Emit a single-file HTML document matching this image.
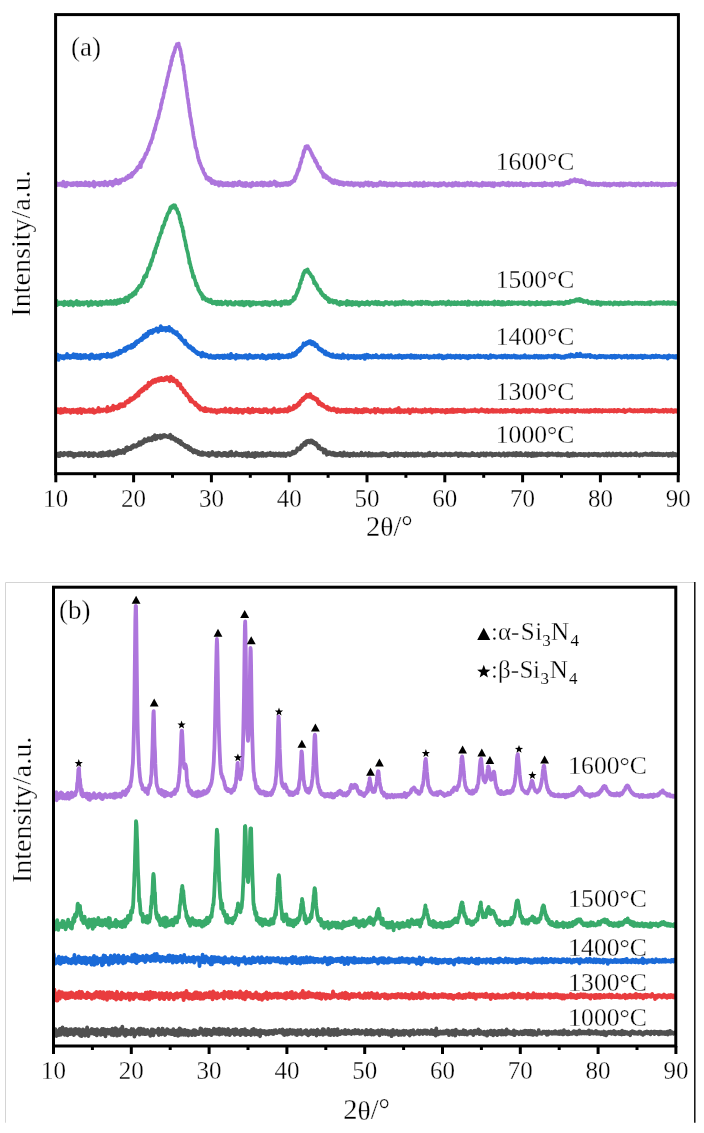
<!DOCTYPE html><html><head><meta charset="utf-8"><style>html,body{margin:0;padding:0;background:#fff;}svg{display:block;will-change:transform}text{font-family:"Liberation Serif",serif;fill:#000;stroke:#fff;stroke-width:0.3px}</style></head><body>
<svg width="704" height="1133" viewBox="0 0 704 1133">
<rect width="704" height="1133" fill="#fff"/>
<defs><clipPath id="ca"><rect x="55.8" y="0" width="622.6" height="480"/></clipPath><clipPath id="cb"><rect x="53.5" y="560" width="622.3" height="500"/></clipPath></defs>
<g clip-path="url(#ca)">
<polyline fill="none" stroke="#ad75dc" stroke-width="3.7" stroke-linejoin="round" points="55.8,184.6 56.1,185.1 56.4,184.6 56.7,183.0 57.0,185.2 57.4,184.7 57.7,183.8 58.0,184.9 58.3,184.7 58.6,184.6 58.9,184.3 59.2,184.8 59.5,183.6 59.8,184.1 60.2,183.8 60.5,184.9 60.8,184.3 61.1,184.0 61.4,183.5 61.7,184.0 62.0,184.3 62.3,184.0 62.6,185.6 63.0,185.3 63.3,181.6 63.6,182.4 63.9,184.1 64.2,183.9 64.5,184.5 64.8,184.5 65.1,186.4 65.4,183.2 65.8,183.9 66.1,186.3 66.4,184.9 66.7,185.0 67.0,183.8 67.3,182.7 67.6,184.5 67.9,184.4 68.2,183.1 68.6,183.6 68.9,184.2 69.2,183.4 69.5,184.2 69.8,184.4 70.1,184.3 70.4,183.8 70.7,184.9 71.0,185.2 71.4,184.6 71.7,183.5 72.0,185.0 72.3,183.8 72.6,185.2 72.9,183.2 73.2,185.2 73.5,184.3 73.8,183.1 74.2,184.0 74.5,184.3 74.8,184.6 75.1,183.3 75.4,183.2 75.7,184.5 76.0,183.8 76.3,184.5 76.7,185.0 77.0,182.7 77.3,184.5 77.6,185.5 77.9,184.0 78.2,183.5 78.5,185.0 78.8,184.5 79.1,185.2 79.5,183.9 79.8,182.8 80.1,184.2 80.4,183.8 80.7,185.0 81.0,184.5 81.3,182.7 81.6,183.1 81.9,185.1 82.3,184.9 82.6,183.6 82.9,184.3 83.2,184.7 83.5,184.7 83.8,185.1 84.1,184.5 84.4,184.2 84.7,184.0 85.1,185.3 85.4,182.0 85.7,184.1 86.0,184.3 86.3,182.8 86.6,184.6 86.9,183.6 87.2,185.1 87.5,184.1 87.9,184.9 88.2,185.4 88.5,184.6 88.8,183.4 89.1,182.7 89.4,185.9 89.7,184.1 90.0,183.5 90.3,184.3 90.7,184.0 91.0,185.0 91.3,184.2 91.6,184.2 91.9,183.5 92.2,184.6 92.5,183.2 92.8,184.8 93.1,185.6 93.5,182.7 93.8,181.7 94.1,184.7 94.4,186.6 94.7,183.1 95.0,182.9 95.3,184.7 95.6,183.3 95.9,183.6 96.3,183.7 96.6,184.6 96.9,183.7 97.2,184.3 97.5,183.9 97.8,183.2 98.1,183.7 98.4,183.1 98.7,184.0 99.1,182.9 99.4,182.9 99.7,185.4 100.0,183.9 100.3,183.9 100.6,184.4 100.9,183.5 101.2,183.7 101.5,184.3 101.9,184.1 102.2,182.7 102.5,184.6 102.8,183.3 103.1,182.8 103.4,182.9 103.7,183.4 104.0,185.3 104.3,182.6 104.7,183.9 105.0,181.6 105.3,183.7 105.6,184.5 105.9,183.4 106.2,183.0 106.5,183.8 106.8,184.2 107.1,184.1 107.5,185.4 107.8,183.7 108.1,182.9 108.4,183.3 108.7,183.3 109.0,183.4 109.3,183.3 109.6,183.4 109.9,181.6 110.3,184.0 110.6,182.6 110.9,182.0 111.2,183.7 111.5,184.3 111.8,183.5 112.1,183.1 112.4,182.0 112.7,185.6 113.1,183.6 113.4,181.7 113.7,182.0 114.0,182.7 114.3,181.1 114.6,182.7 114.9,182.0 115.2,183.6 115.6,183.3 115.9,179.7 116.2,182.3 116.5,180.6 116.8,183.1 117.1,182.2 117.4,182.5 117.7,180.8 118.0,183.5 118.4,183.6 118.7,180.6 119.0,181.9 119.3,180.8 119.6,181.3 119.9,180.1 120.2,182.9 120.5,180.1 120.8,180.7 121.2,181.3 121.5,180.1 121.8,180.4 122.1,180.0 122.4,180.3 122.7,179.2 123.0,179.7 123.3,179.8 123.6,179.6 124.0,179.8 124.3,179.3 124.6,180.2 124.9,179.0 125.2,179.0 125.5,178.4 125.8,178.4 126.1,177.5 126.4,179.0 126.8,177.3 127.1,177.5 127.4,178.3 127.7,178.2 128.0,177.2 128.3,175.5 128.6,177.6 128.9,177.3 129.2,175.5 129.6,177.3 129.9,175.7 130.2,175.1 130.5,176.0 130.8,175.5 131.1,175.6 131.4,173.7 131.7,176.6 132.0,174.1 132.4,172.9 132.7,174.7 133.0,173.5 133.3,173.8 133.6,172.9 133.9,172.9 134.2,172.9 134.5,171.6 134.8,172.6 135.2,171.2 135.5,170.5 135.8,171.0 136.1,171.0 136.4,170.0 136.7,169.0 137.0,170.1 137.3,167.4 137.6,167.7 138.0,168.3 138.3,166.6 138.6,167.5 138.9,166.9 139.2,167.4 139.5,165.2 139.8,165.0 140.1,165.5 140.4,162.4 140.8,167.1 141.1,163.0 141.4,162.5 141.7,163.4 142.0,162.1 142.3,159.9 142.6,161.6 142.9,161.2 143.2,159.4 143.6,159.0 143.9,159.1 144.2,157.2 144.5,157.8 144.8,157.0 145.1,155.5 145.4,154.2 145.7,154.6 146.0,153.3 146.4,154.3 146.7,152.8 147.0,152.7 147.3,151.4 147.6,150.7 147.9,149.0 148.2,149.6 148.5,149.8 148.8,147.1 149.2,146.0 149.5,145.6 149.8,144.4 150.1,143.4 150.4,143.3 150.7,142.0 151.0,142.7 151.3,140.5 151.6,139.9 152.0,139.5 152.3,137.4 152.6,138.1 152.9,135.2 153.2,134.0 153.5,133.4 153.8,132.7 154.1,130.5 154.5,130.7 154.8,128.1 155.1,129.9 155.4,127.4 155.7,125.8 156.0,124.5 156.3,123.8 156.6,122.9 156.9,121.0 157.3,119.9 157.6,119.4 157.9,117.9 158.2,118.1 158.5,117.1 158.8,114.8 159.1,114.0 159.4,111.1 159.7,111.7 160.1,109.8 160.4,109.0 160.7,108.8 161.0,104.0 161.3,105.0 161.6,102.4 161.9,102.7 162.2,99.6 162.5,99.0 162.9,98.4 163.2,97.4 163.5,95.6 163.8,93.4 164.1,92.3 164.4,92.2 164.7,90.1 165.0,87.2 165.3,88.1 165.7,86.4 166.0,85.4 166.3,83.0 166.6,82.7 166.9,79.6 167.2,79.7 167.5,77.4 167.8,77.1 168.1,76.0 168.5,73.1 168.8,72.4 169.1,71.1 169.4,70.9 169.7,69.1 170.0,66.1 170.3,66.3 170.6,65.3 170.9,65.3 171.3,60.6 171.6,60.4 171.9,60.9 172.2,57.3 172.5,56.3 172.8,56.7 173.1,56.1 173.4,53.5 173.7,53.5 174.1,52.1 174.4,52.4 174.7,50.1 175.0,50.1 175.3,47.5 175.6,47.4 175.9,46.7 176.2,47.1 176.5,46.0 176.9,44.2 177.2,45.1 177.5,44.8 177.8,43.8 178.1,43.9 178.4,44.4 178.7,43.6 179.0,46.1 179.3,47.0 179.7,47.1 180.0,49.7 180.3,49.1 180.6,51.2 180.9,52.7 181.2,56.5 181.5,54.9 181.8,58.5 182.1,60.6 182.5,61.9 182.8,64.6 183.1,64.5 183.4,65.4 183.7,70.2 184.0,70.5 184.3,73.3 184.6,74.7 184.9,78.9 185.3,80.9 185.6,81.7 185.9,85.3 186.2,86.8 186.5,88.8 186.8,91.2 187.1,93.2 187.4,96.2 187.7,98.1 188.1,99.8 188.4,103.2 188.7,103.9 189.0,106.9 189.3,109.1 189.6,112.2 189.9,112.6 190.2,116.6 190.5,117.3 190.9,119.0 191.2,120.6 191.5,123.7 191.8,125.1 192.1,126.0 192.4,127.8 192.7,130.2 193.0,131.9 193.4,135.2 193.7,137.2 194.0,138.4 194.3,139.6 194.6,140.5 194.9,142.5 195.2,144.8 195.5,147.4 195.8,147.8 196.2,148.2 196.5,149.8 196.8,150.7 197.1,151.8 197.4,153.6 197.7,155.1 198.0,157.8 198.3,157.3 198.6,159.6 199.0,161.1 199.3,160.6 199.6,163.0 199.9,163.2 200.2,163.1 200.5,164.7 200.8,165.3 201.1,166.0 201.4,166.8 201.8,167.9 202.1,168.9 202.4,168.5 202.7,170.0 203.0,169.3 203.3,171.5 203.6,172.5 203.9,172.7 204.2,173.3 204.6,174.2 204.9,173.6 205.2,174.5 205.5,175.6 205.8,176.5 206.1,176.4 206.4,178.7 206.7,176.8 207.0,178.2 207.4,178.8 207.7,177.9 208.0,177.6 208.3,177.6 208.6,179.1 208.9,180.2 209.2,179.8 209.5,180.0 209.8,179.7 210.2,180.8 210.5,178.6 210.8,180.9 211.1,181.0 211.4,179.9 211.7,183.2 212.0,180.3 212.3,180.7 212.6,180.8 213.0,182.9 213.3,181.3 213.6,182.8 213.9,182.9 214.2,182.7 214.5,181.4 214.8,182.2 215.1,184.2 215.4,181.8 215.8,182.2 216.1,182.9 216.4,183.8 216.7,183.4 217.0,183.9 217.3,182.4 217.6,184.2 217.9,184.0 218.2,182.1 218.6,184.9 218.9,185.6 219.2,183.0 219.5,183.7 219.8,185.0 220.1,182.5 220.4,182.1 220.7,182.7 221.0,183.4 221.4,183.4 221.7,184.5 222.0,184.2 222.3,182.9 222.6,184.5 222.9,185.6 223.2,185.1 223.5,184.9 223.8,184.1 224.2,184.9 224.5,183.3 224.8,184.8 225.1,184.1 225.4,185.1 225.7,184.6 226.0,183.2 226.3,184.3 226.6,185.2 227.0,183.2 227.3,183.7 227.6,183.5 227.9,182.9 228.2,185.1 228.5,185.4 228.8,184.9 229.1,184.4 229.4,184.2 229.8,184.5 230.1,183.6 230.4,185.0 230.7,185.2 231.0,185.1 231.3,183.8 231.6,184.3 231.9,184.1 232.3,185.8 232.6,184.4 232.9,182.7 233.2,184.6 233.5,185.9 233.8,184.9 234.1,185.0 234.4,184.3 234.7,182.6 235.1,182.7 235.4,183.2 235.7,184.2 236.0,184.6 236.3,184.9 236.6,184.0 236.9,185.1 237.2,184.1 237.5,183.7 237.9,185.0 238.2,183.5 238.5,182.0 238.8,183.4 239.1,184.4 239.4,181.7 239.7,184.0 240.0,184.0 240.3,183.1 240.7,183.0 241.0,183.9 241.3,183.8 241.6,185.4 241.9,184.6 242.2,183.0 242.5,183.6 242.8,184.9 243.1,185.9 243.5,184.6 243.8,184.6 244.1,185.9 244.4,184.3 244.7,184.0 245.0,183.1 245.3,183.9 245.6,186.1 245.9,183.1 246.3,184.3 246.6,183.1 246.9,184.4 247.2,185.1 247.5,184.1 247.8,184.9 248.1,184.9 248.4,184.7 248.7,185.8 249.1,185.0 249.4,184.0 249.7,183.7 250.0,183.6 250.3,184.7 250.6,184.0 250.9,186.6 251.2,185.9 251.5,184.1 251.9,184.0 252.2,185.7 252.5,182.7 252.8,183.9 253.1,185.1 253.4,183.5 253.7,183.9 254.0,184.0 254.3,184.9 254.7,184.4 255.0,184.6 255.3,184.8 255.6,184.3 255.9,185.2 256.2,183.7 256.5,183.1 256.8,182.8 257.1,182.9 257.5,183.8 257.8,185.2 258.1,184.4 258.4,183.8 258.7,183.4 259.0,183.9 259.3,184.0 259.6,183.8 259.9,183.1 260.3,183.9 260.6,185.1 260.9,182.5 261.2,184.1 261.5,182.5 261.8,184.5 262.1,183.7 262.4,182.6 262.7,184.4 263.1,185.8 263.4,184.4 263.7,185.3 264.0,184.2 264.3,182.5 264.6,184.7 264.9,184.0 265.2,183.1 265.5,185.0 265.9,184.5 266.2,183.9 266.5,185.0 266.8,183.6 267.1,184.8 267.4,183.5 267.7,184.7 268.0,183.4 268.3,185.5 268.7,184.5 269.0,185.5 269.3,183.6 269.6,183.9 269.9,185.0 270.2,182.0 270.5,183.4 270.8,185.2 271.2,184.7 271.5,185.1 271.8,184.0 272.1,184.8 272.4,183.7 272.7,183.2 273.0,182.9 273.3,183.8 273.6,183.8 274.0,183.8 274.3,181.4 274.6,182.7 274.9,183.9 275.2,184.5 275.5,183.8 275.8,183.6 276.1,182.4 276.4,186.0 276.8,183.4 277.1,185.7 277.4,185.6 277.7,184.5 278.0,183.8 278.3,184.4 278.6,183.4 278.9,184.5 279.2,184.3 279.6,184.7 279.9,185.1 280.2,185.7 280.5,184.0 280.8,185.1 281.1,183.6 281.4,183.6 281.7,183.8 282.0,183.5 282.4,185.1 282.7,185.0 283.0,185.3 283.3,184.3 283.6,184.5 283.9,183.8 284.2,183.3 284.5,184.6 284.8,184.4 285.2,183.3 285.5,184.7 285.8,182.8 286.1,184.0 286.4,183.6 286.7,183.7 287.0,183.2 287.3,184.8 287.6,184.5 288.0,184.9 288.3,184.0 288.6,182.8 288.9,183.4 289.2,182.7 289.5,183.9 289.8,184.4 290.1,183.6 290.4,182.7 290.8,182.8 291.1,183.1 291.4,181.5 291.7,182.6 292.0,182.4 292.3,181.6 292.6,181.4 292.9,181.6 293.2,180.5 293.6,180.1 293.9,181.0 294.2,180.1 294.5,180.9 294.8,178.2 295.1,177.0 295.4,178.7 295.7,178.1 296.0,176.1 296.4,174.8 296.7,175.2 297.0,173.1 297.3,173.4 297.6,171.1 297.9,171.8 298.2,169.3 298.5,169.9 298.8,170.3 299.2,167.9 299.5,167.7 299.8,165.5 300.1,164.2 300.4,162.6 300.7,163.6 301.0,161.6 301.3,161.8 301.6,158.5 302.0,158.1 302.3,157.3 302.6,157.3 302.9,156.6 303.2,153.7 303.5,152.3 303.8,150.9 304.1,152.5 304.4,150.6 304.8,149.4 305.1,149.2 305.4,146.7 305.7,146.8 306.0,148.5 306.3,147.7 306.6,147.3 306.9,146.2 307.2,147.3 307.6,148.3 307.9,146.2 308.2,147.5 308.5,147.6 308.8,148.6 309.1,148.9 309.4,149.2 309.7,149.2 310.1,150.4 310.4,150.5 310.7,151.5 311.0,152.1 311.3,153.3 311.6,153.0 311.9,153.8 312.2,155.5 312.5,155.1 312.9,155.7 313.2,157.3 313.5,157.4 313.8,157.9 314.1,158.7 314.4,158.1 314.7,160.1 315.0,161.4 315.3,161.4 315.7,160.3 316.0,162.4 316.3,162.0 316.6,163.2 316.9,164.0 317.2,163.6 317.5,166.1 317.8,165.6 318.1,166.8 318.5,167.2 318.8,168.3 319.1,168.7 319.4,167.1 319.7,168.8 320.0,167.5 320.3,169.3 320.6,170.7 320.9,171.3 321.3,172.0 321.6,171.2 321.9,172.1 322.2,172.4 322.5,173.7 322.8,174.3 323.1,173.2 323.4,176.8 323.7,174.2 324.1,174.3 324.4,175.3 324.7,175.8 325.0,176.0 325.3,175.3 325.6,177.3 325.9,176.5 326.2,177.9 326.5,178.1 326.9,176.3 327.2,176.8 327.5,177.0 327.8,178.2 328.1,178.3 328.4,178.7 328.7,178.1 329.0,179.3 329.3,180.2 329.7,178.3 330.0,179.4 330.3,179.9 330.6,179.8 330.9,179.9 331.2,181.6 331.5,181.4 331.8,181.2 332.1,180.1 332.5,182.6 332.8,181.3 333.1,180.7 333.4,181.0 333.7,181.0 334.0,183.2 334.3,181.8 334.6,181.8 334.9,180.2 335.3,182.5 335.6,181.2 335.9,181.3 336.2,182.7 336.5,181.7 336.8,183.1 337.1,183.4 337.4,181.2 337.7,182.6 338.1,181.5 338.4,182.8 338.7,183.6 339.0,181.9 339.3,184.4 339.6,182.8 339.9,182.2 340.2,183.1 340.5,183.8 340.9,182.2 341.2,183.3 341.5,182.3 341.8,184.3 342.1,183.6 342.4,183.2 342.7,184.3 343.0,182.6 343.3,183.3 343.7,185.0 344.0,183.6 344.3,184.7 344.6,183.9 344.9,183.2 345.2,183.6 345.5,183.9 345.8,183.5 346.1,183.2 346.5,183.3 346.8,182.7 347.1,184.0 347.4,184.2 347.7,184.5 348.0,182.6 348.3,184.6 348.6,184.0 349.0,182.9 349.3,184.1 349.6,184.7 349.9,184.4 350.2,184.6 350.5,184.8 350.8,184.8 351.1,184.1 351.4,182.5 351.8,183.5 352.1,184.4 352.4,183.8 352.7,184.7 353.0,184.7 353.3,184.2 353.6,185.6 353.9,183.4 354.2,184.9 354.6,183.8 354.9,183.6 355.2,184.6 355.5,183.7 355.8,184.8 356.1,183.3 356.4,184.2 356.7,183.6 357.0,184.0 357.4,183.9 357.7,183.4 358.0,184.7 358.3,183.3 358.6,183.5 358.9,184.9 359.2,185.0 359.5,184.7 359.8,184.5 360.2,186.0 360.5,183.3 360.8,183.7 361.1,183.5 361.4,184.9 361.7,184.5 362.0,185.1 362.3,185.0 362.6,184.1 363.0,183.6 363.3,183.5 363.6,185.9 363.9,185.0 364.2,184.7 364.5,184.0 364.8,184.1 365.1,184.0 365.4,184.0 365.8,182.5 366.1,184.2 366.4,184.0 366.7,184.5 367.0,184.4 367.3,184.9 367.6,184.3 367.9,184.9 368.2,182.4 368.6,183.5 368.9,185.6 369.2,183.4 369.5,184.1 369.8,184.8 370.1,183.6 370.4,184.8 370.7,183.2 371.0,182.9 371.4,183.3 371.7,183.1 372.0,184.3 372.3,184.0 372.6,184.5 372.9,183.5 373.2,186.2 373.5,184.2 373.8,184.3 374.2,184.6 374.5,184.1 374.8,183.8 375.1,184.4 375.4,185.0 375.7,184.8 376.0,185.0 376.3,183.9 376.6,183.7 377.0,185.8 377.3,184.1 377.6,184.6 377.9,184.8 378.2,185.3 378.5,183.3 378.8,183.9 379.1,184.0 379.4,184.1 379.8,182.5 380.1,184.2 380.4,182.2 380.7,184.5 381.0,184.7 381.3,184.7 381.6,183.4 381.9,185.0 382.2,183.7 382.6,183.4 382.9,183.6 383.2,183.7 383.5,184.4 383.8,184.9 384.1,182.7 384.4,183.9 384.7,185.0 385.0,184.4 385.4,184.7 385.7,183.2 386.0,185.0 386.3,183.1 386.6,184.4 386.9,185.3 387.2,185.7 387.5,184.7 387.9,184.9 388.2,183.9 388.5,183.9 388.8,185.2 389.1,184.3 389.4,184.2 389.7,183.3 390.0,184.4 390.3,184.8 390.7,183.7 391.0,183.9 391.3,185.5 391.6,184.4 391.9,184.1 392.2,183.5 392.5,183.8 392.8,184.1 393.1,185.3 393.5,183.9 393.8,185.6 394.1,183.6 394.4,184.0 394.7,184.9 395.0,184.1 395.3,183.7 395.6,184.2 395.9,184.6 396.3,183.1 396.6,184.1 396.9,184.2 397.2,184.0 397.5,184.8 397.8,183.9 398.1,184.0 398.4,184.3 398.7,184.8 399.1,184.1 399.4,185.4 399.7,183.6 400.0,185.2 400.3,183.7 400.6,184.2 400.9,184.6 401.2,185.8 401.5,184.9 401.9,184.0 402.2,185.2 402.5,184.1 402.8,183.7 403.1,184.6 403.4,184.4 403.7,185.0 404.0,183.9 404.3,184.6 404.7,184.8 405.0,184.5 405.3,184.3 405.6,183.8 405.9,184.9 406.2,184.4 406.5,184.7 406.8,184.0 407.1,184.3 407.5,183.6 407.8,184.4 408.1,184.8 408.4,184.4 408.7,184.9 409.0,184.5 409.3,185.3 409.6,184.2 409.9,183.1 410.3,184.6 410.6,184.2 410.9,183.6 411.2,184.8 411.5,184.5 411.8,184.6 412.1,184.1 412.4,184.4 412.7,184.5 413.1,185.6 413.4,183.8 413.7,184.3 414.0,184.6 414.3,183.1 414.6,183.2 414.9,185.8 415.2,183.0 415.5,184.7 415.9,183.7 416.2,183.8 416.5,182.9 416.8,183.7 417.1,184.9 417.4,183.3 417.7,184.7 418.0,184.5 418.3,185.7 418.7,184.0 419.0,185.2 419.3,184.9 419.6,184.1 419.9,183.1 420.2,185.4 420.5,183.3 420.8,184.0 421.1,184.9 421.5,185.1 421.8,183.7 422.1,184.3 422.4,184.1 422.7,185.1 423.0,186.1 423.3,183.0 423.6,184.9 423.9,182.3 424.3,184.3 424.6,183.5 424.9,185.7 425.2,184.4 425.5,183.8 425.8,183.9 426.1,183.9 426.4,184.4 426.8,184.2 427.1,184.8 427.4,185.4 427.7,184.8 428.0,183.4 428.3,183.2 428.6,183.8 428.9,185.0 429.2,184.1 429.6,183.8 429.9,184.4 430.2,183.3 430.5,183.5 430.8,184.7 431.1,184.1 431.4,184.0 431.7,184.5 432.0,183.9 432.4,183.8 432.7,184.0 433.0,184.7 433.3,184.3 433.6,183.5 433.9,184.1 434.2,184.8 434.5,185.6 434.8,183.5 435.2,184.5 435.5,184.1 435.8,184.9 436.1,184.6 436.4,185.3 436.7,184.7 437.0,183.9 437.3,183.9 437.6,184.6 438.0,184.6 438.3,186.0 438.6,185.5 438.9,183.5 439.2,184.5 439.5,183.4 439.8,183.2 440.1,184.8 440.4,184.7 440.8,183.6 441.1,185.4 441.4,183.6 441.7,183.5 442.0,184.8 442.3,184.5 442.6,184.2 442.9,184.3 443.2,184.5 443.6,184.2 443.9,184.2 444.2,183.0 444.5,183.4 444.8,184.7 445.1,183.8 445.4,184.7 445.7,185.1 446.0,184.1 446.4,184.5 446.7,185.7 447.0,184.8 447.3,185.6 447.6,185.4 447.9,184.8 448.2,184.2 448.5,183.7 448.8,183.5 449.2,184.6 449.5,184.6 449.8,184.2 450.1,184.9 450.4,183.9 450.7,185.1 451.0,184.3 451.3,184.3 451.6,184.3 452.0,184.2 452.3,186.0 452.6,183.2 452.9,184.4 453.2,185.1 453.5,184.8 453.8,184.1 454.1,185.5 454.4,183.6 454.8,183.4 455.1,184.7 455.4,183.3 455.7,182.7 456.0,184.9 456.3,184.8 456.6,184.8 456.9,184.0 457.2,184.4 457.6,183.6 457.9,185.5 458.2,184.8 458.5,184.8 458.8,183.0 459.1,184.8 459.4,185.3 459.7,185.1 460.0,184.8 460.4,184.3 460.7,184.1 461.0,184.7 461.3,184.6 461.6,184.5 461.9,184.1 462.2,185.4 462.5,183.5 462.8,184.3 463.2,183.9 463.5,185.0 463.8,185.3 464.1,185.1 464.4,184.8 464.7,183.4 465.0,185.7 465.3,184.6 465.7,184.2 466.0,184.3 466.3,184.1 466.6,184.6 466.9,184.5 467.2,184.1 467.5,182.6 467.8,184.3 468.1,184.6 468.5,184.7 468.8,184.2 469.1,184.6 469.4,185.0 469.7,184.0 470.0,185.3 470.3,183.0 470.6,183.5 470.9,183.7 471.3,182.7 471.6,183.6 471.9,185.1 472.2,185.1 472.5,184.4 472.8,185.4 473.1,184.5 473.4,184.0 473.7,184.5 474.1,184.2 474.4,184.8 474.7,183.3 475.0,185.0 475.3,184.0 475.6,184.9 475.9,183.3 476.2,184.0 476.5,184.4 476.9,184.9 477.2,183.5 477.5,185.4 477.8,184.6 478.1,184.0 478.4,185.1 478.7,184.4 479.0,185.1 479.3,185.8 479.7,184.8 480.0,184.0 480.3,184.0 480.6,184.7 480.9,184.5 481.2,183.8 481.5,183.9 481.8,184.7 482.1,185.8 482.5,182.6 482.8,184.8 483.1,184.2 483.4,184.8 483.7,184.9 484.0,184.3 484.3,183.6 484.6,183.4 484.9,183.1 485.3,185.1 485.6,184.2 485.9,183.9 486.2,184.1 486.5,183.4 486.8,184.5 487.1,185.2 487.4,185.0 487.7,183.3 488.1,185.2 488.4,183.8 488.7,183.1 489.0,183.5 489.3,183.7 489.6,184.3 489.9,183.6 490.2,183.3 490.5,184.1 490.9,185.6 491.2,183.8 491.5,184.6 491.8,184.4 492.1,186.0 492.4,183.1 492.7,185.0 493.0,183.5 493.3,183.9 493.7,184.2 494.0,186.4 494.3,183.8 494.6,183.1 494.9,185.1 495.2,183.8 495.5,184.1 495.8,184.3 496.1,184.4 496.5,184.2 496.8,184.5 497.1,184.6 497.4,184.9 497.7,184.0 498.0,183.8 498.3,183.6 498.6,184.7 498.9,184.3 499.3,184.7 499.6,184.6 499.9,185.4 500.2,184.4 500.5,184.8 500.8,183.5 501.1,183.6 501.4,184.1 501.7,183.5 502.1,184.7 502.4,183.4 502.7,184.3 503.0,182.7 503.3,183.6 503.6,184.1 503.9,184.1 504.2,183.2 504.6,184.4 504.9,184.9 505.2,184.7 505.5,183.9 505.8,183.9 506.1,183.5 506.4,184.7 506.7,185.2 507.0,184.0 507.4,183.2 507.7,184.4 508.0,184.8 508.3,182.6 508.6,184.4 508.9,185.7 509.2,184.8 509.5,184.6 509.8,184.6 510.2,185.0 510.5,183.7 510.8,183.8 511.1,184.6 511.4,183.9 511.7,184.5 512.0,183.1 512.3,184.8 512.6,184.8 513.0,184.3 513.3,184.4 513.6,185.3 513.9,183.6 514.2,183.7 514.5,183.6 514.8,184.0 515.1,183.7 515.4,184.3 515.8,183.9 516.1,183.4 516.4,183.3 516.7,185.1 517.0,184.3 517.3,184.2 517.6,184.3 517.9,184.2 518.2,184.8 518.6,184.7 518.9,183.9 519.2,183.8 519.5,183.6 519.8,183.5 520.1,185.2 520.4,183.7 520.7,183.0 521.0,183.8 521.4,183.8 521.7,184.5 522.0,183.7 522.3,184.6 522.6,184.5 522.9,185.1 523.2,185.7 523.5,186.1 523.8,185.1 524.2,183.6 524.5,184.0 524.8,184.5 525.1,185.6 525.4,184.7 525.7,185.0 526.0,184.2 526.3,184.7 526.6,184.7 527.0,184.0 527.3,184.8 527.6,185.0 527.9,184.2 528.2,184.9 528.5,185.3 528.8,184.3 529.1,184.3 529.4,184.1 529.8,183.9 530.1,184.4 530.4,184.0 530.7,184.1 531.0,183.8 531.3,183.4 531.6,183.7 531.9,184.5 532.2,183.6 532.6,183.9 532.9,185.3 533.2,185.0 533.5,183.9 533.8,184.7 534.1,183.9 534.4,185.3 534.7,183.9 535.0,184.4 535.4,185.2 535.7,183.8 536.0,185.1 536.3,183.8 536.6,184.4 536.9,184.1 537.2,184.2 537.5,184.4 537.8,184.3 538.2,183.7 538.5,184.8 538.8,184.7 539.1,185.1 539.4,185.1 539.7,183.5 540.0,185.1 540.3,185.1 540.6,184.0 541.0,184.9 541.3,185.2 541.6,184.0 541.9,183.5 542.2,184.1 542.5,186.0 542.8,184.4 543.1,183.6 543.5,184.1 543.8,183.7 544.1,184.1 544.4,184.4 544.7,182.7 545.0,184.5 545.3,185.2 545.6,184.2 545.9,184.1 546.3,185.0 546.6,183.5 546.9,183.5 547.2,183.5 547.5,184.2 547.8,184.5 548.1,184.2 548.4,184.6 548.7,184.8 549.1,184.6 549.4,183.8 549.7,184.1 550.0,185.0 550.3,183.7 550.6,184.1 550.9,184.0 551.2,184.2 551.5,183.6 551.9,183.5 552.2,185.8 552.5,184.9 552.8,183.9 553.1,184.3 553.4,184.7 553.7,184.1 554.0,184.6 554.3,183.9 554.7,184.1 555.0,184.2 555.3,184.0 555.6,182.8 555.9,184.3 556.2,184.4 556.5,184.5 556.8,183.6 557.1,184.4 557.5,184.3 557.8,183.1 558.1,182.9 558.4,184.4 558.7,183.6 559.0,184.7 559.3,185.4 559.6,183.7 559.9,183.6 560.3,184.0 560.6,184.4 560.9,183.3 561.2,184.7 561.5,184.5 561.8,184.2 562.1,183.5 562.4,184.3 562.7,184.2 563.1,182.9 563.4,184.8 563.7,183.3 564.0,183.7 564.3,183.1 564.6,183.5 564.9,183.9 565.2,182.7 565.5,182.1 565.9,182.7 566.2,182.1 566.5,182.3 566.8,182.6 567.1,182.5 567.4,183.2 567.7,181.8 568.0,182.5 568.3,181.8 568.7,182.8 569.0,183.4 569.3,182.0 569.6,182.7 569.9,181.3 570.2,180.5 570.5,180.6 570.8,180.3 571.1,180.6 571.5,180.9 571.8,181.6 572.1,181.3 572.4,181.1 572.7,180.5 573.0,180.2 573.3,180.6 573.6,180.6 573.9,180.6 574.3,180.6 574.6,180.3 574.9,179.2 575.2,179.7 575.5,179.8 575.8,181.3 576.1,180.1 576.4,180.7 576.7,181.2 577.1,180.6 577.4,180.2 577.7,180.3 578.0,179.9 578.3,180.7 578.6,181.3 578.9,181.0 579.2,181.2 579.5,181.3 579.9,182.1 580.2,180.7 580.5,181.2 580.8,181.6 581.1,182.0 581.4,180.0 581.7,181.2 582.0,181.5 582.4,181.2 582.7,182.4 583.0,182.1 583.3,181.9 583.6,181.3 583.9,181.5 584.2,181.8 584.5,182.8 584.8,181.9 585.2,181.5 585.5,182.0 585.8,182.6 586.1,184.0 586.4,184.5 586.7,182.9 587.0,183.8 587.3,184.1 587.6,184.1 588.0,183.4 588.3,182.8 588.6,183.3 588.9,182.6 589.2,183.8 589.5,184.2 589.8,182.7 590.1,183.8 590.4,184.1 590.8,184.6 591.1,184.8 591.4,184.5 591.7,183.6 592.0,183.8 592.3,184.8 592.6,183.8 592.9,184.1 593.2,185.0 593.6,184.2 593.9,183.4 594.2,184.0 594.5,184.6 594.8,184.1 595.1,184.9 595.4,185.0 595.7,183.9 596.0,184.0 596.4,184.2 596.7,183.6 597.0,184.5 597.3,184.2 597.6,184.7 597.9,183.9 598.2,183.8 598.5,185.3 598.8,183.8 599.2,184.0 599.5,183.9 599.8,184.1 600.1,183.8 600.4,184.3 600.7,183.9 601.0,184.1 601.3,184.5 601.6,184.7 602.0,184.6 602.3,183.9 602.6,184.5 602.9,184.2 603.2,184.2 603.5,183.3 603.8,184.7 604.1,184.2 604.4,185.3 604.8,184.7 605.1,183.7 605.4,183.5 605.7,184.9 606.0,183.8 606.3,184.7 606.6,184.1 606.9,185.5 607.2,184.3 607.6,185.1 607.9,185.0 608.2,184.0 608.5,184.1 608.8,185.1 609.1,184.3 609.4,183.8 609.7,185.0 610.0,185.7 610.4,184.3 610.7,185.1 611.0,184.2 611.3,185.1 611.6,184.2 611.9,185.1 612.2,184.6 612.5,184.2 612.8,184.5 613.2,184.0 613.5,183.7 613.8,183.7 614.1,184.3 614.4,183.7 614.7,184.6 615.0,184.6 615.3,184.6 615.6,184.1 616.0,184.4 616.3,184.3 616.6,185.1 616.9,183.9 617.2,184.1 617.5,184.2 617.8,184.3 618.1,183.9 618.4,184.0 618.8,184.9 619.1,184.0 619.4,184.8 619.7,185.5 620.0,185.0 620.3,183.4 620.6,184.8 620.9,184.6 621.3,184.6 621.6,183.5 621.9,184.8 622.2,183.7 622.5,185.0 622.8,184.9 623.1,185.7 623.4,184.1 623.7,183.5 624.1,184.9 624.4,184.8 624.7,184.1 625.0,185.1 625.3,184.7 625.6,183.6 625.9,184.1 626.2,184.1 626.5,184.3 626.9,184.4 627.2,184.0 627.5,184.2 627.8,184.7 628.1,184.3 628.4,184.2 628.7,184.2 629.0,184.3 629.3,183.3 629.7,184.4 630.0,183.8 630.3,184.4 630.6,183.5 630.9,184.8 631.2,184.5 631.5,183.6 631.8,184.5 632.1,183.9 632.5,185.3 632.8,184.6 633.1,183.9 633.4,184.5 633.7,184.3 634.0,185.0 634.3,184.5 634.6,184.6 634.9,183.7 635.3,184.8 635.6,185.5 635.9,184.7 636.2,184.3 636.5,184.4 636.8,183.8 637.1,184.4 637.4,183.8 637.7,184.4 638.1,184.1 638.4,183.9 638.7,184.6 639.0,183.5 639.3,184.3 639.6,183.6 639.9,185.3 640.2,185.4 640.5,184.8 640.9,185.3 641.2,184.7 641.5,184.6 641.8,184.1 642.1,183.9 642.4,184.4 642.7,184.1 643.0,184.1 643.3,184.7 643.7,184.3 644.0,183.5 644.3,184.2 644.6,183.9 644.9,184.2 645.2,183.8 645.5,185.0 645.8,185.3 646.1,183.7 646.5,184.7 646.8,184.6 647.1,183.8 647.4,184.4 647.7,185.1 648.0,184.8 648.3,185.2 648.6,183.7 648.9,183.9 649.3,184.5 649.6,184.5 649.9,184.3 650.2,184.1 650.5,184.1 650.8,184.0 651.1,184.6 651.4,182.9 651.7,185.2 652.1,184.1 652.4,183.6 652.7,184.6 653.0,183.6 653.3,184.5 653.6,184.1 653.9,184.6 654.2,184.7 654.5,185.0 654.9,184.1 655.2,184.2 655.5,184.3 655.8,183.6 656.1,184.6 656.4,184.4 656.7,183.6 657.0,184.9 657.3,185.0 657.7,183.6 658.0,184.6 658.3,185.0 658.6,184.8 658.9,183.8 659.2,183.6 659.5,184.3 659.8,184.1 660.2,184.3 660.5,184.3 660.8,184.6 661.1,184.0 661.4,184.2 661.7,185.8 662.0,184.2 662.3,184.7 662.6,184.5 663.0,184.4 663.3,183.8 663.6,184.6 663.9,184.3 664.2,184.7 664.5,185.4 664.8,184.4 665.1,184.7 665.4,183.8 665.8,184.4 666.1,185.1 666.4,184.3 666.7,184.0 667.0,184.4 667.3,184.2 667.6,184.2 667.9,184.1 668.2,185.3 668.6,183.9 668.9,184.1 669.2,184.0 669.5,184.9 669.8,184.2 670.1,185.0 670.4,184.4 670.7,184.3 671.0,183.6 671.4,184.9 671.7,184.6 672.0,184.5 672.3,184.3 672.6,184.1 672.9,183.7 673.2,184.8 673.5,184.4 673.8,184.1 674.2,184.0 674.5,184.4 674.8,184.3 675.1,185.1 675.4,184.7 675.7,184.0 676.0,183.8 676.3,184.2 676.6,183.9 677.0,184.3 677.3,184.5 677.6,184.6 677.9,184.5 678.2,184.2"/>
<polyline fill="none" stroke="#38aa6a" stroke-width="3.7" stroke-linejoin="round" points="55.8,303.5 56.1,302.8 56.4,302.9 56.7,300.9 57.0,305.1 57.4,304.4 57.7,303.0 58.0,304.1 58.3,303.6 58.6,302.7 58.9,304.3 59.2,303.0 59.5,303.0 59.8,302.5 60.2,303.8 60.5,303.2 60.8,303.8 61.1,302.7 61.4,303.4 61.7,302.4 62.0,304.1 62.3,303.5 62.6,303.6 63.0,303.7 63.3,302.3 63.6,304.1 63.9,305.3 64.2,301.7 64.5,301.6 64.8,301.8 65.1,304.1 65.4,303.4 65.8,304.4 66.1,304.0 66.4,303.5 66.7,303.6 67.0,303.1 67.3,304.2 67.6,302.2 67.9,302.9 68.2,303.5 68.6,305.1 68.9,302.5 69.2,302.2 69.5,302.7 69.8,304.3 70.1,303.1 70.4,304.6 70.7,301.4 71.0,304.4 71.4,304.3 71.7,301.9 72.0,303.5 72.3,304.5 72.6,303.4 72.9,304.3 73.2,305.6 73.5,303.6 73.8,303.0 74.2,302.5 74.5,303.9 74.8,303.1 75.1,303.1 75.4,303.2 75.7,303.9 76.0,302.2 76.3,301.8 76.7,300.9 77.0,304.5 77.3,303.4 77.6,304.8 77.9,303.3 78.2,302.6 78.5,303.8 78.8,303.2 79.1,302.1 79.5,302.4 79.8,305.0 80.1,303.6 80.4,303.7 80.7,303.0 81.0,302.6 81.3,304.2 81.6,303.2 81.9,302.6 82.3,303.2 82.6,302.4 82.9,303.5 83.2,304.4 83.5,302.5 83.8,304.7 84.1,302.6 84.4,303.4 84.7,302.5 85.1,303.1 85.4,303.3 85.7,302.9 86.0,302.6 86.3,302.6 86.6,302.5 86.9,301.8 87.2,303.0 87.5,303.7 87.9,304.2 88.2,303.9 88.5,305.7 88.8,303.6 89.1,302.8 89.4,305.1 89.7,302.3 90.0,304.2 90.3,302.4 90.7,303.6 91.0,301.4 91.3,304.2 91.6,303.1 91.9,302.3 92.2,304.9 92.5,304.0 92.8,303.3 93.1,302.5 93.5,303.2 93.8,303.1 94.1,304.0 94.4,304.0 94.7,302.6 95.0,302.7 95.3,302.7 95.6,301.9 95.9,302.7 96.3,303.2 96.6,303.9 96.9,304.5 97.2,302.5 97.5,303.8 97.8,302.8 98.1,305.2 98.4,303.2 98.7,303.7 99.1,302.3 99.4,302.4 99.7,303.4 100.0,302.8 100.3,303.5 100.6,301.7 100.9,303.8 101.2,302.3 101.5,304.8 101.9,302.9 102.2,304.2 102.5,301.8 102.8,303.6 103.1,302.3 103.4,302.7 103.7,303.2 104.0,302.8 104.3,303.4 104.7,303.8 105.0,303.7 105.3,303.0 105.6,301.8 105.9,302.3 106.2,302.9 106.5,301.0 106.8,303.7 107.1,302.8 107.5,302.7 107.8,303.9 108.1,303.6 108.4,303.2 108.7,302.0 109.0,303.2 109.3,303.2 109.6,302.0 109.9,303.8 110.3,303.3 110.6,300.9 110.9,302.9 111.2,301.5 111.5,303.8 111.8,303.5 112.1,301.6 112.4,301.8 112.7,302.7 113.1,302.4 113.4,304.0 113.7,303.2 114.0,302.2 114.3,303.0 114.6,300.5 114.9,302.7 115.2,303.2 115.6,302.1 115.9,301.6 116.2,302.7 116.5,304.0 116.8,302.3 117.1,301.0 117.4,303.4 117.7,300.1 118.0,302.4 118.4,301.3 118.7,302.6 119.0,300.9 119.3,302.9 119.6,301.8 119.9,299.8 120.2,299.5 120.5,301.0 120.8,302.5 121.2,301.3 121.5,301.1 121.8,300.7 122.1,301.6 122.4,301.1 122.7,300.9 123.0,299.6 123.3,301.6 123.6,301.6 124.0,299.0 124.3,302.3 124.6,300.7 124.9,299.4 125.2,297.9 125.5,300.2 125.8,300.0 126.1,298.8 126.4,297.5 126.8,300.1 127.1,298.3 127.4,298.3 127.7,301.2 128.0,300.4 128.3,299.1 128.6,297.6 128.9,298.4 129.2,295.5 129.6,297.5 129.9,296.5 130.2,295.8 130.5,295.3 130.8,297.0 131.1,296.4 131.4,296.2 131.7,296.6 132.0,294.7 132.4,294.1 132.7,293.3 133.0,294.4 133.3,295.2 133.6,294.0 133.9,294.5 134.2,292.4 134.5,292.8 134.8,292.2 135.2,291.4 135.5,294.0 135.8,292.7 136.1,290.8 136.4,290.4 136.7,290.7 137.0,289.0 137.3,290.4 137.6,288.4 138.0,288.8 138.3,287.8 138.6,287.9 138.9,286.6 139.2,286.0 139.5,286.1 139.8,285.9 140.1,285.7 140.4,285.6 140.8,286.5 141.1,285.3 141.4,283.8 141.7,284.1 142.0,282.3 142.3,283.7 142.6,282.3 142.9,280.0 143.2,281.3 143.6,280.8 143.9,276.9 144.2,278.1 144.5,277.7 144.8,275.7 145.1,275.9 145.4,275.3 145.7,276.0 146.0,275.1 146.4,276.6 146.7,273.1 147.0,273.8 147.3,272.1 147.6,271.5 147.9,269.5 148.2,268.0 148.5,268.3 148.8,268.9 149.2,268.9 149.5,267.2 149.8,266.3 150.1,264.2 150.4,265.6 150.7,264.6 151.0,262.0 151.3,261.6 151.6,259.9 152.0,261.3 152.3,259.4 152.6,258.1 152.9,257.6 153.2,256.8 153.5,255.1 153.8,253.4 154.1,252.4 154.5,251.1 154.8,252.2 155.1,252.9 155.4,248.3 155.7,249.1 156.0,248.4 156.3,246.1 156.6,246.3 156.9,244.1 157.3,245.3 157.6,242.6 157.9,242.3 158.2,241.9 158.5,239.9 158.8,237.7 159.1,237.9 159.4,238.1 159.7,236.4 160.1,235.7 160.4,233.5 160.7,233.7 161.0,233.3 161.3,231.7 161.6,232.5 161.9,229.6 162.2,227.9 162.5,226.5 162.9,228.1 163.2,226.1 163.5,226.2 163.8,224.8 164.1,225.0 164.4,223.8 164.7,221.5 165.0,221.2 165.3,221.1 165.7,218.2 166.0,219.9 166.3,218.9 166.6,217.9 166.9,216.1 167.2,215.8 167.5,213.8 167.8,214.2 168.1,213.0 168.5,212.9 168.8,211.8 169.1,211.9 169.4,212.1 169.7,209.3 170.0,210.8 170.3,207.7 170.6,207.1 170.9,208.5 171.3,208.2 171.6,208.2 171.9,206.0 172.2,207.1 172.5,207.0 172.8,207.7 173.1,206.3 173.4,206.7 173.7,205.2 174.1,205.9 174.4,205.6 174.7,206.7 175.0,205.4 175.3,205.8 175.6,207.5 175.9,209.0 176.2,208.3 176.5,208.8 176.9,208.8 177.2,210.8 177.5,211.1 177.8,213.0 178.1,212.7 178.4,212.4 178.7,213.8 179.0,214.4 179.3,215.3 179.7,218.7 180.0,219.4 180.3,218.8 180.6,222.7 180.9,222.6 181.2,222.8 181.5,225.3 181.8,226.3 182.1,227.0 182.5,227.3 182.8,230.5 183.1,232.1 183.4,231.0 183.7,235.2 184.0,236.7 184.3,237.2 184.6,239.2 184.9,240.3 185.3,241.3 185.6,243.2 185.9,246.2 186.2,245.1 186.5,248.1 186.8,249.5 187.1,250.1 187.4,251.8 187.7,252.3 188.1,254.2 188.4,256.4 188.7,258.0 189.0,258.3 189.3,263.1 189.6,261.2 189.9,263.1 190.2,264.1 190.5,265.2 190.9,267.9 191.2,267.6 191.5,270.4 191.8,271.4 192.1,270.6 192.4,273.5 192.7,273.1 193.0,277.2 193.4,275.5 193.7,276.0 194.0,276.1 194.3,277.7 194.6,279.2 194.9,279.8 195.2,280.5 195.5,281.8 195.8,283.1 196.2,285.4 196.5,283.4 196.8,285.2 197.1,285.6 197.4,285.8 197.7,286.7 198.0,287.7 198.3,289.8 198.6,289.6 199.0,289.9 199.3,291.5 199.6,291.8 199.9,291.9 200.2,293.0 200.5,292.4 200.8,294.2 201.1,294.5 201.4,294.2 201.8,293.9 202.1,296.7 202.4,295.9 202.7,298.8 203.0,295.9 203.3,297.6 203.6,296.8 203.9,297.7 204.2,298.6 204.6,297.4 204.9,298.3 205.2,298.8 205.5,299.0 205.8,299.7 206.1,300.3 206.4,300.3 206.7,300.0 207.0,299.7 207.4,299.2 207.7,299.7 208.0,300.1 208.3,301.3 208.6,300.5 208.9,299.9 209.2,301.7 209.5,300.6 209.8,300.7 210.2,301.3 210.5,302.0 210.8,299.6 211.1,300.8 211.4,302.1 211.7,301.7 212.0,301.3 212.3,301.7 212.6,303.4 213.0,301.9 213.3,303.0 213.6,303.1 213.9,302.1 214.2,302.9 214.5,302.2 214.8,302.1 215.1,301.7 215.4,303.5 215.8,302.4 216.1,302.3 216.4,301.9 216.7,304.4 217.0,303.5 217.3,302.8 217.6,302.3 217.9,301.6 218.2,303.3 218.6,303.3 218.9,301.8 219.2,304.1 219.5,303.8 219.8,302.3 220.1,302.6 220.4,302.8 220.7,303.3 221.0,303.0 221.4,301.7 221.7,304.4 222.0,303.5 222.3,304.3 222.6,304.3 222.9,303.0 223.2,303.5 223.5,303.9 223.8,303.9 224.2,303.1 224.5,302.7 224.8,303.3 225.1,302.6 225.4,302.8 225.7,301.5 226.0,303.3 226.3,302.4 226.6,302.8 227.0,303.2 227.3,303.5 227.6,304.9 227.9,303.5 228.2,302.1 228.5,303.4 228.8,302.8 229.1,303.6 229.4,302.7 229.8,302.7 230.1,302.8 230.4,302.7 230.7,301.7 231.0,302.7 231.3,303.3 231.6,304.3 231.9,303.0 232.3,303.0 232.6,303.8 232.9,303.8 233.2,304.7 233.5,303.8 233.8,303.3 234.1,304.4 234.4,304.6 234.7,302.9 235.1,303.4 235.4,301.9 235.7,303.0 236.0,302.5 236.3,303.1 236.6,302.9 236.9,303.2 237.2,303.2 237.5,303.7 237.9,303.5 238.2,302.8 238.5,302.2 238.8,304.4 239.1,304.5 239.4,302.9 239.7,303.8 240.0,302.0 240.3,302.0 240.7,303.1 241.0,304.6 241.3,302.4 241.6,302.6 241.9,304.7 242.2,301.7 242.5,303.8 242.8,303.7 243.1,303.1 243.5,303.5 243.8,305.5 244.1,302.3 244.4,303.0 244.7,303.1 245.0,302.7 245.3,302.2 245.6,304.7 245.9,303.5 246.3,301.8 246.6,302.7 246.9,303.6 247.2,303.6 247.5,302.1 247.8,303.2 248.1,303.5 248.4,303.6 248.7,303.6 249.1,301.8 249.4,304.9 249.7,303.5 250.0,304.8 250.3,305.7 250.6,303.2 250.9,302.3 251.2,304.0 251.5,303.1 251.9,302.9 252.2,302.4 252.5,304.7 252.8,302.9 253.1,302.1 253.4,302.9 253.7,302.3 254.0,303.4 254.3,302.9 254.7,302.4 255.0,303.8 255.3,302.8 255.6,303.9 255.9,304.4 256.2,303.0 256.5,302.8 256.8,303.5 257.1,304.0 257.5,303.3 257.8,303.4 258.1,303.3 258.4,303.6 258.7,303.8 259.0,302.7 259.3,302.9 259.6,303.3 259.9,302.7 260.3,303.4 260.6,303.7 260.9,303.3 261.2,302.8 261.5,302.7 261.8,304.8 262.1,304.0 262.4,302.4 262.7,302.6 263.1,304.9 263.4,304.6 263.7,303.4 264.0,304.3 264.3,302.1 264.6,303.3 264.9,303.9 265.2,301.8 265.5,302.6 265.9,304.0 266.2,304.2 266.5,302.8 266.8,303.5 267.1,304.6 267.4,303.0 267.7,302.2 268.0,303.2 268.3,303.0 268.7,304.4 269.0,303.4 269.3,302.6 269.6,305.3 269.9,302.9 270.2,303.7 270.5,303.9 270.8,303.9 271.2,303.4 271.5,303.8 271.8,303.2 272.1,302.1 272.4,303.1 272.7,303.1 273.0,303.2 273.3,303.4 273.6,302.8 274.0,304.4 274.3,304.6 274.6,301.5 274.9,303.3 275.2,302.7 275.5,301.2 275.8,303.6 276.1,302.8 276.4,303.0 276.8,302.8 277.1,304.2 277.4,304.3 277.7,303.5 278.0,303.9 278.3,303.2 278.6,303.4 278.9,302.7 279.2,303.3 279.6,302.7 279.9,303.6 280.2,304.0 280.5,303.5 280.8,304.2 281.1,305.5 281.4,301.5 281.7,303.3 282.0,302.8 282.4,302.9 282.7,302.1 283.0,303.3 283.3,303.0 283.6,302.7 283.9,303.0 284.2,302.7 284.5,301.2 284.8,304.0 285.2,302.8 285.5,302.3 285.8,303.3 286.1,302.5 286.4,301.2 286.7,303.6 287.0,301.5 287.3,302.6 287.6,302.8 288.0,303.8 288.3,303.5 288.6,302.6 288.9,301.8 289.2,301.9 289.5,303.0 289.8,303.5 290.1,302.3 290.4,301.2 290.8,302.3 291.1,301.0 291.4,300.8 291.7,300.6 292.0,301.1 292.3,300.6 292.6,300.8 292.9,300.8 293.2,299.8 293.6,297.1 293.9,297.2 294.2,298.3 294.5,297.7 294.8,299.0 295.1,296.7 295.4,296.0 295.7,296.3 296.0,295.8 296.4,294.1 296.7,294.0 297.0,292.0 297.3,291.4 297.6,292.4 297.9,289.5 298.2,290.6 298.5,289.5 298.8,288.7 299.2,287.9 299.5,286.7 299.8,283.6 300.1,283.6 300.4,283.0 300.7,283.2 301.0,280.6 301.3,280.0 301.6,279.4 302.0,279.8 302.3,276.6 302.6,275.8 302.9,276.6 303.2,273.5 303.5,274.7 303.8,273.3 304.1,271.8 304.4,272.1 304.8,271.0 305.1,271.5 305.4,271.2 305.7,271.8 306.0,270.4 306.3,270.4 306.6,269.9 306.9,270.4 307.2,271.5 307.6,269.3 307.9,271.6 308.2,271.0 308.5,271.8 308.8,272.4 309.1,273.2 309.4,273.1 309.7,273.0 310.1,274.1 310.4,274.3 310.7,274.6 311.0,275.5 311.3,276.5 311.6,276.4 311.9,277.0 312.2,276.4 312.5,277.9 312.9,277.1 313.2,279.7 313.5,278.9 313.8,281.3 314.1,283.2 314.4,281.1 314.7,283.0 315.0,282.9 315.3,282.7 315.7,283.0 316.0,284.7 316.3,285.9 316.6,285.7 316.9,284.7 317.2,285.7 317.5,286.8 317.8,288.6 318.1,288.3 318.5,288.8 318.8,290.0 319.1,289.4 319.4,290.0 319.7,290.4 320.0,289.6 320.3,291.8 320.6,292.2 320.9,293.1 321.3,291.8 321.6,292.5 321.9,294.3 322.2,294.2 322.5,295.4 322.8,294.0 323.1,295.2 323.4,294.8 323.7,296.0 324.1,295.7 324.4,296.8 324.7,297.5 325.0,297.5 325.3,295.8 325.6,298.2 325.9,298.1 326.2,297.2 326.5,297.6 326.9,298.5 327.2,299.2 327.5,298.6 327.8,297.9 328.1,299.6 328.4,299.7 328.7,301.7 329.0,298.9 329.3,302.1 329.7,301.6 330.0,300.7 330.3,301.9 330.6,300.8 330.9,301.6 331.2,300.4 331.5,301.2 331.8,300.4 332.1,300.1 332.5,301.2 332.8,301.0 333.1,302.1 333.4,302.7 333.7,301.7 334.0,302.0 334.3,302.1 334.6,300.8 334.9,302.3 335.3,302.2 335.6,302.2 335.9,301.5 336.2,300.9 336.5,302.2 336.8,302.7 337.1,303.6 337.4,303.5 337.7,303.8 338.1,303.0 338.4,303.6 338.7,302.6 339.0,303.3 339.3,303.5 339.6,304.9 339.9,303.1 340.2,301.9 340.5,304.0 340.9,302.3 341.2,302.9 341.5,302.8 341.8,302.3 342.1,304.1 342.4,303.5 342.7,302.6 343.0,303.1 343.3,302.8 343.7,303.6 344.0,302.8 344.3,302.6 344.6,302.7 344.9,302.8 345.2,303.4 345.5,302.5 345.8,303.1 346.1,303.5 346.5,305.0 346.8,303.9 347.1,300.9 347.4,302.8 347.7,302.9 348.0,303.5 348.3,304.4 348.6,303.8 349.0,301.5 349.3,303.5 349.6,303.3 349.9,303.6 350.2,304.3 350.5,302.4 350.8,304.1 351.1,302.0 351.4,303.3 351.8,303.6 352.1,305.0 352.4,302.7 352.7,302.0 353.0,303.8 353.3,302.8 353.6,304.5 353.9,302.7 354.2,302.6 354.6,304.2 354.9,303.4 355.2,304.1 355.5,302.2 355.8,304.5 356.1,302.8 356.4,303.9 356.7,302.5 357.0,302.1 357.4,303.1 357.7,303.4 358.0,304.5 358.3,303.6 358.6,303.8 358.9,303.8 359.2,305.6 359.5,302.7 359.8,304.2 360.2,303.2 360.5,303.5 360.8,302.9 361.1,304.2 361.4,302.4 361.7,302.3 362.0,303.1 362.3,302.4 362.6,303.8 363.0,304.0 363.3,302.7 363.6,303.9 363.9,302.8 364.2,303.3 364.5,303.3 364.8,304.7 365.1,303.3 365.4,302.6 365.8,302.6 366.1,304.2 366.4,302.0 366.7,302.9 367.0,303.0 367.3,301.5 367.6,302.9 367.9,304.1 368.2,303.5 368.6,302.6 368.9,303.8 369.2,303.7 369.5,304.8 369.8,302.7 370.1,303.0 370.4,303.3 370.7,303.2 371.0,303.4 371.4,303.2 371.7,302.8 372.0,302.1 372.3,302.9 372.6,302.3 372.9,302.5 373.2,302.9 373.5,303.7 373.8,303.9 374.2,302.5 374.5,303.5 374.8,303.9 375.1,303.3 375.4,302.1 375.7,301.7 376.0,303.9 376.3,304.0 376.6,303.5 377.0,302.5 377.3,304.4 377.6,304.2 377.9,303.2 378.2,303.1 378.5,301.8 378.8,303.8 379.1,302.1 379.4,303.8 379.8,303.8 380.1,303.4 380.4,304.4 380.7,303.0 381.0,303.7 381.3,303.9 381.6,303.5 381.9,303.0 382.2,304.2 382.6,303.6 382.9,303.1 383.2,303.2 383.5,303.4 383.8,305.0 384.1,303.4 384.4,303.1 384.7,302.5 385.0,302.4 385.4,301.9 385.7,303.5 386.0,303.3 386.3,302.5 386.6,302.2 386.9,303.0 387.2,302.9 387.5,302.3 387.9,303.5 388.2,303.4 388.5,303.2 388.8,303.8 389.1,302.8 389.4,304.3 389.7,302.5 390.0,303.7 390.3,303.7 390.7,303.1 391.0,303.5 391.3,302.3 391.6,302.2 391.9,303.1 392.2,302.7 392.5,303.7 392.8,303.3 393.1,303.7 393.5,303.5 393.8,303.4 394.1,303.3 394.4,303.0 394.7,302.9 395.0,304.8 395.3,302.0 395.6,303.1 395.9,304.0 396.3,303.6 396.6,304.3 396.9,303.7 397.2,302.4 397.5,303.0 397.8,302.3 398.1,304.0 398.4,304.3 398.7,303.0 399.1,303.7 399.4,303.0 399.7,302.2 400.0,302.9 400.3,302.1 400.6,302.9 400.9,303.4 401.2,303.8 401.5,304.2 401.9,303.0 402.2,303.4 402.5,303.6 402.8,303.7 403.1,301.2 403.4,302.7 403.7,303.8 404.0,302.5 404.3,303.4 404.7,303.9 405.0,301.9 405.3,303.1 405.6,303.4 405.9,303.3 406.2,302.2 406.5,303.5 406.8,302.9 407.1,303.9 407.5,303.6 407.8,302.9 408.1,303.4 408.4,302.8 408.7,302.8 409.0,302.1 409.3,303.1 409.6,303.8 409.9,303.3 410.3,303.2 410.6,302.8 410.9,302.9 411.2,303.8 411.5,302.2 411.8,304.7 412.1,303.2 412.4,304.8 412.7,304.1 413.1,302.9 413.4,303.8 413.7,303.4 414.0,303.6 414.3,303.8 414.6,302.8 414.9,302.8 415.2,302.9 415.5,302.3 415.9,303.0 416.2,303.4 416.5,303.4 416.8,303.4 417.1,302.9 417.4,303.8 417.7,301.8 418.0,302.9 418.3,303.0 418.7,303.8 419.0,303.7 419.3,303.8 419.6,303.2 419.9,303.9 420.2,302.5 420.5,303.3 420.8,301.7 421.1,304.4 421.5,304.3 421.8,302.8 422.1,302.6 422.4,301.7 422.7,302.1 423.0,303.3 423.3,303.1 423.6,302.2 423.9,302.8 424.3,302.7 424.6,303.5 424.9,303.7 425.2,303.0 425.5,303.3 425.8,303.2 426.1,301.7 426.4,303.3 426.8,303.2 427.1,303.7 427.4,301.9 427.7,303.7 428.0,302.8 428.3,303.4 428.6,304.0 428.9,302.2 429.2,302.3 429.6,303.9 429.9,302.4 430.2,302.5 430.5,303.6 430.8,303.1 431.1,303.7 431.4,303.4 431.7,303.2 432.0,303.9 432.4,304.7 432.7,303.1 433.0,304.2 433.3,304.0 433.6,303.3 433.9,303.5 434.2,302.6 434.5,302.8 434.8,303.4 435.2,303.2 435.5,304.1 435.8,302.3 436.1,303.0 436.4,302.8 436.7,303.1 437.0,304.0 437.3,302.4 437.6,303.8 438.0,302.8 438.3,303.0 438.6,303.9 438.9,303.0 439.2,303.7 439.5,303.3 439.8,303.1 440.1,303.0 440.4,302.0 440.8,302.7 441.1,303.3 441.4,303.4 441.7,302.2 442.0,303.9 442.3,303.6 442.6,302.3 442.9,302.5 443.2,303.6 443.6,302.0 443.9,302.7 444.2,303.2 444.5,303.1 444.8,303.2 445.1,303.5 445.4,302.7 445.7,302.9 446.0,304.6 446.4,302.3 446.7,302.9 447.0,303.3 447.3,302.8 447.6,304.1 447.9,303.3 448.2,303.7 448.5,301.4 448.8,304.0 449.2,304.0 449.5,302.7 449.8,304.1 450.1,303.4 450.4,303.9 450.7,304.5 451.0,303.3 451.3,302.5 451.6,303.2 452.0,302.4 452.3,302.7 452.6,302.7 452.9,302.8 453.2,304.0 453.5,303.8 453.8,302.6 454.1,304.0 454.4,302.1 454.8,302.8 455.1,303.1 455.4,304.1 455.7,303.7 456.0,303.6 456.3,304.1 456.6,303.7 456.9,304.2 457.2,302.7 457.6,302.1 457.9,303.0 458.2,303.8 458.5,303.4 458.8,303.9 459.1,303.7 459.4,303.6 459.7,303.8 460.0,302.8 460.4,304.0 460.7,302.6 461.0,303.2 461.3,302.3 461.6,303.6 461.9,302.2 462.2,304.2 462.5,302.4 462.8,303.4 463.2,303.2 463.5,302.7 463.8,304.1 464.1,303.0 464.4,304.2 464.7,302.6 465.0,302.7 465.3,301.9 465.7,303.6 466.0,303.9 466.3,303.4 466.6,303.1 466.9,302.6 467.2,304.8 467.5,303.8 467.8,302.0 468.1,303.1 468.5,301.5 468.8,304.3 469.1,304.6 469.4,304.2 469.7,303.2 470.0,302.9 470.3,302.3 470.6,303.6 470.9,302.8 471.3,303.0 471.6,302.8 471.9,303.1 472.2,303.9 472.5,304.4 472.8,303.4 473.1,303.3 473.4,302.5 473.7,302.4 474.1,302.6 474.4,303.9 474.7,303.4 475.0,303.9 475.3,303.5 475.6,303.0 475.9,302.4 476.2,303.0 476.5,302.3 476.9,304.6 477.2,303.4 477.5,303.0 477.8,304.6 478.1,303.0 478.4,303.6 478.7,303.2 479.0,303.5 479.3,303.0 479.7,303.6 480.0,304.2 480.3,302.4 480.6,301.8 480.9,304.2 481.2,303.4 481.5,303.8 481.8,303.1 482.1,304.3 482.5,304.5 482.8,302.5 483.1,303.7 483.4,302.9 483.7,302.2 484.0,303.1 484.3,303.6 484.6,302.4 484.9,302.4 485.3,304.1 485.6,303.3 485.9,303.5 486.2,302.5 486.5,302.8 486.8,303.3 487.1,303.4 487.4,303.3 487.7,304.3 488.1,303.4 488.4,302.2 488.7,302.7 489.0,303.2 489.3,304.1 489.6,302.8 489.9,303.0 490.2,303.2 490.5,302.8 490.9,302.7 491.2,303.1 491.5,303.9 491.8,303.5 492.1,303.0 492.4,303.5 492.7,302.4 493.0,303.9 493.3,303.7 493.7,303.4 494.0,302.2 494.3,304.6 494.6,301.3 494.9,302.6 495.2,302.6 495.5,303.7 495.8,302.2 496.1,303.4 496.5,303.1 496.8,303.0 497.1,303.8 497.4,304.1 497.7,303.5 498.0,303.0 498.3,301.7 498.6,304.2 498.9,303.0 499.3,302.0 499.6,303.3 499.9,304.2 500.2,303.1 500.5,302.5 500.8,304.7 501.1,303.6 501.4,303.4 501.7,303.9 502.1,301.8 502.4,303.2 502.7,303.1 503.0,304.7 503.3,302.9 503.6,302.9 503.9,302.3 504.2,302.7 504.6,303.1 504.9,303.4 505.2,303.1 505.5,304.5 505.8,303.6 506.1,303.6 506.4,304.1 506.7,303.6 507.0,302.9 507.4,302.2 507.7,303.5 508.0,302.7 508.3,304.1 508.6,302.7 508.9,301.8 509.2,303.3 509.5,303.9 509.8,303.1 510.2,303.4 510.5,303.3 510.8,304.3 511.1,303.4 511.4,303.2 511.7,302.8 512.0,302.2 512.3,304.1 512.6,304.0 513.0,302.6 513.3,303.6 513.6,303.4 513.9,303.0 514.2,303.0 514.5,303.7 514.8,302.5 515.1,302.9 515.4,303.2 515.8,303.2 516.1,303.1 516.4,303.4 516.7,303.6 517.0,302.7 517.3,303.3 517.6,302.9 517.9,304.2 518.2,302.3 518.6,303.1 518.9,303.7 519.2,303.1 519.5,303.0 519.8,302.9 520.1,303.4 520.4,302.5 520.7,303.2 521.0,303.2 521.4,302.3 521.7,303.4 522.0,302.9 522.3,303.4 522.6,303.8 522.9,303.5 523.2,302.5 523.5,303.5 523.8,302.2 524.2,302.8 524.5,304.3 524.8,303.3 525.1,304.2 525.4,303.1 525.7,303.3 526.0,302.6 526.3,303.9 526.6,303.1 527.0,303.7 527.3,303.5 527.6,303.6 527.9,303.5 528.2,303.2 528.5,303.3 528.8,302.8 529.1,301.9 529.4,303.6 529.8,304.6 530.1,304.0 530.4,304.7 530.7,303.6 531.0,302.7 531.3,302.7 531.6,303.8 531.9,303.5 532.2,303.2 532.6,303.8 532.9,302.7 533.2,303.6 533.5,303.1 533.8,303.4 534.1,304.0 534.4,303.2 534.7,304.2 535.0,304.1 535.4,302.8 535.7,304.7 536.0,302.5 536.3,303.2 536.6,303.8 536.9,301.9 537.2,303.9 537.5,304.0 537.8,303.2 538.2,303.5 538.5,303.4 538.8,303.2 539.1,304.0 539.4,303.1 539.7,303.3 540.0,303.5 540.3,303.8 540.6,304.0 541.0,302.4 541.3,302.1 541.6,303.2 541.9,303.3 542.2,302.6 542.5,303.5 542.8,303.7 543.1,303.5 543.5,304.3 543.8,302.7 544.1,303.3 544.4,304.5 544.7,303.7 545.0,302.6 545.3,303.4 545.6,304.0 545.9,304.6 546.3,303.7 546.6,304.0 546.9,302.6 547.2,303.2 547.5,304.0 547.8,302.7 548.1,303.3 548.4,302.2 548.7,304.2 549.1,303.2 549.4,303.6 549.7,302.4 550.0,302.5 550.3,304.4 550.6,303.1 550.9,303.0 551.2,303.6 551.5,303.6 551.9,302.1 552.2,302.7 552.5,303.3 552.8,303.3 553.1,303.5 553.4,303.0 553.7,303.1 554.0,303.4 554.3,302.9 554.7,302.8 555.0,303.0 555.3,303.3 555.6,303.2 555.9,303.0 556.2,303.1 556.5,303.3 556.8,303.5 557.1,303.5 557.5,302.5 557.8,303.9 558.1,302.3 558.4,303.6 558.7,302.8 559.0,303.6 559.3,303.9 559.6,302.1 559.9,303.6 560.3,303.4 560.6,302.9 560.9,303.4 561.2,302.9 561.5,303.2 561.8,302.5 562.1,303.6 562.4,303.5 562.7,303.5 563.1,302.7 563.4,304.1 563.7,304.2 564.0,302.9 564.3,302.7 564.6,302.7 564.9,303.3 565.2,303.5 565.5,302.4 565.9,301.6 566.2,303.0 566.5,302.7 566.8,302.7 567.1,302.9 567.4,301.9 567.7,302.5 568.0,302.2 568.3,302.6 568.7,303.0 569.0,302.2 569.3,301.6 569.6,302.8 569.9,302.4 570.2,301.8 570.5,300.7 570.8,301.2 571.1,301.7 571.5,301.9 571.8,301.2 572.1,301.6 572.4,300.9 572.7,301.0 573.0,301.5 573.3,300.9 573.6,301.1 573.9,301.4 574.3,301.5 574.6,300.4 574.9,300.5 575.2,299.9 575.5,299.8 575.8,300.7 576.1,300.2 576.4,299.3 576.7,300.7 577.1,299.9 577.4,300.1 577.7,300.5 578.0,300.5 578.3,300.2 578.6,299.1 578.9,300.6 579.2,299.9 579.5,299.5 579.9,299.0 580.2,301.1 580.5,300.5 580.8,300.5 581.1,300.8 581.4,300.5 581.7,299.7 582.0,301.0 582.4,301.3 582.7,301.1 583.0,301.7 583.3,302.0 583.6,300.5 583.9,300.8 584.2,301.6 584.5,301.3 584.8,301.4 585.2,301.9 585.5,301.9 585.8,301.3 586.1,301.7 586.4,301.3 586.7,301.7 587.0,301.2 587.3,300.8 587.6,301.7 588.0,301.8 588.3,302.7 588.6,303.2 588.9,302.3 589.2,302.7 589.5,302.1 589.8,302.0 590.1,302.4 590.4,302.5 590.8,302.8 591.1,302.8 591.4,303.7 591.7,302.7 592.0,301.9 592.3,303.0 592.6,302.5 592.9,303.1 593.2,303.6 593.6,302.6 593.9,303.0 594.2,303.4 594.5,302.6 594.8,303.2 595.1,303.4 595.4,303.6 595.7,303.8 596.0,303.5 596.4,303.4 596.7,302.4 597.0,301.7 597.3,302.7 597.6,304.0 597.9,303.3 598.2,302.0 598.5,303.0 598.8,303.5 599.2,302.2 599.5,303.6 599.8,302.6 600.1,303.9 600.4,303.3 600.7,305.0 601.0,302.5 601.3,303.4 601.6,302.5 602.0,303.9 602.3,303.4 602.6,303.8 602.9,303.3 603.2,302.6 603.5,302.9 603.8,302.6 604.1,302.7 604.4,303.4 604.8,303.9 605.1,303.8 605.4,303.6 605.7,303.0 606.0,303.6 606.3,302.8 606.6,303.4 606.9,303.8 607.2,303.2 607.6,303.0 607.9,303.1 608.2,303.6 608.5,303.1 608.8,302.5 609.1,303.1 609.4,302.7 609.7,304.1 610.0,303.3 610.4,302.5 610.7,303.4 611.0,303.7 611.3,303.5 611.6,303.1 611.9,303.4 612.2,303.5 612.5,303.8 612.8,303.5 613.2,304.5 613.5,303.2 613.8,304.1 614.1,303.3 614.4,302.4 614.7,302.7 615.0,302.3 615.3,302.4 615.6,304.0 616.0,302.9 616.3,303.6 616.6,302.8 616.9,303.3 617.2,302.7 617.5,303.8 617.8,303.2 618.1,303.1 618.4,303.2 618.8,304.5 619.1,303.5 619.4,303.8 619.7,302.6 620.0,302.9 620.3,303.5 620.6,302.3 620.9,304.0 621.3,303.4 621.6,303.3 621.9,303.2 622.2,303.2 622.5,303.0 622.8,304.1 623.1,303.7 623.4,304.0 623.7,303.1 624.1,302.8 624.4,304.0 624.7,302.6 625.0,303.0 625.3,303.7 625.6,303.9 625.9,302.6 626.2,303.1 626.5,303.3 626.9,303.2 627.2,302.8 627.5,303.7 627.8,303.0 628.1,303.2 628.4,302.1 628.7,303.2 629.0,302.3 629.3,303.7 629.7,303.6 630.0,303.0 630.3,303.4 630.6,303.4 630.9,303.2 631.2,303.5 631.5,303.2 631.8,303.0 632.1,302.9 632.5,304.2 632.8,303.4 633.1,303.3 633.4,303.7 633.7,303.1 634.0,303.1 634.3,303.7 634.6,303.8 634.9,303.7 635.3,302.5 635.6,303.3 635.9,303.3 636.2,303.5 636.5,302.8 636.8,302.7 637.1,303.2 637.4,302.8 637.7,302.7 638.1,303.3 638.4,303.8 638.7,303.4 639.0,303.9 639.3,302.8 639.6,303.7 639.9,303.3 640.2,302.8 640.5,303.1 640.9,302.8 641.2,303.2 641.5,302.9 641.8,304.0 642.1,303.1 642.4,302.6 642.7,303.2 643.0,303.5 643.3,303.1 643.7,303.7 644.0,302.8 644.3,302.8 644.6,304.1 644.9,303.3 645.2,303.6 645.5,303.6 645.8,303.6 646.1,303.3 646.5,303.2 646.8,303.9 647.1,303.0 647.4,303.4 647.7,303.7 648.0,303.1 648.3,302.5 648.6,303.5 648.9,303.9 649.3,303.4 649.6,302.4 649.9,303.6 650.2,304.3 650.5,302.5 650.8,301.9 651.1,303.2 651.4,303.3 651.7,303.7 652.1,303.7 652.4,303.3 652.7,303.6 653.0,303.5 653.3,303.4 653.6,303.3 653.9,303.2 654.2,303.7 654.5,303.5 654.9,303.1 655.2,303.9 655.5,302.9 655.8,303.2 656.1,303.4 656.4,302.3 656.7,303.1 657.0,303.7 657.3,303.7 657.7,302.7 658.0,302.9 658.3,302.8 658.6,303.2 658.9,303.3 659.2,302.5 659.5,303.5 659.8,303.3 660.2,303.3 660.5,303.0 660.8,303.2 661.1,302.4 661.4,303.4 661.7,303.4 662.0,303.2 662.3,302.7 662.6,303.9 663.0,303.9 663.3,302.4 663.6,303.5 663.9,303.4 664.2,302.0 664.5,303.6 664.8,303.6 665.1,303.7 665.4,303.4 665.8,303.0 666.1,303.0 666.4,303.6 666.7,303.9 667.0,303.1 667.3,303.2 667.6,303.6 667.9,302.2 668.2,303.5 668.6,303.2 668.9,302.2 669.2,303.7 669.5,302.9 669.8,303.7 670.1,304.0 670.4,302.7 670.7,302.7 671.0,303.3 671.4,302.4 671.7,303.7 672.0,303.4 672.3,303.8 672.6,302.4 672.9,303.4 673.2,303.5 673.5,302.4 673.8,303.7 674.2,302.6 674.5,303.4 674.8,302.7 675.1,303.7 675.4,304.1 675.7,303.3 676.0,303.3 676.3,303.9 676.6,303.1 677.0,303.3 677.3,303.7 677.6,303.5 677.9,304.1 678.2,303.9"/>
<polyline fill="none" stroke="#1a6ad8" stroke-width="3.7" stroke-linejoin="round" points="55.8,358.7 56.1,354.1 56.4,357.1 56.7,356.1 57.0,356.2 57.4,356.4 57.7,354.6 58.0,356.4 58.3,355.8 58.6,360.0 58.9,356.9 59.2,356.3 59.5,356.4 59.8,356.0 60.2,355.6 60.5,356.3 60.8,357.1 61.1,356.4 61.4,357.6 61.7,356.5 62.0,356.7 62.3,358.2 62.6,357.2 63.0,356.1 63.3,356.5 63.6,357.2 63.9,358.6 64.2,356.4 64.5,356.4 64.8,357.6 65.1,355.8 65.4,356.4 65.8,357.5 66.1,357.2 66.4,356.7 66.7,357.3 67.0,353.8 67.3,357.7 67.6,355.7 67.9,355.0 68.2,356.9 68.6,357.3 68.9,356.2 69.2,355.6 69.5,356.7 69.8,356.6 70.1,358.0 70.4,357.4 70.7,356.8 71.0,357.7 71.4,356.4 71.7,355.7 72.0,357.2 72.3,357.2 72.6,356.4 72.9,355.9 73.2,356.9 73.5,354.2 73.8,357.3 74.2,357.1 74.5,355.0 74.8,356.7 75.1,355.7 75.4,357.4 75.7,354.6 76.0,355.7 76.3,357.3 76.7,357.8 77.0,354.5 77.3,356.2 77.6,357.0 77.9,356.0 78.2,358.2 78.5,355.5 78.8,357.0 79.1,355.6 79.5,358.0 79.8,356.6 80.1,356.3 80.4,354.9 80.7,358.3 81.0,357.4 81.3,357.4 81.6,357.7 81.9,357.0 82.3,356.0 82.6,355.8 82.9,355.8 83.2,358.0 83.5,355.2 83.8,356.0 84.1,356.3 84.4,356.8 84.7,357.2 85.1,355.4 85.4,354.9 85.7,356.6 86.0,357.8 86.3,357.3 86.6,356.8 86.9,356.3 87.2,356.9 87.5,356.4 87.9,357.4 88.2,355.8 88.5,356.7 88.8,356.5 89.1,357.1 89.4,356.8 89.7,359.0 90.0,358.0 90.3,358.0 90.7,354.6 91.0,356.2 91.3,355.9 91.6,357.0 91.9,354.3 92.2,357.7 92.5,357.5 92.8,355.2 93.1,355.5 93.5,355.7 93.8,356.5 94.1,357.1 94.4,358.4 94.7,356.3 95.0,357.2 95.3,356.6 95.6,358.1 95.9,357.1 96.3,357.7 96.6,355.3 96.9,356.2 97.2,355.6 97.5,357.8 97.8,357.0 98.1,356.0 98.4,355.9 98.7,356.7 99.1,355.6 99.4,355.3 99.7,356.7 100.0,358.6 100.3,356.0 100.6,355.6 100.9,355.0 101.2,354.8 101.5,356.6 101.9,356.9 102.2,356.1 102.5,356.4 102.8,356.1 103.1,356.1 103.4,354.5 103.7,355.5 104.0,356.0 104.3,355.1 104.7,355.4 105.0,355.0 105.3,355.4 105.6,356.5 105.9,355.3 106.2,355.5 106.5,356.4 106.8,356.2 107.1,357.1 107.5,353.5 107.8,356.3 108.1,354.9 108.4,355.5 108.7,356.1 109.0,356.3 109.3,356.2 109.6,355.3 109.9,356.6 110.3,354.8 110.6,354.8 110.9,355.7 111.2,354.3 111.5,356.8 111.8,355.7 112.1,356.7 112.4,354.6 112.7,354.1 113.1,354.6 113.4,355.1 113.7,353.7 114.0,354.6 114.3,354.1 114.6,355.6 114.9,353.3 115.2,354.9 115.6,353.2 115.9,352.8 116.2,352.9 116.5,352.4 116.8,353.5 117.1,354.3 117.4,353.3 117.7,353.7 118.0,354.5 118.4,353.1 118.7,352.9 119.0,352.4 119.3,351.0 119.6,353.1 119.9,350.6 120.2,352.8 120.5,352.0 120.8,353.0 121.2,351.7 121.5,350.9 121.8,351.8 122.1,350.8 122.4,351.0 122.7,351.1 123.0,350.8 123.3,350.6 123.6,349.8 124.0,350.3 124.3,348.3 124.6,350.0 124.9,348.9 125.2,350.9 125.5,350.8 125.8,347.6 126.1,349.4 126.4,349.0 126.8,348.0 127.1,349.3 127.4,348.2 127.7,346.7 128.0,348.0 128.3,347.9 128.6,347.9 128.9,346.5 129.2,348.0 129.6,347.9 129.9,346.0 130.2,346.2 130.5,346.6 130.8,345.9 131.1,347.9 131.4,346.2 131.7,344.9 132.0,344.9 132.4,345.3 132.7,347.3 133.0,344.8 133.3,344.8 133.6,345.0 133.9,344.2 134.2,346.2 134.5,343.3 134.8,344.3 135.2,343.5 135.5,343.7 135.8,341.8 136.1,344.3 136.4,342.3 136.7,342.2 137.0,341.1 137.3,341.1 137.6,342.0 138.0,342.2 138.3,341.7 138.6,341.9 138.9,341.2 139.2,340.4 139.5,340.9 139.8,340.4 140.1,339.5 140.4,340.1 140.8,340.3 141.1,339.1 141.4,338.3 141.7,339.1 142.0,340.0 142.3,337.8 142.6,337.7 142.9,337.4 143.2,338.4 143.6,335.4 143.9,337.2 144.2,337.7 144.5,335.6 144.8,337.5 145.1,336.4 145.4,335.2 145.7,335.7 146.0,333.9 146.4,334.6 146.7,336.6 147.0,333.8 147.3,336.2 147.6,334.2 147.9,335.0 148.2,333.9 148.5,331.6 148.8,332.9 149.2,333.5 149.5,332.0 149.8,331.7 150.1,333.1 150.4,332.0 150.7,330.8 151.0,331.6 151.3,332.8 151.6,331.4 152.0,332.6 152.3,333.0 152.6,331.4 152.9,330.2 153.2,329.9 153.5,331.0 153.8,331.6 154.1,331.0 154.5,331.1 154.8,330.0 155.1,330.6 155.4,329.8 155.7,329.8 156.0,328.8 156.3,328.4 156.6,329.3 156.9,328.7 157.3,328.7 157.6,330.1 157.9,329.3 158.2,332.0 158.5,330.1 158.8,328.6 159.1,329.8 159.4,329.4 159.7,328.4 160.1,330.0 160.4,328.2 160.7,326.1 161.0,329.5 161.3,328.2 161.6,330.1 161.9,328.1 162.2,327.6 162.5,330.1 162.9,327.7 163.2,328.8 163.5,329.9 163.8,328.7 164.1,328.5 164.4,328.7 164.7,329.4 165.0,327.9 165.3,329.2 165.7,329.1 166.0,330.8 166.3,328.4 166.6,327.9 166.9,329.4 167.2,328.4 167.5,329.1 167.8,329.0 168.1,330.0 168.5,328.4 168.8,329.0 169.1,326.9 169.4,328.5 169.7,330.8 170.0,328.9 170.3,329.0 170.6,328.6 170.9,330.4 171.3,330.2 171.6,329.1 171.9,330.9 172.2,330.7 172.5,331.3 172.8,330.2 173.1,332.6 173.4,331.6 173.7,331.3 174.1,331.1 174.4,331.6 174.7,332.8 175.0,332.0 175.3,333.5 175.6,333.3 175.9,334.2 176.2,334.0 176.5,333.5 176.9,332.1 177.2,334.4 177.5,335.1 177.8,334.8 178.1,335.4 178.4,334.8 178.7,335.2 179.0,335.0 179.3,337.4 179.7,336.6 180.0,336.3 180.3,335.9 180.6,337.3 180.9,339.0 181.2,338.5 181.5,337.7 181.8,340.0 182.1,340.3 182.5,340.3 182.8,340.4 183.1,341.1 183.4,340.9 183.7,341.4 184.0,340.4 184.3,342.7 184.6,341.9 184.9,343.9 185.3,340.6 185.6,343.4 185.9,343.9 186.2,343.1 186.5,344.1 186.8,344.7 187.1,344.9 187.4,344.2 187.7,344.9 188.1,346.2 188.4,346.8 188.7,346.0 189.0,346.3 189.3,346.7 189.6,347.8 189.9,346.2 190.2,346.2 190.5,347.8 190.9,347.0 191.2,347.7 191.5,348.6 191.8,349.2 192.1,348.1 192.4,350.0 192.7,348.0 193.0,350.3 193.4,348.6 193.7,349.1 194.0,351.1 194.3,350.3 194.6,350.2 194.9,350.7 195.2,351.8 195.5,351.5 195.8,351.7 196.2,352.9 196.5,351.5 196.8,351.9 197.1,352.0 197.4,353.7 197.7,353.7 198.0,354.1 198.3,353.1 198.6,353.2 199.0,354.2 199.3,353.2 199.6,354.5 199.9,354.5 200.2,353.4 200.5,354.0 200.8,354.1 201.1,355.9 201.4,356.7 201.8,354.5 202.1,354.7 202.4,352.7 202.7,355.0 203.0,354.9 203.3,354.1 203.6,355.8 203.9,353.8 204.2,355.1 204.6,355.5 204.9,354.3 205.2,356.2 205.5,356.5 205.8,354.4 206.1,354.4 206.4,356.2 206.7,355.7 207.0,354.8 207.4,355.6 207.7,355.8 208.0,355.8 208.3,356.7 208.6,356.4 208.9,357.6 209.2,357.3 209.5,356.7 209.8,357.1 210.2,357.4 210.5,356.8 210.8,355.2 211.1,357.0 211.4,356.4 211.7,357.7 212.0,356.4 212.3,356.8 212.6,356.7 213.0,357.9 213.3,356.6 213.6,356.2 213.9,356.7 214.2,356.1 214.5,356.6 214.8,356.5 215.1,356.7 215.4,358.2 215.8,356.2 216.1,356.6 216.4,356.4 216.7,357.1 217.0,355.5 217.3,356.0 217.6,356.5 217.9,357.1 218.2,356.5 218.6,356.2 218.9,355.8 219.2,357.0 219.5,357.9 219.8,356.9 220.1,356.8 220.4,357.0 220.7,355.8 221.0,356.3 221.4,356.4 221.7,356.9 222.0,356.6 222.3,355.6 222.6,357.6 222.9,358.1 223.2,356.4 223.5,357.0 223.8,356.9 224.2,357.3 224.5,355.4 224.8,358.0 225.1,356.2 225.4,357.7 225.7,356.7 226.0,356.3 226.3,356.5 226.6,357.4 227.0,355.9 227.3,356.3 227.6,356.2 227.9,355.2 228.2,357.8 228.5,357.1 228.8,356.6 229.1,357.6 229.4,355.8 229.8,356.6 230.1,358.1 230.4,357.5 230.7,354.7 231.0,353.8 231.3,355.8 231.6,357.6 231.9,356.2 232.3,356.5 232.6,357.2 232.9,355.9 233.2,356.8 233.5,357.3 233.8,357.0 234.1,357.0 234.4,356.1 234.7,357.1 235.1,356.3 235.4,357.8 235.7,358.8 236.0,356.0 236.3,354.8 236.6,356.3 236.9,357.0 237.2,357.5 237.5,357.6 237.9,356.0 238.2,356.0 238.5,357.7 238.8,355.7 239.1,357.6 239.4,356.5 239.7,357.3 240.0,357.3 240.3,357.3 240.7,357.3 241.0,355.8 241.3,356.9 241.6,356.7 241.9,356.9 242.2,357.7 242.5,356.4 242.8,356.0 243.1,356.0 243.5,356.4 243.8,357.3 244.1,356.0 244.4,357.6 244.7,356.9 245.0,356.5 245.3,355.5 245.6,356.9 245.9,357.2 246.3,355.2 246.6,357.7 246.9,358.0 247.2,356.9 247.5,357.1 247.8,358.7 248.1,357.7 248.4,355.9 248.7,356.6 249.1,356.5 249.4,356.5 249.7,354.7 250.0,357.3 250.3,356.1 250.6,356.8 250.9,356.5 251.2,357.4 251.5,356.4 251.9,356.0 252.2,357.1 252.5,357.8 252.8,356.4 253.1,357.8 253.4,356.9 253.7,356.2 254.0,357.9 254.3,356.0 254.7,357.5 255.0,356.2 255.3,357.0 255.6,355.6 255.9,355.9 256.2,357.5 256.5,356.8 256.8,356.7 257.1,356.3 257.5,357.0 257.8,355.5 258.1,355.7 258.4,356.5 258.7,356.0 259.0,356.1 259.3,356.6 259.6,356.5 259.9,356.5 260.3,358.0 260.6,357.5 260.9,357.7 261.2,356.6 261.5,356.2 261.8,355.4 262.1,356.4 262.4,354.9 262.7,356.2 263.1,357.3 263.4,358.0 263.7,357.5 264.0,355.9 264.3,357.1 264.6,356.0 264.9,357.3 265.2,356.6 265.5,357.4 265.9,358.8 266.2,357.4 266.5,358.6 266.8,356.8 267.1,356.4 267.4,357.8 267.7,358.1 268.0,356.2 268.3,356.7 268.7,355.5 269.0,356.5 269.3,357.4 269.6,356.6 269.9,356.2 270.2,355.5 270.5,357.0 270.8,357.3 271.2,357.1 271.5,356.9 271.8,355.6 272.1,358.1 272.4,356.6 272.7,356.5 273.0,357.3 273.3,354.9 273.6,356.6 274.0,356.5 274.3,357.0 274.6,357.8 274.9,357.0 275.2,355.1 275.5,356.4 275.8,356.8 276.1,356.8 276.4,355.6 276.8,355.3 277.1,357.1 277.4,356.9 277.7,356.6 278.0,355.2 278.3,358.1 278.6,354.3 278.9,356.3 279.2,358.4 279.6,356.5 279.9,356.8 280.2,355.7 280.5,357.7 280.8,355.6 281.1,356.8 281.4,356.7 281.7,355.7 282.0,357.3 282.4,355.4 282.7,356.0 283.0,356.6 283.3,356.2 283.6,356.9 283.9,357.3 284.2,356.3 284.5,356.1 284.8,356.1 285.2,356.2 285.5,357.1 285.8,356.3 286.1,356.7 286.4,356.3 286.7,355.7 287.0,357.0 287.3,355.4 287.6,356.3 288.0,357.4 288.3,355.3 288.6,356.1 288.9,354.8 289.2,355.6 289.5,354.7 289.8,355.6 290.1,355.4 290.4,355.8 290.8,356.9 291.1,355.8 291.4,356.0 291.7,355.3 292.0,355.0 292.3,354.4 292.6,353.5 292.9,354.9 293.2,356.0 293.6,354.9 293.9,354.0 294.2,355.6 294.5,353.7 294.8,353.4 295.1,352.7 295.4,352.7 295.7,353.1 296.0,354.6 296.4,352.6 296.7,351.7 297.0,351.8 297.3,351.9 297.6,350.4 297.9,351.6 298.2,351.8 298.5,351.2 298.8,351.1 299.2,349.3 299.5,348.7 299.8,350.7 300.1,350.3 300.4,347.8 300.7,348.9 301.0,348.4 301.3,348.5 301.6,347.9 302.0,347.0 302.3,347.2 302.6,346.9 302.9,346.4 303.2,344.6 303.5,343.4 303.8,344.8 304.1,343.8 304.4,345.1 304.8,345.1 305.1,344.5 305.4,343.7 305.7,343.8 306.0,344.5 306.3,342.7 306.6,343.8 306.9,343.5 307.2,342.9 307.6,343.7 307.9,341.9 308.2,343.1 308.5,341.5 308.8,341.5 309.1,341.2 309.4,342.4 309.7,341.3 310.1,342.0 310.4,341.1 310.7,343.0 311.0,343.7 311.3,342.5 311.6,343.7 311.9,343.0 312.2,344.5 312.5,343.0 312.9,341.9 313.2,344.5 313.5,343.4 313.8,342.9 314.1,343.5 314.4,342.9 314.7,344.3 315.0,343.9 315.3,346.2 315.7,345.8 316.0,344.2 316.3,344.6 316.6,345.6 316.9,344.8 317.2,346.6 317.5,346.9 317.8,346.6 318.1,347.1 318.5,348.2 318.8,349.2 319.1,349.5 319.4,348.6 319.7,349.6 320.0,348.6 320.3,349.8 320.6,348.9 320.9,350.5 321.3,349.2 321.6,349.7 321.9,350.7 322.2,351.4 322.5,350.0 322.8,351.0 323.1,351.7 323.4,352.0 323.7,351.4 324.1,352.3 324.4,352.3 324.7,353.8 325.0,353.3 325.3,352.0 325.6,351.5 325.9,353.4 326.2,354.5 326.5,353.8 326.9,354.5 327.2,353.6 327.5,353.1 327.8,354.8 328.1,354.5 328.4,355.0 328.7,353.5 329.0,354.9 329.3,354.4 329.7,355.6 330.0,354.6 330.3,354.7 330.6,354.8 330.9,356.3 331.2,355.4 331.5,354.9 331.8,354.7 332.1,354.8 332.5,356.8 332.8,354.3 333.1,355.1 333.4,356.3 333.7,356.8 334.0,355.8 334.3,356.6 334.6,356.6 334.9,356.8 335.3,356.2 335.6,357.4 335.9,356.4 336.2,357.4 336.5,355.4 336.8,357.0 337.1,355.4 337.4,355.2 337.7,356.8 338.1,355.8 338.4,356.8 338.7,355.6 339.0,357.7 339.3,356.5 339.6,355.6 339.9,356.6 340.2,357.2 340.5,355.9 340.9,357.0 341.2,358.1 341.5,357.2 341.8,356.6 342.1,356.2 342.4,357.0 342.7,355.4 343.0,354.3 343.3,356.1 343.7,355.8 344.0,358.0 344.3,356.7 344.6,355.9 344.9,355.8 345.2,357.0 345.5,356.0 345.8,356.2 346.1,356.6 346.5,356.7 346.8,356.7 347.1,356.8 347.4,357.7 347.7,358.0 348.0,355.4 348.3,358.7 348.6,356.8 349.0,357.6 349.3,356.1 349.6,356.9 349.9,356.9 350.2,356.8 350.5,357.3 350.8,357.2 351.1,355.9 351.4,356.6 351.8,357.3 352.1,357.2 352.4,356.4 352.7,356.5 353.0,356.6 353.3,355.9 353.6,355.7 353.9,357.9 354.2,356.4 354.6,356.8 354.9,356.1 355.2,357.7 355.5,358.0 355.8,356.5 356.1,357.1 356.4,356.1 356.7,358.0 357.0,357.4 357.4,356.1 357.7,357.7 358.0,357.0 358.3,357.0 358.6,357.0 358.9,356.2 359.2,356.3 359.5,357.2 359.8,356.7 360.2,356.0 360.5,358.2 360.8,356.5 361.1,356.3 361.4,356.2 361.7,357.2 362.0,357.4 362.3,356.9 362.6,357.4 363.0,355.6 363.3,356.4 363.6,356.3 363.9,356.7 364.2,357.1 364.5,355.2 364.8,359.0 365.1,356.0 365.4,357.0 365.8,357.3 366.1,357.3 366.4,356.9 366.7,354.5 367.0,355.9 367.3,357.3 367.6,356.0 367.9,355.9 368.2,354.9 368.6,357.6 368.9,357.1 369.2,356.0 369.5,356.6 369.8,356.6 370.1,355.8 370.4,356.5 370.7,356.9 371.0,357.1 371.4,357.6 371.7,356.7 372.0,356.3 372.3,357.0 372.6,356.2 372.9,355.7 373.2,357.5 373.5,356.4 373.8,356.8 374.2,357.1 374.5,355.8 374.8,357.1 375.1,357.0 375.4,356.6 375.7,357.0 376.0,356.1 376.3,355.0 376.6,356.5 377.0,356.0 377.3,357.3 377.6,356.9 377.9,356.3 378.2,356.7 378.5,357.7 378.8,357.5 379.1,356.9 379.4,357.0 379.8,356.5 380.1,356.6 380.4,357.1 380.7,356.6 381.0,356.9 381.3,355.8 381.6,355.4 381.9,355.4 382.2,356.3 382.6,357.6 382.9,357.5 383.2,355.9 383.5,355.5 383.8,357.2 384.1,357.0 384.4,355.7 384.7,357.4 385.0,356.8 385.4,357.6 385.7,356.9 386.0,357.3 386.3,356.9 386.6,356.0 386.9,356.5 387.2,356.2 387.5,357.3 387.9,355.9 388.2,355.5 388.5,357.2 388.8,357.5 389.1,357.7 389.4,357.5 389.7,355.6 390.0,356.1 390.3,356.3 390.7,356.6 391.0,355.1 391.3,356.7 391.6,356.9 391.9,356.0 392.2,356.7 392.5,357.5 392.8,356.7 393.1,357.4 393.5,357.4 393.8,357.0 394.1,356.9 394.4,356.4 394.7,357.6 395.0,356.3 395.3,356.2 395.6,357.2 395.9,356.1 396.3,357.0 396.6,357.4 396.9,356.7 397.2,356.7 397.5,357.3 397.8,357.2 398.1,355.5 398.4,355.7 398.7,357.6 399.1,356.9 399.4,355.2 399.7,355.7 400.0,356.7 400.3,356.0 400.6,357.0 400.9,356.7 401.2,357.0 401.5,355.8 401.9,357.1 402.2,358.1 402.5,356.1 402.8,357.6 403.1,357.4 403.4,357.1 403.7,356.6 404.0,355.8 404.3,356.0 404.7,357.2 405.0,357.4 405.3,357.5 405.6,357.4 405.9,357.3 406.2,356.4 406.5,355.8 406.8,356.8 407.1,357.0 407.5,356.7 407.8,355.6 408.1,356.3 408.4,355.6 408.7,356.8 409.0,355.9 409.3,356.5 409.6,356.9 409.9,356.8 410.3,357.6 410.6,355.9 410.9,355.1 411.2,357.3 411.5,357.7 411.8,357.7 412.1,356.9 412.4,357.1 412.7,356.8 413.1,355.7 413.4,356.3 413.7,357.0 414.0,356.3 414.3,358.0 414.6,355.6 414.9,356.4 415.2,357.5 415.5,356.2 415.9,355.9 416.2,355.7 416.5,356.2 416.8,357.7 417.1,357.0 417.4,357.0 417.7,356.3 418.0,357.3 418.3,356.7 418.7,356.0 419.0,356.4 419.3,356.8 419.6,357.5 419.9,356.6 420.2,357.0 420.5,358.1 420.8,356.1 421.1,355.8 421.5,357.4 421.8,357.0 422.1,356.6 422.4,356.9 422.7,356.4 423.0,357.0 423.3,356.4 423.6,357.2 423.9,355.9 424.3,356.1 424.6,356.8 424.9,356.3 425.2,357.2 425.5,356.6 425.8,356.3 426.1,356.8 426.4,356.3 426.8,355.6 427.1,355.9 427.4,356.1 427.7,356.3 428.0,356.7 428.3,357.3 428.6,357.1 428.9,357.9 429.2,357.6 429.6,356.5 429.9,357.8 430.2,357.5 430.5,356.4 430.8,356.9 431.1,357.4 431.4,356.9 431.7,357.4 432.0,357.0 432.4,357.2 432.7,356.5 433.0,356.9 433.3,356.4 433.6,357.2 433.9,355.5 434.2,356.9 434.5,357.6 434.8,357.1 435.2,356.7 435.5,357.1 435.8,356.1 436.1,356.1 436.4,356.4 436.7,356.6 437.0,357.4 437.3,356.1 437.6,357.4 438.0,355.6 438.3,356.1 438.6,356.7 438.9,357.5 439.2,356.3 439.5,355.2 439.8,357.0 440.1,356.7 440.4,355.9 440.8,356.0 441.1,356.2 441.4,356.7 441.7,357.1 442.0,355.7 442.3,358.3 442.6,356.7 442.9,356.4 443.2,357.1 443.6,356.8 443.9,358.3 444.2,357.4 444.5,356.4 444.8,356.4 445.1,356.3 445.4,356.4 445.7,357.1 446.0,356.2 446.4,357.8 446.7,356.6 447.0,356.6 447.3,357.3 447.6,355.3 447.9,356.0 448.2,357.1 448.5,356.7 448.8,356.7 449.2,357.0 449.5,356.3 449.8,356.6 450.1,355.7 450.4,355.4 450.7,357.5 451.0,356.0 451.3,356.2 451.6,357.6 452.0,357.4 452.3,356.3 452.6,356.3 452.9,356.6 453.2,356.0 453.5,357.1 453.8,356.8 454.1,356.8 454.4,357.2 454.8,357.2 455.1,357.9 455.4,357.7 455.7,355.5 456.0,357.3 456.3,355.9 456.6,355.7 456.9,357.2 457.2,356.2 457.6,356.5 457.9,357.4 458.2,356.2 458.5,356.1 458.8,356.9 459.1,357.5 459.4,357.0 459.7,355.6 460.0,356.2 460.4,356.6 460.7,358.0 461.0,357.3 461.3,357.2 461.6,357.5 461.9,356.5 462.2,357.0 462.5,357.0 462.8,356.0 463.2,356.7 463.5,357.1 463.8,356.0 464.1,357.2 464.4,357.2 464.7,357.4 465.0,356.2 465.3,356.7 465.7,357.7 466.0,357.2 466.3,356.1 466.6,356.8 466.9,357.6 467.2,356.6 467.5,356.9 467.8,358.4 468.1,356.7 468.5,356.6 468.8,356.0 469.1,356.2 469.4,357.7 469.7,356.6 470.0,355.9 470.3,356.1 470.6,356.7 470.9,357.2 471.3,356.2 471.6,357.1 471.9,356.3 472.2,356.9 472.5,357.0 472.8,357.1 473.1,356.4 473.4,356.6 473.7,357.0 474.1,355.8 474.4,356.8 474.7,357.0 475.0,357.4 475.3,356.6 475.6,356.5 475.9,356.8 476.2,356.2 476.5,356.5 476.9,356.9 477.2,356.8 477.5,356.0 477.8,356.4 478.1,355.3 478.4,357.2 478.7,356.3 479.0,356.8 479.3,355.9 479.7,356.6 480.0,356.9 480.3,357.3 480.6,355.7 480.9,357.2 481.2,356.5 481.5,356.1 481.8,357.0 482.1,356.4 482.5,356.4 482.8,356.2 483.1,356.8 483.4,356.7 483.7,356.5 484.0,356.0 484.3,356.3 484.6,356.9 484.9,357.5 485.3,356.6 485.6,357.6 485.9,356.6 486.2,355.9 486.5,357.0 486.8,356.0 487.1,356.9 487.4,357.3 487.7,356.4 488.1,356.6 488.4,358.2 488.7,356.8 489.0,356.8 489.3,357.1 489.6,356.6 489.9,356.6 490.2,356.9 490.5,355.1 490.9,357.6 491.2,355.9 491.5,355.9 491.8,357.0 492.1,356.7 492.4,355.8 492.7,356.8 493.0,355.9 493.3,356.2 493.7,355.7 494.0,356.1 494.3,356.9 494.6,356.7 494.9,356.8 495.2,357.2 495.5,356.6 495.8,356.2 496.1,356.5 496.5,357.7 496.8,356.7 497.1,356.8 497.4,356.6 497.7,356.8 498.0,356.9 498.3,356.6 498.6,356.5 498.9,356.1 499.3,356.1 499.6,356.9 499.9,357.1 500.2,357.2 500.5,356.7 500.8,356.1 501.1,357.0 501.4,357.0 501.7,355.7 502.1,357.2 502.4,357.0 502.7,357.7 503.0,355.9 503.3,355.8 503.6,357.1 503.9,355.5 504.2,356.2 504.6,355.9 504.9,356.0 505.2,355.4 505.5,356.5 505.8,357.3 506.1,356.9 506.4,356.9 506.7,356.4 507.0,357.6 507.4,357.0 507.7,357.3 508.0,355.7 508.3,356.9 508.6,355.9 508.9,356.9 509.2,356.8 509.5,355.9 509.8,356.8 510.2,357.4 510.5,357.0 510.8,357.0 511.1,356.1 511.4,356.2 511.7,355.9 512.0,356.7 512.3,357.4 512.6,356.9 513.0,356.6 513.3,355.9 513.6,356.9 513.9,356.5 514.2,355.5 514.5,355.6 514.8,356.4 515.1,356.1 515.4,357.7 515.8,356.7 516.1,356.0 516.4,356.3 516.7,357.7 517.0,356.1 517.3,357.1 517.6,356.9 517.9,357.6 518.2,357.0 518.6,356.4 518.9,357.0 519.2,356.7 519.5,357.3 519.8,356.6 520.1,357.9 520.4,356.6 520.7,356.9 521.0,356.2 521.4,356.7 521.7,356.7 522.0,356.8 522.3,357.2 522.6,356.3 522.9,356.1 523.2,357.3 523.5,356.5 523.8,356.2 524.2,357.4 524.5,357.1 524.8,355.0 525.1,356.4 525.4,357.1 525.7,357.2 526.0,356.3 526.3,357.6 526.6,356.2 527.0,356.5 527.3,356.7 527.6,356.7 527.9,357.2 528.2,357.3 528.5,356.6 528.8,357.5 529.1,356.2 529.4,356.5 529.8,357.7 530.1,356.7 530.4,357.3 530.7,356.4 531.0,356.5 531.3,356.6 531.6,356.8 531.9,356.5 532.2,356.7 532.6,357.1 532.9,357.4 533.2,356.7 533.5,357.1 533.8,357.2 534.1,356.0 534.4,355.7 534.7,357.7 535.0,357.5 535.4,356.7 535.7,356.9 536.0,356.1 536.3,355.8 536.6,356.9 536.9,355.8 537.2,357.2 537.5,356.3 537.8,356.8 538.2,357.8 538.5,357.8 538.8,356.5 539.1,357.3 539.4,356.0 539.7,356.3 540.0,356.9 540.3,357.5 540.6,356.3 541.0,357.0 541.3,356.7 541.6,355.9 541.9,356.6 542.2,357.6 542.5,356.6 542.8,357.0 543.1,357.2 543.5,356.2 543.8,357.4 544.1,357.6 544.4,357.6 544.7,357.5 545.0,356.4 545.3,356.3 545.6,356.2 545.9,356.1 546.3,356.2 546.6,357.3 546.9,357.5 547.2,356.3 547.5,357.2 547.8,355.9 548.1,356.5 548.4,356.1 548.7,355.7 549.1,356.7 549.4,356.7 549.7,356.4 550.0,356.3 550.3,356.1 550.6,356.6 550.9,356.3 551.2,356.8 551.5,355.9 551.9,356.8 552.2,357.0 552.5,357.4 552.8,357.3 553.1,356.8 553.4,356.2 553.7,355.6 554.0,356.6 554.3,357.5 554.7,357.6 555.0,355.1 555.3,356.2 555.6,356.4 555.9,356.0 556.2,356.8 556.5,356.7 556.8,356.3 557.1,356.6 557.5,355.7 557.8,356.1 558.1,356.1 558.4,357.2 558.7,355.7 559.0,356.5 559.3,357.1 559.6,356.6 559.9,357.1 560.3,356.2 560.6,356.9 560.9,357.1 561.2,357.9 561.5,357.0 561.8,357.4 562.1,356.6 562.4,356.6 562.7,357.5 563.1,356.9 563.4,357.4 563.7,356.9 564.0,357.8 564.3,357.9 564.6,356.0 564.9,357.6 565.2,356.7 565.5,356.7 565.9,356.3 566.2,356.8 566.5,355.7 566.8,355.9 567.1,355.9 567.4,356.4 567.7,356.8 568.0,356.7 568.3,356.4 568.7,355.8 569.0,355.1 569.3,356.3 569.6,356.1 569.9,356.2 570.2,356.8 570.5,355.8 570.8,355.8 571.1,354.5 571.5,356.1 571.8,355.7 572.1,355.3 572.4,355.9 572.7,355.0 573.0,355.3 573.3,356.7 573.6,356.0 573.9,356.0 574.3,355.9 574.6,355.8 574.9,355.5 575.2,356.7 575.5,355.3 575.8,355.7 576.1,355.1 576.4,355.0 576.7,353.8 577.1,354.1 577.4,356.1 577.7,356.0 578.0,354.9 578.3,355.1 578.6,355.5 578.9,354.6 579.2,356.2 579.5,354.6 579.9,354.8 580.2,353.6 580.5,356.1 580.8,355.3 581.1,356.2 581.4,354.7 581.7,355.5 582.0,355.4 582.4,355.5 582.7,356.6 583.0,356.7 583.3,356.3 583.6,355.3 583.9,356.1 584.2,356.4 584.5,356.0 584.8,356.0 585.2,356.0 585.5,355.2 585.8,355.9 586.1,356.8 586.4,355.3 586.7,356.0 587.0,356.4 587.3,355.2 587.6,356.0 588.0,355.1 588.3,355.8 588.6,355.3 588.9,355.7 589.2,355.9 589.5,356.1 589.8,356.2 590.1,354.9 590.4,357.2 590.8,356.2 591.1,355.7 591.4,356.0 591.7,356.6 592.0,355.9 592.3,356.2 592.6,356.2 592.9,356.8 593.2,356.1 593.6,356.8 593.9,356.7 594.2,356.5 594.5,357.3 594.8,356.6 595.1,355.9 595.4,356.7 595.7,356.7 596.0,356.6 596.4,356.7 596.7,357.9 597.0,356.7 597.3,356.9 597.6,356.5 597.9,357.4 598.2,356.6 598.5,356.2 598.8,355.9 599.2,356.9 599.5,357.1 599.8,355.7 600.1,356.2 600.4,357.0 600.7,357.2 601.0,355.9 601.3,356.4 601.6,357.1 602.0,356.3 602.3,356.4 602.6,356.3 602.9,355.9 603.2,356.7 603.5,356.8 603.8,355.9 604.1,356.7 604.4,357.3 604.8,356.8 605.1,357.2 605.4,356.3 605.7,357.4 606.0,356.2 606.3,357.7 606.6,356.4 606.9,356.2 607.2,356.2 607.6,356.4 607.9,356.4 608.2,356.3 608.5,356.5 608.8,357.0 609.1,357.1 609.4,356.5 609.7,357.3 610.0,356.1 610.4,356.1 610.7,356.0 611.0,357.0 611.3,355.8 611.6,355.9 611.9,357.4 612.2,357.6 612.5,357.4 612.8,355.8 613.2,356.7 613.5,357.1 613.8,356.7 614.1,355.8 614.4,356.5 614.7,355.7 615.0,356.0 615.3,357.8 615.6,357.0 616.0,355.8 616.3,355.8 616.6,356.9 616.9,356.3 617.2,357.0 617.5,356.3 617.8,356.5 618.1,356.8 618.4,356.1 618.8,355.6 619.1,356.0 619.4,356.3 619.7,356.5 620.0,356.6 620.3,356.6 620.6,356.9 620.9,356.2 621.3,357.4 621.6,357.7 621.9,356.8 622.2,356.7 622.5,357.3 622.8,357.0 623.1,356.7 623.4,356.6 623.7,356.2 624.1,356.0 624.4,357.0 624.7,357.3 625.0,356.1 625.3,356.6 625.6,356.8 625.9,356.4 626.2,356.2 626.5,356.4 626.9,355.6 627.2,356.6 627.5,356.5 627.8,357.8 628.1,357.1 628.4,356.5 628.7,356.6 629.0,357.6 629.3,357.5 629.7,356.7 630.0,356.6 630.3,355.9 630.6,356.5 630.9,356.5 631.2,356.2 631.5,357.6 631.8,355.6 632.1,356.6 632.5,356.9 632.8,356.9 633.1,357.5 633.4,355.9 633.7,356.2 634.0,356.7 634.3,356.7 634.6,356.4 634.9,356.2 635.3,357.2 635.6,356.1 635.9,356.3 636.2,357.4 636.5,357.6 636.8,357.1 637.1,356.2 637.4,356.2 637.7,356.2 638.1,356.0 638.4,356.4 638.7,357.3 639.0,356.8 639.3,356.2 639.6,356.2 639.9,356.0 640.2,357.3 640.5,355.6 640.9,356.8 641.2,355.9 641.5,356.1 641.8,355.8 642.1,357.1 642.4,356.6 642.7,358.1 643.0,356.1 643.3,356.1 643.7,356.9 644.0,356.9 644.3,356.5 644.6,355.6 644.9,357.4 645.2,356.9 645.5,356.8 645.8,356.3 646.1,357.0 646.5,356.3 646.8,356.7 647.1,356.5 647.4,357.3 647.7,356.4 648.0,356.4 648.3,357.2 648.6,356.7 648.9,356.6 649.3,356.5 649.6,357.1 649.9,356.3 650.2,356.9 650.5,357.7 650.8,356.8 651.1,356.2 651.4,356.0 651.7,356.7 652.1,356.0 652.4,355.8 652.7,356.2 653.0,356.0 653.3,357.1 653.6,355.9 653.9,357.4 654.2,356.2 654.5,356.7 654.9,357.0 655.2,356.7 655.5,357.0 655.8,356.1 656.1,355.4 656.4,356.5 656.7,355.7 657.0,356.3 657.3,357.1 657.7,356.5 658.0,356.3 658.3,356.0 658.6,356.5 658.9,356.5 659.2,355.8 659.5,356.8 659.8,356.1 660.2,356.7 660.5,356.4 660.8,357.1 661.1,357.0 661.4,356.6 661.7,356.6 662.0,356.8 662.3,357.3 662.6,357.2 663.0,356.7 663.3,356.8 663.6,357.4 663.9,355.8 664.2,356.9 664.5,356.2 664.8,357.3 665.1,356.4 665.4,356.6 665.8,356.1 666.1,356.6 666.4,357.0 666.7,357.5 667.0,356.0 667.3,356.4 667.6,358.6 667.9,357.1 668.2,356.6 668.6,356.9 668.9,355.3 669.2,357.5 669.5,356.7 669.8,355.9 670.1,357.2 670.4,356.3 670.7,356.1 671.0,356.9 671.4,356.9 671.7,356.4 672.0,356.6 672.3,356.0 672.6,355.9 672.9,357.1 673.2,357.3 673.5,356.9 673.8,356.8 674.2,356.5 674.5,356.6 674.8,356.2 675.1,357.5 675.4,356.4 675.7,356.9 676.0,356.7 676.3,355.9 676.6,357.6 677.0,356.5 677.3,356.3 677.6,356.7 677.9,356.2 678.2,356.7"/>
<polyline fill="none" stroke="#e93c3e" stroke-width="3.7" stroke-linejoin="round" points="55.8,410.1 56.1,410.6 56.4,412.5 56.7,411.5 57.0,409.2 57.4,410.8 57.7,410.2 58.0,410.9 58.3,409.2 58.6,411.0 58.9,411.0 59.2,412.4 59.5,411.1 59.8,411.3 60.2,409.3 60.5,413.0 60.8,408.9 61.1,411.9 61.4,410.5 61.7,409.9 62.0,410.1 62.3,410.1 62.6,411.2 63.0,410.7 63.3,412.3 63.6,409.0 63.9,410.8 64.2,409.9 64.5,411.6 64.8,408.7 65.1,410.5 65.4,411.0 65.8,409.3 66.1,411.8 66.4,411.0 66.7,411.8 67.0,411.7 67.3,409.8 67.6,410.0 67.9,410.6 68.2,411.5 68.6,411.6 68.9,410.1 69.2,410.2 69.5,410.0 69.8,410.2 70.1,410.6 70.4,410.7 70.7,412.8 71.0,410.3 71.4,410.5 71.7,411.3 72.0,409.9 72.3,410.4 72.6,410.8 72.9,411.6 73.2,409.5 73.5,412.1 73.8,410.4 74.2,411.0 74.5,411.6 74.8,411.4 75.1,411.8 75.4,411.0 75.7,410.8 76.0,411.1 76.3,409.8 76.7,412.0 77.0,410.0 77.3,409.6 77.6,412.8 77.9,410.7 78.2,409.6 78.5,412.6 78.8,410.5 79.1,411.8 79.5,410.0 79.8,410.5 80.1,409.1 80.4,408.9 80.7,409.8 81.0,410.7 81.3,411.6 81.6,413.2 81.9,409.8 82.3,411.8 82.6,410.2 82.9,410.6 83.2,409.3 83.5,409.3 83.8,410.0 84.1,409.6 84.4,410.8 84.7,410.1 85.1,412.0 85.4,410.9 85.7,410.9 86.0,411.9 86.3,411.3 86.6,410.7 86.9,410.7 87.2,410.6 87.5,411.8 87.9,411.5 88.2,411.1 88.5,411.5 88.8,410.2 89.1,411.2 89.4,409.4 89.7,412.0 90.0,410.8 90.3,410.9 90.7,411.3 91.0,410.7 91.3,410.5 91.6,411.9 91.9,410.8 92.2,409.8 92.5,411.1 92.8,409.0 93.1,412.3 93.5,410.5 93.8,410.7 94.1,412.8 94.4,412.7 94.7,410.7 95.0,411.2 95.3,411.7 95.6,412.2 95.9,410.5 96.3,410.7 96.6,411.7 96.9,410.8 97.2,411.3 97.5,411.1 97.8,409.4 98.1,409.7 98.4,407.9 98.7,410.2 99.1,411.7 99.4,409.4 99.7,411.6 100.0,411.4 100.3,410.3 100.6,410.3 100.9,410.4 101.2,409.5 101.5,410.0 101.9,410.2 102.2,410.8 102.5,411.0 102.8,409.5 103.1,411.0 103.4,409.4 103.7,409.9 104.0,410.4 104.3,410.0 104.7,409.9 105.0,410.2 105.3,409.4 105.6,409.3 105.9,409.7 106.2,410.8 106.5,409.7 106.8,411.6 107.1,409.9 107.5,406.8 107.8,409.2 108.1,411.2 108.4,409.5 108.7,409.0 109.0,408.6 109.3,410.6 109.6,410.3 109.9,409.9 110.3,409.6 110.6,410.5 110.9,409.8 111.2,407.8 111.5,409.7 111.8,409.0 112.1,408.7 112.4,409.4 112.7,408.6 113.1,405.7 113.4,409.9 113.7,409.4 114.0,408.2 114.3,407.9 114.6,408.3 114.9,406.8 115.2,408.2 115.6,407.6 115.9,407.4 116.2,406.7 116.5,406.9 116.8,408.5 117.1,408.6 117.4,407.7 117.7,407.0 118.0,406.1 118.4,407.5 118.7,408.2 119.0,405.0 119.3,407.6 119.6,404.3 119.9,405.9 120.2,406.4 120.5,404.6 120.8,404.3 121.2,405.8 121.5,406.3 121.8,404.9 122.1,406.4 122.4,404.2 122.7,406.5 123.0,404.8 123.3,404.7 123.6,404.9 124.0,404.4 124.3,405.7 124.6,405.9 124.9,404.1 125.2,403.3 125.5,402.1 125.8,402.3 126.1,402.8 126.4,402.5 126.8,402.4 127.1,402.2 127.4,402.5 127.7,400.5 128.0,400.6 128.3,402.4 128.6,401.9 128.9,400.4 129.2,401.9 129.6,399.8 129.9,400.0 130.2,398.3 130.5,400.6 130.8,399.5 131.1,400.3 131.4,399.7 131.7,398.9 132.0,398.7 132.4,399.5 132.7,397.9 133.0,397.7 133.3,397.6 133.6,398.1 133.9,397.9 134.2,398.6 134.5,396.5 134.8,397.5 135.2,395.4 135.5,396.3 135.8,395.6 136.1,396.9 136.4,395.5 136.7,394.3 137.0,395.0 137.3,394.5 137.6,393.6 138.0,393.3 138.3,392.5 138.6,395.6 138.9,392.9 139.2,393.4 139.5,391.2 139.8,391.0 140.1,391.5 140.4,391.3 140.8,391.9 141.1,389.9 141.4,391.1 141.7,391.7 142.0,389.2 142.3,390.6 142.6,388.6 142.9,389.6 143.2,389.3 143.6,390.3 143.9,387.8 144.2,388.3 144.5,388.9 144.8,386.6 145.1,387.4 145.4,386.3 145.7,386.2 146.0,387.3 146.4,387.1 146.7,388.5 147.0,387.2 147.3,386.9 147.6,385.3 147.9,384.9 148.2,385.1 148.5,382.6 148.8,386.1 149.2,383.7 149.5,383.1 149.8,383.4 150.1,384.5 150.4,384.6 150.7,382.9 151.0,383.4 151.3,382.8 151.6,381.7 152.0,382.6 152.3,382.3 152.6,380.7 152.9,382.9 153.2,380.3 153.5,381.8 153.8,380.5 154.1,380.5 154.5,380.5 154.8,381.6 155.1,379.7 155.4,380.5 155.7,382.0 156.0,379.8 156.3,380.3 156.6,380.8 156.9,379.5 157.3,380.4 157.6,379.2 157.9,380.4 158.2,379.7 158.5,378.7 158.8,380.8 159.1,379.3 159.4,379.1 159.7,378.4 160.1,378.8 160.4,379.0 160.7,379.2 161.0,380.0 161.3,377.8 161.6,378.6 161.9,380.0 162.2,379.0 162.5,379.2 162.9,380.2 163.2,379.1 163.5,379.2 163.8,378.7 164.1,380.3 164.4,379.7 164.7,378.1 165.0,379.2 165.3,377.7 165.7,379.7 166.0,379.3 166.3,378.6 166.6,378.4 166.9,377.1 167.2,379.5 167.5,378.7 167.8,378.5 168.1,379.5 168.5,378.3 168.8,378.4 169.1,378.3 169.4,377.8 169.7,381.3 170.0,379.0 170.3,378.9 170.6,380.1 170.9,376.6 171.3,379.5 171.6,379.6 171.9,378.9 172.2,380.3 172.5,378.2 172.8,380.2 173.1,381.1 173.4,378.4 173.7,379.3 174.1,380.7 174.4,381.0 174.7,380.6 175.0,381.7 175.3,381.8 175.6,380.6 175.9,381.9 176.2,381.1 176.5,380.6 176.9,380.6 177.2,384.0 177.5,383.2 177.8,385.4 178.1,382.6 178.4,383.9 178.7,384.8 179.0,384.7 179.3,385.6 179.7,385.7 180.0,385.3 180.3,384.1 180.6,385.7 180.9,388.5 181.2,388.0 181.5,388.9 181.8,387.6 182.1,388.3 182.5,388.1 182.8,389.6 183.1,389.7 183.4,390.5 183.7,392.1 184.0,390.2 184.3,392.0 184.6,390.5 184.9,393.1 185.3,392.2 185.6,392.9 185.9,393.5 186.2,395.3 186.5,394.2 186.8,394.2 187.1,394.0 187.4,395.7 187.7,395.1 188.1,395.8 188.4,396.7 188.7,397.7 189.0,396.9 189.3,398.5 189.6,399.9 189.9,397.3 190.2,400.3 190.5,401.4 190.9,399.3 191.2,400.7 191.5,399.3 191.8,401.2 192.1,401.0 192.4,401.9 192.7,401.1 193.0,401.5 193.4,402.2 193.7,402.3 194.0,402.6 194.3,403.3 194.6,402.8 194.9,403.9 195.2,404.8 195.5,402.6 195.8,405.1 196.2,404.5 196.5,404.4 196.8,404.4 197.1,405.1 197.4,405.4 197.7,406.6 198.0,405.4 198.3,407.6 198.6,406.2 199.0,407.7 199.3,408.3 199.6,406.4 199.9,408.6 200.2,409.7 200.5,407.6 200.8,408.7 201.1,408.2 201.4,408.5 201.8,408.4 202.1,408.3 202.4,409.5 202.7,409.7 203.0,409.1 203.3,410.5 203.6,410.2 203.9,410.0 204.2,408.8 204.6,411.2 204.9,410.8 205.2,407.8 205.5,408.8 205.8,409.4 206.1,410.8 206.4,411.1 206.7,409.8 207.0,410.3 207.4,410.8 207.7,409.1 208.0,410.8 208.3,410.0 208.6,410.5 208.9,410.3 209.2,409.4 209.5,409.6 209.8,410.5 210.2,410.6 210.5,410.3 210.8,411.5 211.1,410.2 211.4,409.5 211.7,410.3 212.0,410.5 212.3,410.5 212.6,411.7 213.0,411.1 213.3,411.6 213.6,411.2 213.9,410.5 214.2,411.6 214.5,410.5 214.8,410.9 215.1,409.9 215.4,410.8 215.8,410.5 216.1,411.1 216.4,412.3 216.7,412.8 217.0,411.7 217.3,410.7 217.6,411.5 217.9,411.0 218.2,410.3 218.6,410.7 218.9,410.6 219.2,410.3 219.5,412.0 219.8,410.3 220.1,410.4 220.4,411.4 220.7,410.2 221.0,409.8 221.4,410.1 221.7,411.2 222.0,411.1 222.3,411.1 222.6,410.4 222.9,410.0 223.2,411.6 223.5,409.6 223.8,410.6 224.2,409.7 224.5,410.5 224.8,410.7 225.1,411.9 225.4,408.3 225.7,412.0 226.0,410.0 226.3,411.1 226.6,411.5 227.0,410.2 227.3,410.7 227.6,411.2 227.9,410.7 228.2,410.2 228.5,411.0 228.8,410.9 229.1,409.5 229.4,412.0 229.8,411.0 230.1,408.7 230.4,410.1 230.7,412.3 231.0,412.2 231.3,411.1 231.6,409.4 231.9,410.6 232.3,411.7 232.6,411.2 232.9,410.5 233.2,410.2 233.5,411.5 233.8,410.7 234.1,411.1 234.4,411.3 234.7,412.2 235.1,411.0 235.4,411.1 235.7,409.3 236.0,411.8 236.3,411.6 236.6,410.8 236.9,408.9 237.2,410.4 237.5,410.9 237.9,412.6 238.2,411.3 238.5,411.5 238.8,411.5 239.1,412.0 239.4,409.9 239.7,410.1 240.0,409.8 240.3,410.6 240.7,410.5 241.0,410.9 241.3,410.0 241.6,410.9 241.9,410.1 242.2,412.6 242.5,410.4 242.8,413.0 243.1,412.2 243.5,409.8 243.8,411.6 244.1,411.3 244.4,409.5 244.7,411.3 245.0,410.7 245.3,411.1 245.6,410.1 245.9,410.8 246.3,411.2 246.6,410.7 246.9,410.3 247.2,410.7 247.5,410.0 247.8,411.1 248.1,408.7 248.4,412.1 248.7,410.9 249.1,411.2 249.4,411.5 249.7,409.8 250.0,412.7 250.3,409.9 250.6,411.2 250.9,411.1 251.2,411.9 251.5,410.8 251.9,409.6 252.2,411.1 252.5,408.7 252.8,410.6 253.1,410.4 253.4,412.1 253.7,410.6 254.0,410.4 254.3,410.2 254.7,410.1 255.0,410.3 255.3,411.3 255.6,409.7 255.9,410.6 256.2,409.6 256.5,410.7 256.8,410.9 257.1,409.8 257.5,410.3 257.8,410.9 258.1,411.5 258.4,411.6 258.7,410.7 259.0,410.0 259.3,409.4 259.6,411.5 259.9,412.0 260.3,411.1 260.6,412.1 260.9,410.4 261.2,410.5 261.5,412.1 261.8,410.0 262.1,411.3 262.4,411.1 262.7,410.9 263.1,412.2 263.4,410.1 263.7,410.4 264.0,409.1 264.3,409.9 264.6,410.4 264.9,410.5 265.2,410.6 265.5,411.0 265.9,410.2 266.2,409.1 266.5,410.9 266.8,411.2 267.1,409.8 267.4,410.1 267.7,412.3 268.0,411.7 268.3,411.7 268.7,411.4 269.0,410.9 269.3,410.4 269.6,411.3 269.9,410.6 270.2,410.4 270.5,410.8 270.8,410.7 271.2,411.5 271.5,410.0 271.8,412.9 272.1,410.0 272.4,410.4 272.7,411.6 273.0,410.1 273.3,410.4 273.6,410.8 274.0,408.3 274.3,410.4 274.6,410.0 274.9,410.6 275.2,411.2 275.5,411.3 275.8,412.0 276.1,412.0 276.4,411.6 276.8,410.8 277.1,411.7 277.4,410.0 277.7,410.7 278.0,412.0 278.3,411.4 278.6,409.6 278.9,410.3 279.2,411.5 279.6,411.3 279.9,411.7 280.2,409.3 280.5,409.7 280.8,410.5 281.1,409.9 281.4,410.7 281.7,410.7 282.0,411.0 282.4,410.6 282.7,411.2 283.0,411.3 283.3,410.8 283.6,409.7 283.9,411.7 284.2,410.8 284.5,411.0 284.8,410.7 285.2,409.2 285.5,411.0 285.8,410.0 286.1,409.5 286.4,411.5 286.7,410.1 287.0,410.6 287.3,411.0 287.6,411.6 288.0,408.7 288.3,409.5 288.6,410.6 288.9,409.4 289.2,407.2 289.5,410.0 289.8,409.9 290.1,410.3 290.4,409.7 290.8,409.1 291.1,409.5 291.4,409.2 291.7,408.7 292.0,409.2 292.3,409.1 292.6,407.8 292.9,409.3 293.2,409.0 293.6,408.8 293.9,405.7 294.2,407.9 294.5,407.5 294.8,406.5 295.1,407.6 295.4,405.7 295.7,407.6 296.0,406.7 296.4,405.7 296.7,407.0 297.0,406.0 297.3,405.6 297.6,404.0 297.9,405.1 298.2,405.5 298.5,405.0 298.8,402.7 299.2,404.6 299.5,404.4 299.8,403.5 300.1,402.1 300.4,400.9 300.7,401.0 301.0,401.0 301.3,401.3 301.6,401.2 302.0,399.8 302.3,398.7 302.6,399.4 302.9,398.3 303.2,400.2 303.5,397.8 303.8,398.9 304.1,398.8 304.4,397.1 304.8,398.4 305.1,397.2 305.4,396.5 305.7,396.1 306.0,396.7 306.3,397.3 306.6,394.7 306.9,396.6 307.2,395.8 307.6,395.2 307.9,395.6 308.2,395.6 308.5,395.5 308.8,396.2 309.1,394.7 309.4,397.0 309.7,396.2 310.1,395.1 310.4,394.1 310.7,395.7 311.0,395.5 311.3,396.6 311.6,396.7 311.9,397.8 312.2,396.4 312.5,397.3 312.9,396.6 313.2,396.8 313.5,398.6 313.8,397.5 314.1,397.8 314.4,397.8 314.7,398.7 315.0,399.1 315.3,398.8 315.7,398.3 316.0,399.8 316.3,399.1 316.6,399.8 316.9,400.5 317.2,400.9 317.5,399.1 317.8,402.6 318.1,402.2 318.5,403.4 318.8,404.1 319.1,401.6 319.4,402.2 319.7,403.1 320.0,404.0 320.3,403.1 320.6,403.5 320.9,404.9 321.3,403.6 321.6,404.7 321.9,405.6 322.2,404.8 322.5,405.8 322.8,405.4 323.1,404.4 323.4,405.5 323.7,405.9 324.1,406.0 324.4,406.5 324.7,407.0 325.0,407.1 325.3,407.2 325.6,406.9 325.9,407.2 326.2,407.3 326.5,407.2 326.9,408.9 327.2,406.5 327.5,408.3 327.8,407.0 328.1,407.9 328.4,409.1 328.7,408.4 329.0,409.8 329.3,408.1 329.7,408.7 330.0,408.5 330.3,409.1 330.6,409.0 330.9,409.0 331.2,409.4 331.5,410.3 331.8,409.6 332.1,409.6 332.5,409.4 332.8,409.1 333.1,408.6 333.4,409.0 333.7,409.9 334.0,408.4 334.3,410.5 334.6,409.7 334.9,409.3 335.3,409.6 335.6,410.6 335.9,410.4 336.2,410.4 336.5,411.6 336.8,412.1 337.1,409.3 337.4,411.0 337.7,409.8 338.1,409.3 338.4,410.0 338.7,411.2 339.0,410.2 339.3,410.1 339.6,411.6 339.9,410.9 340.2,410.5 340.5,412.0 340.9,411.0 341.2,410.1 341.5,409.8 341.8,410.3 342.1,410.8 342.4,411.4 342.7,411.4 343.0,410.8 343.3,409.8 343.7,411.5 344.0,410.8 344.3,409.9 344.6,409.8 344.9,410.9 345.2,411.0 345.5,411.4 345.8,409.8 346.1,412.2 346.5,409.4 346.8,410.7 347.1,411.8 347.4,411.6 347.7,410.0 348.0,411.2 348.3,411.7 348.6,411.3 349.0,410.0 349.3,412.0 349.6,409.5 349.9,410.8 350.2,409.9 350.5,410.4 350.8,410.5 351.1,411.1 351.4,409.8 351.8,410.9 352.1,411.7 352.4,410.8 352.7,411.2 353.0,411.1 353.3,410.2 353.6,410.5 353.9,410.8 354.2,411.1 354.6,412.3 354.9,412.0 355.2,410.4 355.5,410.4 355.8,410.0 356.1,409.0 356.4,411.7 356.7,411.2 357.0,409.3 357.4,410.8 357.7,412.5 358.0,411.1 358.3,411.1 358.6,410.9 358.9,410.2 359.2,409.9 359.5,410.1 359.8,410.9 360.2,410.6 360.5,411.3 360.8,412.1 361.1,411.2 361.4,411.4 361.7,410.5 362.0,409.8 362.3,412.4 362.6,411.3 363.0,411.7 363.3,410.5 363.6,409.5 363.9,411.8 364.2,409.1 364.5,410.6 364.8,410.4 365.1,410.9 365.4,411.4 365.8,411.4 366.1,409.2 366.4,411.5 366.7,409.3 367.0,411.3 367.3,410.4 367.6,409.9 367.9,410.4 368.2,409.8 368.6,410.8 368.9,411.5 369.2,411.4 369.5,410.8 369.8,411.6 370.1,411.2 370.4,412.4 370.7,411.2 371.0,410.3 371.4,410.6 371.7,410.2 372.0,410.6 372.3,410.7 372.6,411.3 372.9,411.4 373.2,410.8 373.5,411.1 373.8,410.2 374.2,410.4 374.5,408.9 374.8,410.2 375.1,410.4 375.4,412.7 375.7,409.8 376.0,410.8 376.3,410.5 376.6,409.6 377.0,411.0 377.3,410.8 377.6,409.7 377.9,409.0 378.2,410.7 378.5,409.7 378.8,411.3 379.1,410.6 379.4,411.2 379.8,410.5 380.1,411.9 380.4,411.3 380.7,411.9 381.0,410.9 381.3,410.0 381.6,409.7 381.9,410.4 382.2,411.0 382.6,410.3 382.9,412.6 383.2,410.7 383.5,411.1 383.8,410.9 384.1,409.9 384.4,411.6 384.7,411.3 385.0,411.5 385.4,410.1 385.7,410.8 386.0,410.8 386.3,411.7 386.6,409.8 386.9,411.3 387.2,411.8 387.5,410.5 387.9,410.2 388.2,411.8 388.5,411.0 388.8,411.7 389.1,411.4 389.4,411.6 389.7,410.7 390.0,409.2 390.3,411.3 390.7,410.3 391.0,411.3 391.3,410.4 391.6,412.1 391.9,410.7 392.2,411.5 392.5,411.7 392.8,410.8 393.1,411.1 393.5,410.8 393.8,410.1 394.1,411.9 394.4,410.2 394.7,409.7 395.0,410.5 395.3,410.9 395.6,410.9 395.9,410.6 396.3,410.5 396.6,409.2 396.9,411.3 397.2,412.1 397.5,410.3 397.8,409.5 398.1,411.4 398.4,410.7 398.7,407.9 399.1,410.3 399.4,409.7 399.7,410.0 400.0,412.3 400.3,411.6 400.6,410.7 400.9,410.8 401.2,412.0 401.5,410.0 401.9,411.4 402.2,410.4 402.5,411.5 402.8,411.0 403.1,410.3 403.4,411.6 403.7,411.2 404.0,412.2 404.3,410.5 404.7,410.9 405.0,410.3 405.3,411.7 405.6,410.3 405.9,410.8 406.2,411.8 406.5,411.2 406.8,411.1 407.1,411.0 407.5,411.1 407.8,411.3 408.1,410.6 408.4,409.4 408.7,411.8 409.0,410.1 409.3,412.2 409.6,411.0 409.9,413.2 410.3,411.7 410.6,411.1 410.9,411.5 411.2,409.8 411.5,411.0 411.8,410.6 412.1,410.8 412.4,409.3 412.7,409.2 413.1,411.4 413.4,410.9 413.7,410.5 414.0,410.7 414.3,410.3 414.6,410.5 414.9,411.3 415.2,410.6 415.5,411.3 415.9,410.3 416.2,409.5 416.5,410.3 416.8,410.7 417.1,410.0 417.4,410.5 417.7,410.4 418.0,411.5 418.3,411.4 418.7,411.6 419.0,410.2 419.3,411.0 419.6,411.7 419.9,410.9 420.2,410.7 420.5,410.2 420.8,411.4 421.1,410.9 421.5,411.5 421.8,410.7 422.1,412.3 422.4,410.8 422.7,409.9 423.0,410.9 423.3,411.1 423.6,411.7 423.9,410.4 424.3,410.4 424.6,410.6 424.9,410.5 425.2,409.2 425.5,411.3 425.8,411.7 426.1,410.2 426.4,410.1 426.8,410.7 427.1,410.2 427.4,411.4 427.7,410.3 428.0,411.2 428.3,409.9 428.6,409.8 428.9,409.7 429.2,409.8 429.6,411.1 429.9,411.4 430.2,410.9 430.5,411.0 430.8,409.2 431.1,411.6 431.4,409.9 431.7,411.7 432.0,412.5 432.4,410.8 432.7,411.2 433.0,411.2 433.3,409.9 433.6,410.0 433.9,410.3 434.2,410.9 434.5,411.4 434.8,410.9 435.2,411.6 435.5,410.4 435.8,409.8 436.1,410.8 436.4,410.8 436.7,409.8 437.0,411.5 437.3,410.1 437.6,410.3 438.0,411.0 438.3,410.0 438.6,411.2 438.9,411.1 439.2,411.1 439.5,410.8 439.8,410.5 440.1,410.3 440.4,411.0 440.8,411.8 441.1,411.4 441.4,411.1 441.7,411.5 442.0,411.8 442.3,409.9 442.6,410.8 442.9,411.7 443.2,410.4 443.6,410.5 443.9,411.3 444.2,410.7 444.5,411.7 444.8,410.6 445.1,411.2 445.4,412.6 445.7,411.6 446.0,409.9 446.4,410.1 446.7,410.1 447.0,410.8 447.3,409.8 447.6,411.2 447.9,412.0 448.2,411.9 448.5,410.3 448.8,410.6 449.2,410.6 449.5,410.2 449.8,412.0 450.1,410.3 450.4,410.0 450.7,411.1 451.0,411.1 451.3,411.9 451.6,411.9 452.0,410.7 452.3,409.3 452.6,411.3 452.9,411.4 453.2,412.1 453.5,409.7 453.8,410.0 454.1,411.9 454.4,411.9 454.8,411.7 455.1,410.8 455.4,411.7 455.7,410.4 456.0,409.9 456.3,410.8 456.6,410.9 456.9,411.4 457.2,411.6 457.6,409.6 457.9,411.0 458.2,411.1 458.5,409.9 458.8,410.6 459.1,410.8 459.4,411.1 459.7,410.2 460.0,410.4 460.4,410.0 460.7,411.0 461.0,410.5 461.3,410.4 461.6,411.2 461.9,410.7 462.2,409.9 462.5,411.6 462.8,411.4 463.2,411.1 463.5,410.1 463.8,411.5 464.1,410.4 464.4,409.5 464.7,410.7 465.0,412.0 465.3,410.5 465.7,411.2 466.0,411.7 466.3,410.9 466.6,410.6 466.9,410.8 467.2,411.2 467.5,410.4 467.8,411.0 468.1,411.2 468.5,410.5 468.8,411.3 469.1,411.2 469.4,410.6 469.7,410.6 470.0,410.8 470.3,410.7 470.6,410.6 470.9,410.1 471.3,410.8 471.6,411.3 471.9,411.2 472.2,410.2 472.5,411.2 472.8,411.2 473.1,410.2 473.4,411.1 473.7,410.7 474.1,410.5 474.4,410.9 474.7,410.6 475.0,409.3 475.3,410.9 475.6,410.0 475.9,410.7 476.2,411.2 476.5,410.6 476.9,410.5 477.2,410.9 477.5,411.1 477.8,410.2 478.1,410.4 478.4,411.1 478.7,411.8 479.0,410.8 479.3,411.4 479.7,410.3 480.0,410.8 480.3,410.8 480.6,409.9 480.9,410.8 481.2,410.6 481.5,409.1 481.8,410.7 482.1,411.0 482.5,410.9 482.8,411.0 483.1,410.0 483.4,410.3 483.7,410.6 484.0,410.2 484.3,410.4 484.6,411.5 484.9,410.2 485.3,410.5 485.6,411.9 485.9,410.7 486.2,410.1 486.5,410.9 486.8,410.9 487.1,410.8 487.4,409.7 487.7,410.9 488.1,411.0 488.4,412.1 488.7,411.2 489.0,410.5 489.3,411.0 489.6,411.2 489.9,410.7 490.2,410.8 490.5,411.7 490.9,411.1 491.2,411.1 491.5,410.2 491.8,411.1 492.1,409.6 492.4,411.6 492.7,410.5 493.0,411.2 493.3,411.7 493.7,410.1 494.0,411.6 494.3,411.0 494.6,411.6 494.9,410.6 495.2,410.4 495.5,411.7 495.8,411.1 496.1,410.9 496.5,410.1 496.8,411.7 497.1,410.6 497.4,410.7 497.7,410.4 498.0,410.9 498.3,411.2 498.6,410.8 498.9,410.8 499.3,410.5 499.6,411.8 499.9,411.9 500.2,410.7 500.5,410.3 500.8,411.0 501.1,409.8 501.4,411.0 501.7,411.0 502.1,410.9 502.4,411.8 502.7,412.0 503.0,411.1 503.3,410.6 503.6,411.5 503.9,411.6 504.2,410.1 504.6,410.4 504.9,410.7 505.2,409.8 505.5,410.1 505.8,411.9 506.1,410.0 506.4,411.4 506.7,410.3 507.0,411.5 507.4,411.0 507.7,411.4 508.0,410.0 508.3,411.0 508.6,410.5 508.9,411.3 509.2,411.3 509.5,410.9 509.8,410.8 510.2,410.8 510.5,411.0 510.8,410.5 511.1,410.6 511.4,410.4 511.7,410.2 512.0,411.5 512.3,410.0 512.6,411.6 513.0,411.3 513.3,409.8 513.6,409.7 513.9,410.8 514.2,410.2 514.5,410.9 514.8,411.4 515.1,411.1 515.4,410.7 515.8,410.7 516.1,411.7 516.4,410.6 516.7,411.9 517.0,412.1 517.3,410.6 517.6,411.0 517.9,411.9 518.2,410.4 518.6,411.1 518.9,411.5 519.2,410.2 519.5,411.1 519.8,410.9 520.1,410.5 520.4,411.8 520.7,410.8 521.0,412.3 521.4,411.3 521.7,410.4 522.0,411.0 522.3,410.4 522.6,411.4 522.9,411.3 523.2,410.1 523.5,410.6 523.8,411.2 524.2,410.9 524.5,410.3 524.8,411.5 525.1,411.7 525.4,410.0 525.7,411.8 526.0,409.6 526.3,410.8 526.6,410.4 527.0,410.5 527.3,411.0 527.6,410.1 527.9,410.8 528.2,411.9 528.5,411.1 528.8,411.7 529.1,411.4 529.4,409.9 529.8,411.9 530.1,411.4 530.4,411.2 530.7,410.6 531.0,410.5 531.3,410.2 531.6,410.8 531.9,410.9 532.2,410.7 532.6,410.8 532.9,409.7 533.2,410.4 533.5,410.4 533.8,411.0 534.1,410.6 534.4,410.6 534.7,410.9 535.0,410.6 535.4,410.7 535.7,411.5 536.0,410.7 536.3,410.3 536.6,411.2 536.9,411.3 537.2,411.2 537.5,410.0 537.8,411.4 538.2,410.9 538.5,410.9 538.8,410.9 539.1,411.1 539.4,411.1 539.7,411.7 540.0,411.0 540.3,410.8 540.6,411.2 541.0,410.8 541.3,411.5 541.6,410.9 541.9,411.3 542.2,410.5 542.5,411.4 542.8,411.2 543.1,410.3 543.5,410.6 543.8,410.9 544.1,410.1 544.4,410.2 544.7,411.1 545.0,411.1 545.3,411.6 545.6,410.1 545.9,410.6 546.3,409.6 546.6,411.9 546.9,410.1 547.2,410.7 547.5,412.0 547.8,411.7 548.1,410.3 548.4,412.1 548.7,411.1 549.1,410.2 549.4,411.0 549.7,411.2 550.0,411.2 550.3,409.6 550.6,411.9 550.9,409.9 551.2,410.7 551.5,411.7 551.9,411.0 552.2,410.8 552.5,410.5 552.8,411.2 553.1,411.6 553.4,410.5 553.7,411.1 554.0,410.6 554.3,410.6 554.7,409.6 555.0,411.0 555.3,411.4 555.6,410.7 555.9,411.4 556.2,410.9 556.5,411.5 556.8,410.9 557.1,410.6 557.5,410.6 557.8,410.9 558.1,411.0 558.4,410.4 558.7,410.8 559.0,410.1 559.3,410.1 559.6,411.2 559.9,411.1 560.3,411.4 560.6,410.9 560.9,411.0 561.2,411.9 561.5,410.4 561.8,411.0 562.1,411.7 562.4,412.0 562.7,411.2 563.1,410.8 563.4,410.2 563.7,410.8 564.0,410.9 564.3,410.9 564.6,411.1 564.9,411.2 565.2,410.6 565.5,410.3 565.9,410.7 566.2,411.1 566.5,411.8 566.8,409.9 567.1,411.4 567.4,410.7 567.7,411.5 568.0,411.9 568.3,411.1 568.7,410.2 569.0,410.6 569.3,411.0 569.6,410.6 569.9,410.8 570.2,410.4 570.5,410.7 570.8,410.5 571.1,411.3 571.5,411.0 571.8,411.2 572.1,409.9 572.4,410.6 572.7,410.4 573.0,410.6 573.3,410.3 573.6,410.4 573.9,411.7 574.3,410.7 574.6,410.1 574.9,410.7 575.2,412.1 575.5,411.2 575.8,410.3 576.1,410.7 576.4,410.8 576.7,410.8 577.1,409.8 577.4,410.3 577.7,410.7 578.0,409.9 578.3,410.7 578.6,410.9 578.9,411.2 579.2,411.4 579.5,410.7 579.9,410.9 580.2,411.2 580.5,411.4 580.8,410.9 581.1,410.4 581.4,411.1 581.7,411.3 582.0,410.9 582.4,411.1 582.7,411.7 583.0,410.5 583.3,410.4 583.6,410.2 583.9,411.0 584.2,411.3 584.5,410.5 584.8,411.8 585.2,410.5 585.5,411.0 585.8,410.8 586.1,411.6 586.4,410.5 586.7,411.7 587.0,410.7 587.3,410.1 587.6,410.5 588.0,410.7 588.3,411.7 588.6,410.6 588.9,410.8 589.2,412.0 589.5,410.9 589.8,410.5 590.1,410.4 590.4,410.0 590.8,411.0 591.1,411.5 591.4,410.6 591.7,410.2 592.0,411.0 592.3,410.8 592.6,410.7 592.9,411.1 593.2,410.8 593.6,410.6 593.9,411.3 594.2,409.8 594.5,410.2 594.8,410.7 595.1,410.1 595.4,411.6 595.7,409.6 596.0,411.2 596.4,411.1 596.7,411.0 597.0,411.0 597.3,410.5 597.6,410.4 597.9,411.6 598.2,410.7 598.5,410.0 598.8,410.1 599.2,410.0 599.5,410.9 599.8,411.4 600.1,410.6 600.4,410.9 600.7,410.5 601.0,411.3 601.3,411.3 601.6,411.3 602.0,411.8 602.3,410.1 602.6,411.2 602.9,410.0 603.2,411.2 603.5,411.2 603.8,411.2 604.1,411.2 604.4,410.7 604.8,410.5 605.1,411.2 605.4,410.5 605.7,411.2 606.0,410.4 606.3,411.0 606.6,411.0 606.9,410.4 607.2,410.7 607.6,411.3 607.9,410.8 608.2,411.1 608.5,410.5 608.8,410.9 609.1,410.1 609.4,410.4 609.7,411.5 610.0,411.1 610.4,410.8 610.7,410.9 611.0,410.1 611.3,411.1 611.6,410.2 611.9,410.4 612.2,411.2 612.5,410.4 612.8,410.6 613.2,410.8 613.5,410.9 613.8,411.5 614.1,409.9 614.4,410.6 614.7,411.1 615.0,410.6 615.3,410.6 615.6,410.4 616.0,410.6 616.3,411.1 616.6,411.5 616.9,411.0 617.2,411.5 617.5,410.9 617.8,409.9 618.1,411.2 618.4,409.8 618.8,410.8 619.1,410.8 619.4,410.2 619.7,410.7 620.0,410.5 620.3,410.9 620.6,410.6 620.9,411.1 621.3,410.6 621.6,411.1 621.9,410.8 622.2,410.9 622.5,410.9 622.8,410.6 623.1,411.4 623.4,411.1 623.7,409.6 624.1,410.2 624.4,411.7 624.7,410.7 625.0,412.2 625.3,411.0 625.6,411.0 625.9,410.6 626.2,410.7 626.5,410.9 626.9,411.3 627.2,410.9 627.5,410.8 627.8,410.3 628.1,410.6 628.4,410.6 628.7,410.7 629.0,410.4 629.3,410.2 629.7,410.6 630.0,409.5 630.3,410.0 630.6,410.4 630.9,411.0 631.2,410.4 631.5,410.2 631.8,411.1 632.1,410.7 632.5,411.4 632.8,410.6 633.1,410.4 633.4,410.6 633.7,411.6 634.0,411.5 634.3,410.8 634.6,411.3 634.9,410.0 635.3,411.4 635.6,410.9 635.9,410.7 636.2,410.7 636.5,410.9 636.8,410.5 637.1,410.5 637.4,410.1 637.7,411.5 638.1,410.3 638.4,410.6 638.7,411.2 639.0,411.3 639.3,411.4 639.6,410.4 639.9,410.5 640.2,410.7 640.5,409.8 640.9,411.1 641.2,409.9 641.5,410.6 641.8,411.1 642.1,411.1 642.4,410.4 642.7,411.1 643.0,411.2 643.3,409.8 643.7,410.5 644.0,411.0 644.3,410.9 644.6,410.6 644.9,410.6 645.2,411.8 645.5,410.5 645.8,411.2 646.1,410.1 646.5,410.9 646.8,411.2 647.1,410.5 647.4,410.4 647.7,411.6 648.0,410.6 648.3,411.2 648.6,410.0 648.9,411.5 649.3,409.7 649.6,410.3 649.9,410.4 650.2,410.7 650.5,410.8 650.8,411.5 651.1,411.8 651.4,411.7 651.7,411.2 652.1,410.9 652.4,409.7 652.7,410.7 653.0,410.5 653.3,411.1 653.6,410.3 653.9,410.4 654.2,410.4 654.5,411.1 654.9,410.8 655.2,410.3 655.5,409.9 655.8,410.5 656.1,410.5 656.4,410.5 656.7,410.8 657.0,411.1 657.3,411.1 657.7,410.4 658.0,410.4 658.3,411.5 658.6,410.7 658.9,411.1 659.2,410.9 659.5,411.0 659.8,411.6 660.2,410.7 660.5,411.3 660.8,411.0 661.1,410.7 661.4,410.6 661.7,410.5 662.0,411.4 662.3,411.3 662.6,410.4 663.0,411.0 663.3,409.9 663.6,410.8 663.9,411.8 664.2,410.2 664.5,410.9 664.8,410.5 665.1,410.8 665.4,410.3 665.8,410.9 666.1,409.7 666.4,410.7 666.7,410.6 667.0,410.7 667.3,411.8 667.6,410.2 667.9,410.5 668.2,410.1 668.6,411.0 668.9,410.8 669.2,410.2 669.5,411.2 669.8,410.9 670.1,411.5 670.4,411.1 670.7,410.8 671.0,410.4 671.4,409.7 671.7,410.5 672.0,411.3 672.3,410.7 672.6,410.4 672.9,410.9 673.2,411.1 673.5,412.1 673.8,410.3 674.2,410.6 674.5,410.2 674.8,410.4 675.1,411.2 675.4,410.7 675.7,410.1 676.0,411.4 676.3,411.6 676.6,411.1 677.0,410.3 677.3,410.3 677.6,411.4 677.9,410.3 678.2,410.5"/>
<polyline fill="none" stroke="#505050" stroke-width="3.7" stroke-linejoin="round" points="55.8,453.7 56.1,453.2 56.4,454.3 56.7,454.9 57.0,455.6 57.4,454.6 57.7,453.9 58.0,453.7 58.3,455.2 58.6,456.1 58.9,454.8 59.2,453.3 59.5,453.5 59.8,456.1 60.2,454.7 60.5,452.8 60.8,454.4 61.1,453.3 61.4,453.9 61.7,454.0 62.0,453.8 62.3,455.1 62.6,454.4 63.0,453.9 63.3,454.9 63.6,455.3 63.9,452.9 64.2,454.2 64.5,453.5 64.8,454.3 65.1,453.2 65.4,454.5 65.8,454.5 66.1,454.2 66.4,453.5 66.7,454.1 67.0,453.4 67.3,453.2 67.6,454.7 67.9,453.4 68.2,455.7 68.6,455.2 68.9,452.5 69.2,454.8 69.5,453.4 69.8,454.5 70.1,454.5 70.4,452.5 70.7,454.3 71.0,454.2 71.4,455.4 71.7,453.3 72.0,455.2 72.3,453.4 72.6,454.2 72.9,453.7 73.2,455.9 73.5,455.1 73.8,456.9 74.2,455.1 74.5,455.3 74.8,455.3 75.1,453.9 75.4,454.4 75.7,455.8 76.0,454.1 76.3,454.7 76.7,454.5 77.0,455.1 77.3,454.1 77.6,454.3 77.9,454.7 78.2,454.6 78.5,453.6 78.8,455.4 79.1,453.2 79.5,453.3 79.8,453.2 80.1,455.4 80.4,454.1 80.7,453.5 81.0,453.4 81.3,454.9 81.6,453.5 81.9,453.2 82.3,455.1 82.6,453.3 82.9,454.2 83.2,454.5 83.5,454.0 83.8,454.4 84.1,455.8 84.4,454.0 84.7,453.3 85.1,452.7 85.4,454.3 85.7,454.1 86.0,454.7 86.3,454.0 86.6,454.0 86.9,453.8 87.2,454.0 87.5,454.6 87.9,454.1 88.2,454.6 88.5,456.3 88.8,454.9 89.1,452.9 89.4,456.1 89.7,454.8 90.0,453.5 90.3,455.3 90.7,454.5 91.0,453.8 91.3,453.8 91.6,453.5 91.9,454.5 92.2,455.5 92.5,454.1 92.8,454.8 93.1,456.2 93.5,453.2 93.8,454.7 94.1,454.1 94.4,453.4 94.7,453.4 95.0,454.4 95.3,454.8 95.6,453.9 95.9,454.4 96.3,455.1 96.6,454.6 96.9,455.2 97.2,454.8 97.5,454.8 97.8,456.1 98.1,454.9 98.4,454.4 98.7,455.0 99.1,453.4 99.4,453.9 99.7,455.0 100.0,454.9 100.3,455.7 100.6,454.2 100.9,452.8 101.2,456.1 101.5,455.2 101.9,453.1 102.2,455.5 102.5,454.2 102.8,452.4 103.1,453.7 103.4,453.6 103.7,455.6 104.0,453.3 104.3,453.8 104.7,453.7 105.0,453.6 105.3,453.1 105.6,454.2 105.9,455.0 106.2,454.5 106.5,453.0 106.8,452.7 107.1,453.9 107.5,453.1 107.8,453.2 108.1,452.1 108.4,455.6 108.7,454.6 109.0,452.7 109.3,454.5 109.6,454.9 109.9,451.3 110.3,453.0 110.6,453.1 110.9,454.1 111.2,453.3 111.5,453.1 111.8,453.3 112.1,455.0 112.4,455.3 112.7,452.7 113.1,452.3 113.4,455.7 113.7,452.1 114.0,452.4 114.3,453.0 114.6,453.3 114.9,453.8 115.2,453.1 115.6,451.9 115.9,453.1 116.2,452.8 116.5,454.3 116.8,452.5 117.1,451.1 117.4,451.3 117.7,453.6 118.0,451.7 118.4,450.1 118.7,451.5 119.0,452.0 119.3,453.0 119.6,450.9 119.9,452.4 120.2,452.4 120.5,450.9 120.8,451.3 121.2,453.1 121.5,453.0 121.8,452.0 122.1,451.5 122.4,452.1 122.7,450.8 123.0,450.8 123.3,449.9 123.6,450.7 124.0,450.5 124.3,453.1 124.6,450.2 124.9,451.4 125.2,451.4 125.5,449.8 125.8,451.0 126.1,447.7 126.4,449.8 126.8,450.4 127.1,447.2 127.4,448.2 127.7,450.2 128.0,448.8 128.3,447.9 128.6,448.5 128.9,448.2 129.2,449.3 129.6,448.9 129.9,448.0 130.2,447.6 130.5,448.0 130.8,449.2 131.1,448.1 131.4,448.2 131.7,447.4 132.0,446.1 132.4,446.5 132.7,447.7 133.0,447.0 133.3,445.9 133.6,445.1 133.9,446.6 134.2,446.0 134.5,445.9 134.8,445.7 135.2,446.1 135.5,446.0 135.8,446.5 136.1,446.3 136.4,446.5 136.7,445.9 137.0,444.7 137.3,444.8 137.6,445.1 138.0,444.2 138.3,444.9 138.6,445.3 138.9,443.3 139.2,442.2 139.5,444.8 139.8,443.6 140.1,444.1 140.4,442.0 140.8,444.7 141.1,443.6 141.4,442.7 141.7,442.3 142.0,442.6 142.3,442.2 142.6,441.9 142.9,441.0 143.2,443.1 143.6,441.7 143.9,441.7 144.2,441.5 144.5,439.1 144.8,441.7 145.1,440.7 145.4,440.6 145.7,440.8 146.0,439.7 146.4,441.3 146.7,439.7 147.0,439.4 147.3,439.3 147.6,440.1 147.9,440.5 148.2,439.1 148.5,438.2 148.8,440.4 149.2,438.3 149.5,440.3 149.8,439.0 150.1,438.3 150.4,438.3 150.7,439.2 151.0,439.5 151.3,438.3 151.6,439.3 152.0,440.3 152.3,438.0 152.6,437.1 152.9,437.1 153.2,436.7 153.5,437.3 153.8,437.1 154.1,436.5 154.5,438.1 154.8,435.1 155.1,436.3 155.4,439.3 155.7,438.3 156.0,437.7 156.3,437.6 156.6,438.8 156.9,437.6 157.3,437.1 157.6,435.8 157.9,436.9 158.2,436.2 158.5,436.2 158.8,436.1 159.1,436.7 159.4,436.4 159.7,437.5 160.1,435.4 160.4,436.5 160.7,438.3 161.0,436.6 161.3,437.7 161.6,437.6 161.9,437.7 162.2,437.2 162.5,435.3 162.9,436.3 163.2,436.2 163.5,435.1 163.8,436.1 164.1,435.4 164.4,435.0 164.7,436.7 165.0,436.5 165.3,435.9 165.7,435.7 166.0,436.1 166.3,436.2 166.6,436.2 166.9,436.6 167.2,436.2 167.5,437.0 167.8,437.2 168.1,437.1 168.5,436.2 168.8,436.3 169.1,437.3 169.4,436.8 169.7,437.0 170.0,434.9 170.3,434.7 170.6,437.6 170.9,437.7 171.3,438.7 171.6,438.2 171.9,437.9 172.2,437.8 172.5,436.6 172.8,438.8 173.1,437.6 173.4,438.7 173.7,438.6 174.1,438.8 174.4,439.5 174.7,438.4 175.0,438.6 175.3,438.4 175.6,439.0 175.9,441.0 176.2,439.3 176.5,440.9 176.9,440.7 177.2,440.8 177.5,441.1 177.8,439.6 178.1,441.1 178.4,442.4 178.7,440.5 179.0,441.3 179.3,440.9 179.7,442.0 180.0,441.0 180.3,443.6 180.6,442.1 180.9,441.2 181.2,444.4 181.5,443.9 181.8,443.7 182.1,444.0 182.5,443.4 182.8,443.7 183.1,444.8 183.4,445.2 183.7,445.4 184.0,445.0 184.3,444.6 184.6,445.1 184.9,446.5 185.3,447.0 185.6,445.6 185.9,445.7 186.2,447.5 186.5,447.2 186.8,447.4 187.1,445.9 187.4,446.9 187.7,447.0 188.1,447.8 188.4,446.3 188.7,449.2 189.0,448.5 189.3,448.8 189.6,447.6 189.9,448.8 190.2,450.2 190.5,447.8 190.9,449.7 191.2,450.2 191.5,449.1 191.8,450.6 192.1,449.8 192.4,451.3 192.7,450.9 193.0,450.7 193.4,452.5 193.7,451.6 194.0,452.2 194.3,450.1 194.6,450.7 194.9,452.1 195.2,452.3 195.5,451.6 195.8,452.5 196.2,451.0 196.5,452.2 196.8,451.1 197.1,452.5 197.4,451.9 197.7,451.9 198.0,452.6 198.3,454.2 198.6,451.8 199.0,452.3 199.3,453.8 199.6,452.6 199.9,454.6 200.2,453.3 200.5,453.3 200.8,453.6 201.1,454.9 201.4,454.0 201.8,453.9 202.1,453.7 202.4,452.2 202.7,452.8 203.0,455.0 203.3,454.4 203.6,454.2 203.9,454.4 204.2,453.4 204.6,454.2 204.9,453.1 205.2,454.3 205.5,453.4 205.8,453.8 206.1,454.5 206.4,453.8 206.7,454.7 207.0,454.5 207.4,454.5 207.7,455.3 208.0,452.9 208.3,452.8 208.6,454.8 208.9,455.1 209.2,456.0 209.5,455.0 209.8,455.0 210.2,453.5 210.5,455.0 210.8,454.9 211.1,453.4 211.4,453.6 211.7,454.3 212.0,454.6 212.3,451.8 212.6,454.5 213.0,454.6 213.3,454.3 213.6,454.7 213.9,454.8 214.2,453.6 214.5,454.8 214.8,454.2 215.1,453.6 215.4,454.6 215.8,455.8 216.1,453.2 216.4,453.0 216.7,453.0 217.0,456.2 217.3,454.3 217.6,454.4 217.9,453.8 218.2,453.7 218.6,452.7 218.9,454.6 219.2,454.7 219.5,452.8 219.8,453.6 220.1,453.8 220.4,454.5 220.7,454.7 221.0,455.5 221.4,455.7 221.7,455.4 222.0,455.7 222.3,453.5 222.6,454.0 222.9,455.5 223.2,454.7 223.5,454.5 223.8,452.8 224.2,452.9 224.5,455.1 224.8,454.8 225.1,454.2 225.4,454.1 225.7,453.0 226.0,454.8 226.3,455.4 226.6,455.9 227.0,454.5 227.3,454.3 227.6,453.6 227.9,455.6 228.2,456.0 228.5,454.0 228.8,454.7 229.1,454.6 229.4,454.0 229.8,452.4 230.1,454.2 230.4,455.0 230.7,453.3 231.0,453.8 231.3,451.7 231.6,455.6 231.9,454.9 232.3,454.5 232.6,454.3 232.9,454.0 233.2,454.4 233.5,454.2 233.8,454.3 234.1,454.5 234.4,454.6 234.7,455.8 235.1,453.3 235.4,454.7 235.7,454.0 236.0,453.5 236.3,452.5 236.6,455.0 236.9,453.7 237.2,453.9 237.5,454.9 237.9,453.6 238.2,454.5 238.5,454.4 238.8,455.2 239.1,455.4 239.4,453.8 239.7,455.3 240.0,454.4 240.3,454.6 240.7,454.3 241.0,455.2 241.3,453.5 241.6,454.7 241.9,455.5 242.2,454.3 242.5,456.2 242.8,453.9 243.1,454.7 243.5,454.1 243.8,454.0 244.1,453.5 244.4,454.0 244.7,454.4 245.0,453.8 245.3,455.2 245.6,455.8 245.9,453.2 246.3,455.2 246.6,454.7 246.9,454.7 247.2,456.6 247.5,455.5 247.8,454.8 248.1,454.6 248.4,452.7 248.7,455.2 249.1,453.9 249.4,454.6 249.7,454.6 250.0,455.3 250.3,456.2 250.6,455.3 250.9,455.6 251.2,454.3 251.5,454.9 251.9,455.1 252.2,453.3 252.5,456.2 252.8,453.9 253.1,453.4 253.4,455.9 253.7,456.3 254.0,453.9 254.3,454.0 254.7,457.1 255.0,454.6 255.3,452.8 255.6,454.0 255.9,456.2 256.2,455.1 256.5,455.1 256.8,455.5 257.1,455.1 257.5,454.2 257.8,453.2 258.1,454.9 258.4,453.6 258.7,454.5 259.0,456.0 259.3,455.0 259.6,454.5 259.9,454.6 260.3,455.1 260.6,455.3 260.9,453.4 261.2,454.7 261.5,455.9 261.8,455.1 262.1,453.9 262.4,453.9 262.7,452.8 263.1,453.8 263.4,455.8 263.7,454.4 264.0,453.8 264.3,454.0 264.6,454.4 264.9,454.4 265.2,454.2 265.5,453.9 265.9,455.0 266.2,455.8 266.5,454.0 266.8,454.1 267.1,455.5 267.4,453.3 267.7,454.0 268.0,454.2 268.3,454.6 268.7,454.3 269.0,453.8 269.3,454.8 269.6,453.5 269.9,453.1 270.2,452.8 270.5,455.1 270.8,453.1 271.2,454.9 271.5,455.1 271.8,455.2 272.1,454.4 272.4,454.0 272.7,454.6 273.0,454.0 273.3,453.4 273.6,455.5 274.0,453.8 274.3,456.0 274.6,454.9 274.9,454.1 275.2,454.9 275.5,455.5 275.8,453.4 276.1,453.7 276.4,453.6 276.8,454.6 277.1,454.8 277.4,454.5 277.7,453.9 278.0,454.1 278.3,455.5 278.6,455.4 278.9,454.6 279.2,453.4 279.6,455.0 279.9,454.7 280.2,454.7 280.5,455.9 280.8,455.2 281.1,453.7 281.4,453.7 281.7,455.6 282.0,454.6 282.4,455.2 282.7,454.4 283.0,453.7 283.3,454.7 283.6,455.8 283.9,454.7 284.2,453.5 284.5,454.2 284.8,454.0 285.2,454.6 285.5,455.3 285.8,456.0 286.1,454.6 286.4,454.0 286.7,454.4 287.0,454.3 287.3,454.0 287.6,454.3 288.0,454.2 288.3,453.2 288.6,454.6 288.9,453.8 289.2,453.3 289.5,454.4 289.8,453.6 290.1,455.3 290.4,454.2 290.8,453.8 291.1,453.1 291.4,453.3 291.7,454.2 292.0,452.8 292.3,453.9 292.6,451.5 292.9,453.2 293.2,453.6 293.6,453.1 293.9,452.6 294.2,453.3 294.5,451.6 294.8,451.4 295.1,452.1 295.4,452.8 295.7,451.9 296.0,451.2 296.4,451.4 296.7,451.3 297.0,449.7 297.3,448.2 297.6,449.4 297.9,448.8 298.2,449.2 298.5,448.5 298.8,448.5 299.2,449.2 299.5,448.7 299.8,448.3 300.1,449.3 300.4,447.3 300.7,447.0 301.0,448.0 301.3,445.8 301.6,445.1 302.0,447.1 302.3,446.0 302.6,445.9 302.9,445.6 303.2,445.5 303.5,444.1 303.8,444.1 304.1,443.0 304.4,443.7 304.8,443.5 305.1,442.7 305.4,443.3 305.7,444.9 306.0,441.4 306.3,442.7 306.6,442.6 306.9,442.5 307.2,440.9 307.6,442.3 307.9,441.8 308.2,441.0 308.5,440.7 308.8,441.1 309.1,441.6 309.4,441.5 309.7,442.6 310.1,440.5 310.4,441.4 310.7,440.6 311.0,441.7 311.3,441.3 311.6,440.8 311.9,440.4 312.2,441.0 312.5,442.0 312.9,443.2 313.2,442.9 313.5,441.5 313.8,442.3 314.1,443.0 314.4,443.1 314.7,443.5 315.0,444.3 315.3,444.1 315.7,443.7 316.0,443.0 316.3,444.5 316.6,443.8 316.9,445.2 317.2,445.9 317.5,444.9 317.8,446.1 318.1,446.2 318.5,448.3 318.8,447.4 319.1,445.8 319.4,447.9 319.7,448.2 320.0,447.9 320.3,448.1 320.6,449.1 320.9,449.4 321.3,449.4 321.6,448.6 321.9,449.4 322.2,448.6 322.5,448.8 322.8,449.8 323.1,449.6 323.4,450.3 323.7,452.7 324.1,451.4 324.4,450.5 324.7,449.6 325.0,450.8 325.3,450.5 325.6,450.1 325.9,452.5 326.2,451.7 326.5,452.6 326.9,454.8 327.2,452.7 327.5,452.7 327.8,453.0 328.1,452.6 328.4,452.2 328.7,452.8 329.0,454.0 329.3,453.0 329.7,452.2 330.0,452.4 330.3,452.6 330.6,453.5 330.9,453.9 331.2,454.0 331.5,454.6 331.8,453.6 332.1,454.4 332.5,454.1 332.8,454.4 333.1,452.5 333.4,454.9 333.7,452.8 334.0,453.2 334.3,454.7 334.6,453.8 334.9,455.5 335.3,454.3 335.6,453.4 335.9,454.3 336.2,453.9 336.5,455.5 336.8,455.5 337.1,454.9 337.4,454.0 337.7,454.4 338.1,455.2 338.4,453.7 338.7,453.8 339.0,455.0 339.3,455.0 339.6,454.2 339.9,454.2 340.2,452.9 340.5,455.3 340.9,454.3 341.2,453.3 341.5,453.6 341.8,453.8 342.1,455.8 342.4,455.0 342.7,453.4 343.0,455.9 343.3,455.5 343.7,453.7 344.0,452.4 344.3,455.2 344.6,454.0 344.9,454.4 345.2,454.1 345.5,455.5 345.8,455.6 346.1,455.1 346.5,454.4 346.8,454.7 347.1,455.0 347.4,453.3 347.7,455.4 348.0,454.3 348.3,454.7 348.6,454.6 349.0,455.2 349.3,455.3 349.6,456.2 349.9,454.2 350.2,453.8 350.5,454.6 350.8,454.0 351.1,455.2 351.4,453.9 351.8,454.6 352.1,455.2 352.4,455.3 352.7,454.7 353.0,455.6 353.3,455.5 353.6,453.2 353.9,454.8 354.2,454.7 354.6,454.3 354.9,454.0 355.2,454.6 355.5,454.8 355.8,454.7 356.1,455.6 356.4,455.3 356.7,454.1 357.0,454.0 357.4,455.2 357.7,454.0 358.0,454.7 358.3,454.9 358.6,455.3 358.9,454.9 359.2,455.6 359.5,454.2 359.8,455.0 360.2,454.0 360.5,454.7 360.8,454.6 361.1,453.8 361.4,452.6 361.7,455.3 362.0,454.8 362.3,454.6 362.6,454.0 363.0,454.3 363.3,454.9 363.6,454.5 363.9,455.4 364.2,454.6 364.5,453.9 364.8,455.0 365.1,454.1 365.4,454.7 365.8,453.2 366.1,454.3 366.4,454.9 366.7,454.0 367.0,454.5 367.3,455.0 367.6,454.6 367.9,455.9 368.2,454.3 368.6,454.4 368.9,454.4 369.2,453.0 369.5,453.4 369.8,454.9 370.1,454.3 370.4,455.6 370.7,454.5 371.0,454.4 371.4,455.3 371.7,454.7 372.0,455.7 372.3,453.7 372.6,454.8 372.9,455.0 373.2,454.9 373.5,455.4 373.8,455.3 374.2,454.6 374.5,454.1 374.8,455.3 375.1,454.6 375.4,455.2 375.7,455.5 376.0,454.7 376.3,453.9 376.6,454.4 377.0,455.1 377.3,454.4 377.6,455.4 377.9,454.6 378.2,454.7 378.5,454.1 378.8,454.5 379.1,455.4 379.4,454.3 379.8,454.3 380.1,454.0 380.4,455.1 380.7,453.4 381.0,454.1 381.3,455.2 381.6,455.6 381.9,454.4 382.2,455.3 382.6,453.1 382.9,455.1 383.2,454.8 383.5,453.6 383.8,453.2 384.1,454.2 384.4,454.7 384.7,454.8 385.0,454.6 385.4,455.1 385.7,455.1 386.0,453.5 386.3,454.3 386.6,454.2 386.9,455.3 387.2,454.2 387.5,455.3 387.9,454.6 388.2,456.3 388.5,454.5 388.8,454.5 389.1,454.5 389.4,454.6 389.7,456.3 390.0,454.2 390.3,453.9 390.7,454.4 391.0,455.0 391.3,453.8 391.6,455.1 391.9,455.1 392.2,454.4 392.5,454.4 392.8,454.0 393.1,454.3 393.5,453.9 393.8,455.4 394.1,455.7 394.4,454.3 394.7,454.5 395.0,453.1 395.3,454.1 395.6,454.8 395.9,454.7 396.3,454.6 396.6,455.1 396.9,454.6 397.2,454.2 397.5,455.7 397.8,453.1 398.1,453.7 398.4,454.0 398.7,454.0 399.1,454.0 399.4,454.4 399.7,454.0 400.0,454.5 400.3,454.9 400.6,454.5 400.9,454.6 401.2,453.8 401.5,453.7 401.9,454.3 402.2,455.2 402.5,454.8 402.8,455.3 403.1,455.2 403.4,455.3 403.7,453.9 404.0,455.4 404.3,455.1 404.7,456.0 405.0,454.9 405.3,454.7 405.6,454.4 405.9,454.6 406.2,453.3 406.5,454.3 406.8,454.5 407.1,455.2 407.5,454.0 407.8,454.6 408.1,455.8 408.4,454.1 408.7,455.1 409.0,454.1 409.3,454.4 409.6,454.8 409.9,455.1 410.3,454.2 410.6,453.8 410.9,455.6 411.2,454.6 411.5,455.1 411.8,455.2 412.1,455.0 412.4,454.3 412.7,454.4 413.1,453.4 413.4,454.6 413.7,454.2 414.0,454.5 414.3,455.8 414.6,455.0 414.9,454.5 415.2,453.6 415.5,455.0 415.9,455.6 416.2,453.9 416.5,454.8 416.8,454.1 417.1,454.4 417.4,454.3 417.7,453.4 418.0,454.2 418.3,453.4 418.7,455.5 419.0,455.2 419.3,454.5 419.6,454.7 419.9,454.5 420.2,454.6 420.5,454.6 420.8,454.3 421.1,454.4 421.5,453.6 421.8,453.8 422.1,454.1 422.4,454.7 422.7,454.3 423.0,455.8 423.3,454.4 423.6,454.3 423.9,454.8 424.3,455.2 424.6,455.8 424.9,455.2 425.2,454.1 425.5,454.4 425.8,455.2 426.1,454.7 426.4,455.1 426.8,454.5 427.1,455.6 427.4,455.5 427.7,455.3 428.0,454.6 428.3,453.4 428.6,453.6 428.9,454.7 429.2,455.0 429.6,452.5 429.9,454.2 430.2,455.3 430.5,455.2 430.8,454.2 431.1,455.0 431.4,454.5 431.7,454.4 432.0,455.3 432.4,455.3 432.7,454.2 433.0,453.9 433.3,453.6 433.6,453.6 433.9,455.4 434.2,455.8 434.5,454.7 434.8,455.2 435.2,454.1 435.5,454.5 435.8,455.1 436.1,454.7 436.4,454.5 436.7,453.4 437.0,453.5 437.3,454.2 437.6,454.2 438.0,454.5 438.3,454.1 438.6,454.4 438.9,454.6 439.2,454.9 439.5,454.6 439.8,454.2 440.1,454.3 440.4,455.1 440.8,454.4 441.1,453.9 441.4,453.8 441.7,454.7 442.0,454.9 442.3,455.3 442.6,454.3 442.9,455.4 443.2,454.3 443.6,454.4 443.9,454.1 444.2,454.9 444.5,455.2 444.8,454.5 445.1,454.2 445.4,453.5 445.7,454.6 446.0,454.3 446.4,454.4 446.7,454.1 447.0,453.9 447.3,454.2 447.6,454.8 447.9,455.2 448.2,454.5 448.5,454.7 448.8,454.4 449.2,454.4 449.5,453.6 449.8,455.1 450.1,454.9 450.4,455.5 450.7,454.1 451.0,454.6 451.3,453.9 451.6,454.7 452.0,454.4 452.3,455.0 452.6,454.4 452.9,454.9 453.2,454.2 453.5,454.9 453.8,454.3 454.1,454.2 454.4,454.6 454.8,454.8 455.1,453.6 455.4,453.5 455.7,454.6 456.0,454.5 456.3,453.2 456.6,453.4 456.9,454.0 457.2,454.7 457.6,454.6 457.9,455.2 458.2,455.3 458.5,456.1 458.8,453.6 459.1,454.5 459.4,455.2 459.7,453.7 460.0,453.6 460.4,454.6 460.7,455.2 461.0,455.3 461.3,453.4 461.6,453.7 461.9,454.5 462.2,454.2 462.5,454.7 462.8,454.6 463.2,455.7 463.5,454.5 463.8,454.6 464.1,454.6 464.4,455.2 464.7,453.8 465.0,454.8 465.3,454.0 465.7,453.6 466.0,455.3 466.3,454.9 466.6,455.4 466.9,454.7 467.2,454.9 467.5,454.6 467.8,454.9 468.1,454.3 468.5,455.6 468.8,454.0 469.1,455.6 469.4,454.4 469.7,455.1 470.0,454.6 470.3,454.8 470.6,455.5 470.9,454.6 471.3,453.9 471.6,454.7 471.9,455.0 472.2,452.9 472.5,455.2 472.8,455.2 473.1,453.4 473.4,454.4 473.7,455.1 474.1,453.8 474.4,454.3 474.7,454.3 475.0,454.9 475.3,455.3 475.6,454.5 475.9,454.6 476.2,455.1 476.5,454.9 476.9,454.5 477.2,455.4 477.5,453.6 477.8,454.6 478.1,454.3 478.4,454.2 478.7,454.7 479.0,454.6 479.3,456.1 479.7,455.0 480.0,454.8 480.3,455.6 480.6,455.2 480.9,453.3 481.2,454.6 481.5,455.0 481.8,454.1 482.1,454.7 482.5,454.2 482.8,454.8 483.1,453.5 483.4,453.3 483.7,454.2 484.0,454.7 484.3,455.4 484.6,454.3 484.9,454.0 485.3,455.1 485.6,454.5 485.9,455.7 486.2,454.5 486.5,453.3 486.8,454.0 487.1,453.9 487.4,453.6 487.7,454.0 488.1,454.1 488.4,454.3 488.7,454.2 489.0,454.8 489.3,454.8 489.6,454.6 489.9,454.6 490.2,453.3 490.5,453.4 490.9,454.0 491.2,454.7 491.5,453.6 491.8,454.2 492.1,454.7 492.4,455.8 492.7,454.7 493.0,454.2 493.3,455.2 493.7,454.6 494.0,454.3 494.3,455.2 494.6,453.9 494.9,454.6 495.2,454.6 495.5,455.1 495.8,453.8 496.1,453.7 496.5,454.3 496.8,454.3 497.1,454.5 497.4,454.3 497.7,454.8 498.0,454.9 498.3,454.6 498.6,453.8 498.9,455.2 499.3,453.5 499.6,454.4 499.9,455.1 500.2,454.1 500.5,455.3 500.8,455.7 501.1,455.5 501.4,454.8 501.7,455.1 502.1,454.2 502.4,454.7 502.7,454.8 503.0,454.6 503.3,454.6 503.6,454.4 503.9,453.2 504.2,454.7 504.6,454.7 504.9,455.8 505.2,454.9 505.5,454.5 505.8,455.0 506.1,454.9 506.4,454.5 506.7,454.3 507.0,453.6 507.4,454.6 507.7,455.5 508.0,453.3 508.3,453.9 508.6,455.0 508.9,454.6 509.2,454.8 509.5,453.3 509.8,454.1 510.2,454.8 510.5,454.9 510.8,454.7 511.1,453.9 511.4,454.8 511.7,453.7 512.0,453.9 512.3,453.8 512.6,455.4 513.0,454.2 513.3,454.5 513.6,453.1 513.9,455.2 514.2,454.8 514.5,453.5 514.8,453.5 515.1,455.5 515.4,453.9 515.8,455.7 516.1,454.2 516.4,452.9 516.7,455.2 517.0,454.8 517.3,454.9 517.6,454.2 517.9,454.4 518.2,455.1 518.6,454.0 518.9,453.3 519.2,455.1 519.5,454.1 519.8,455.3 520.1,454.2 520.4,454.2 520.7,454.3 521.0,453.0 521.4,455.2 521.7,454.1 522.0,454.4 522.3,455.4 522.6,454.6 522.9,455.0 523.2,454.7 523.5,455.0 523.8,454.7 524.2,455.2 524.5,454.4 524.8,454.8 525.1,454.1 525.4,455.2 525.7,453.1 526.0,454.6 526.3,454.7 526.6,454.7 527.0,454.5 527.3,455.3 527.6,455.8 527.9,454.1 528.2,453.3 528.5,453.8 528.8,454.0 529.1,454.4 529.4,454.5 529.8,455.2 530.1,454.2 530.4,454.5 530.7,454.6 531.0,453.9 531.3,454.3 531.6,456.2 531.9,454.4 532.2,453.9 532.6,453.1 532.9,455.1 533.2,454.3 533.5,454.1 533.8,456.0 534.1,455.4 534.4,453.4 534.7,454.3 535.0,455.1 535.4,455.0 535.7,453.8 536.0,455.6 536.3,455.6 536.6,453.8 536.9,453.4 537.2,453.6 537.5,454.9 537.8,455.2 538.2,454.6 538.5,454.1 538.8,454.4 539.1,454.8 539.4,453.7 539.7,453.5 540.0,454.4 540.3,455.2 540.6,454.6 541.0,454.6 541.3,454.1 541.6,455.0 541.9,453.4 542.2,454.4 542.5,454.1 542.8,454.4 543.1,453.9 543.5,454.9 543.8,454.4 544.1,454.1 544.4,454.8 544.7,454.5 545.0,454.2 545.3,454.1 545.6,455.0 545.9,453.9 546.3,454.3 546.6,454.3 546.9,454.7 547.2,454.4 547.5,455.8 547.8,453.4 548.1,454.8 548.4,454.5 548.7,455.1 549.1,453.5 549.4,455.2 549.7,453.6 550.0,454.9 550.3,454.8 550.6,454.5 550.9,454.0 551.2,454.0 551.5,454.5 551.9,454.0 552.2,453.3 552.5,453.4 552.8,455.0 553.1,455.0 553.4,454.8 553.7,454.5 554.0,454.7 554.3,454.8 554.7,454.6 555.0,454.0 555.3,454.0 555.6,453.8 555.9,454.6 556.2,453.9 556.5,454.4 556.8,455.3 557.1,454.3 557.5,455.1 557.8,455.4 558.1,453.4 558.4,453.6 558.7,454.8 559.0,454.1 559.3,454.8 559.6,454.9 559.9,454.2 560.3,455.0 560.6,455.5 560.9,455.1 561.2,454.0 561.5,454.4 561.8,454.2 562.1,455.4 562.4,454.4 562.7,454.1 563.1,454.5 563.4,454.8 563.7,454.3 564.0,454.6 564.3,454.5 564.6,454.9 564.9,455.1 565.2,454.7 565.5,454.2 565.9,454.7 566.2,454.0 566.5,455.1 566.8,454.7 567.1,454.7 567.4,453.1 567.7,455.9 568.0,455.4 568.3,455.3 568.7,454.6 569.0,454.9 569.3,456.2 569.6,454.1 569.9,455.0 570.2,454.9 570.5,454.6 570.8,454.7 571.1,453.9 571.5,454.9 571.8,453.8 572.1,455.6 572.4,455.0 572.7,454.0 573.0,453.3 573.3,454.6 573.6,454.8 573.9,454.0 574.3,455.5 574.6,454.7 574.9,454.3 575.2,453.7 575.5,454.5 575.8,454.4 576.1,454.9 576.4,455.2 576.7,454.6 577.1,454.8 577.4,455.4 577.7,454.9 578.0,454.4 578.3,454.9 578.6,454.2 578.9,454.8 579.2,454.6 579.5,453.9 579.9,454.9 580.2,454.6 580.5,455.0 580.8,453.8 581.1,455.2 581.4,455.2 581.7,454.3 582.0,454.5 582.4,454.6 582.7,454.5 583.0,455.0 583.3,454.1 583.6,453.9 583.9,454.4 584.2,455.6 584.5,454.3 584.8,454.0 585.2,454.0 585.5,454.6 585.8,455.2 586.1,454.1 586.4,454.6 586.7,454.6 587.0,454.8 587.3,454.6 587.6,455.1 588.0,454.9 588.3,454.2 588.6,455.9 588.9,453.7 589.2,453.8 589.5,455.1 589.8,454.6 590.1,454.4 590.4,454.6 590.8,454.9 591.1,454.3 591.4,454.2 591.7,453.9 592.0,454.0 592.3,454.1 592.6,455.2 592.9,454.7 593.2,454.8 593.6,454.2 593.9,455.1 594.2,453.6 594.5,454.8 594.8,454.9 595.1,454.2 595.4,453.9 595.7,454.8 596.0,454.1 596.4,454.0 596.7,454.5 597.0,453.9 597.3,454.4 597.6,455.7 597.9,454.3 598.2,455.0 598.5,453.9 598.8,454.6 599.2,454.4 599.5,454.4 599.8,454.9 600.1,455.7 600.4,454.4 600.7,455.2 601.0,454.7 601.3,454.9 601.6,454.2 602.0,454.1 602.3,454.4 602.6,454.1 602.9,454.5 603.2,453.9 603.5,454.5 603.8,454.6 604.1,455.5 604.4,455.5 604.8,454.8 605.1,454.2 605.4,454.9 605.7,455.0 606.0,454.4 606.3,454.0 606.6,453.5 606.9,454.5 607.2,455.6 607.6,454.4 607.9,454.7 608.2,454.7 608.5,454.8 608.8,454.9 609.1,453.4 609.4,454.4 609.7,454.7 610.0,454.5 610.4,455.2 610.7,454.3 611.0,455.0 611.3,455.5 611.6,454.4 611.9,454.5 612.2,454.4 612.5,454.9 612.8,453.3 613.2,453.7 613.5,454.4 613.8,455.0 614.1,454.8 614.4,454.1 614.7,455.4 615.0,454.6 615.3,454.2 615.6,454.8 616.0,455.2 616.3,454.5 616.6,453.7 616.9,454.2 617.2,454.6 617.5,455.0 617.8,454.0 618.1,454.7 618.4,453.9 618.8,454.6 619.1,453.8 619.4,454.3 619.7,453.7 620.0,454.0 620.3,453.7 620.6,453.4 620.9,455.2 621.3,455.2 621.6,454.8 621.9,454.3 622.2,455.3 622.5,454.4 622.8,454.8 623.1,455.1 623.4,454.7 623.7,455.3 624.1,454.5 624.4,454.4 624.7,454.6 625.0,453.9 625.3,453.9 625.6,455.0 625.9,453.6 626.2,455.1 626.5,454.7 626.9,455.2 627.2,454.9 627.5,454.9 627.8,455.5 628.1,454.5 628.4,454.5 628.7,455.1 629.0,454.2 629.3,455.2 629.7,454.9 630.0,454.3 630.3,453.9 630.6,453.4 630.9,455.5 631.2,453.7 631.5,453.9 631.8,455.0 632.1,454.8 632.5,454.6 632.8,454.6 633.1,454.3 633.4,454.0 633.7,454.1 634.0,454.8 634.3,455.1 634.6,455.2 634.9,454.5 635.3,453.3 635.6,454.8 635.9,454.4 636.2,453.1 636.5,455.3 636.8,454.6 637.1,454.5 637.4,454.6 637.7,454.6 638.1,454.7 638.4,454.6 638.7,454.5 639.0,454.8 639.3,454.7 639.6,455.8 639.9,454.6 640.2,454.3 640.5,454.2 640.9,454.7 641.2,454.6 641.5,454.7 641.8,454.4 642.1,454.4 642.4,454.9 642.7,455.3 643.0,454.7 643.3,454.5 643.7,453.9 644.0,453.9 644.3,454.6 644.6,454.4 644.9,454.5 645.2,453.9 645.5,454.5 645.8,453.5 646.1,453.9 646.5,454.1 646.8,454.8 647.1,454.2 647.4,454.0 647.7,454.7 648.0,454.5 648.3,455.0 648.6,454.7 648.9,454.6 649.3,454.4 649.6,454.9 649.9,454.1 650.2,453.7 650.5,455.0 650.8,454.3 651.1,454.5 651.4,454.8 651.7,455.0 652.1,453.0 652.4,454.0 652.7,455.1 653.0,453.6 653.3,454.7 653.6,454.3 653.9,454.0 654.2,454.4 654.5,453.6 654.9,454.7 655.2,455.1 655.5,453.8 655.8,454.2 656.1,455.1 656.4,454.7 656.7,454.3 657.0,455.2 657.3,453.6 657.7,454.4 658.0,454.5 658.3,454.3 658.6,454.9 658.9,453.6 659.2,454.5 659.5,454.1 659.8,455.1 660.2,455.0 660.5,454.1 660.8,453.9 661.1,454.5 661.4,454.1 661.7,454.2 662.0,454.7 662.3,454.3 662.6,455.4 663.0,454.5 663.3,454.2 663.6,453.9 663.9,454.2 664.2,455.1 664.5,454.8 664.8,455.2 665.1,455.2 665.4,454.8 665.8,454.1 666.1,454.4 666.4,454.5 666.7,453.7 667.0,454.7 667.3,454.0 667.6,454.5 667.9,454.2 668.2,454.8 668.6,455.8 668.9,453.9 669.2,454.5 669.5,455.5 669.8,454.0 670.1,454.4 670.4,454.4 670.7,454.7 671.0,453.7 671.4,454.7 671.7,454.8 672.0,455.8 672.3,454.5 672.6,454.2 672.9,454.6 673.2,453.2 673.5,454.7 673.8,455.3 674.2,454.5 674.5,454.5 674.8,454.4 675.1,454.6 675.4,453.9 675.7,455.3 676.0,454.3 676.3,454.3 676.6,455.3 677.0,454.5 677.3,454.3 677.6,455.3 677.9,454.6 678.2,455.0"/>
</g>
<g stroke="#000" stroke-width="3" fill="none">
<rect x="55.6" y="14.6" width="622.8" height="459.1"/>
<line x1="55.8" y1="474" x2="55.8" y2="482.3"/>
<line x1="133.6" y1="474" x2="133.6" y2="482.3"/>
<line x1="211.4" y1="474" x2="211.4" y2="482.3"/>
<line x1="289.2" y1="474" x2="289.2" y2="482.3"/>
<line x1="367.0" y1="474" x2="367.0" y2="482.3"/>
<line x1="444.8" y1="474" x2="444.8" y2="482.3"/>
<line x1="522.6" y1="474" x2="522.6" y2="482.3"/>
<line x1="600.4" y1="474" x2="600.4" y2="482.3"/>
<line x1="678.2" y1="474" x2="678.2" y2="482.3"/>
<line x1="94.7" y1="474" x2="94.7" y2="477.8"/>
<line x1="172.5" y1="474" x2="172.5" y2="477.8"/>
<line x1="250.3" y1="474" x2="250.3" y2="477.8"/>
<line x1="328.1" y1="474" x2="328.1" y2="477.8"/>
<line x1="405.9" y1="474" x2="405.9" y2="477.8"/>
<line x1="483.7" y1="474" x2="483.7" y2="477.8"/>
<line x1="561.5" y1="474" x2="561.5" y2="477.8"/>
<line x1="639.3" y1="474" x2="639.3" y2="477.8"/>
</g>
<text x="55.8" y="507" font-size="25" text-anchor="middle">10</text>
<text x="133.6" y="507" font-size="25" text-anchor="middle">20</text>
<text x="211.4" y="507" font-size="25" text-anchor="middle">30</text>
<text x="289.2" y="507" font-size="25" text-anchor="middle">40</text>
<text x="367.0" y="507" font-size="25" text-anchor="middle">50</text>
<text x="444.8" y="507" font-size="25" text-anchor="middle">60</text>
<text x="522.6" y="507" font-size="25" text-anchor="middle">70</text>
<text x="600.4" y="507" font-size="25" text-anchor="middle">80</text>
<text x="678.2" y="507" font-size="25" text-anchor="middle">90</text>
<text x="389.4" y="535.5" font-size="28.5" text-anchor="middle">2<tspan font-size="27.5" dy="0.8">θ</tspan><tspan dy="-0.8">/°</tspan></text>
<text transform="translate(29.8,316.5) rotate(-90)" font-size="28">Intensity/a.u.</text>
<text x="71" y="56" font-size="27">(a)</text>
<text x="495.8" y="170.3" font-size="25.6">1600°C</text>
<text x="495.8" y="288.1" font-size="25.6">1500°C</text>
<text x="495.8" y="345.2" font-size="25.6">1400°C</text>
<text x="495.8" y="400.1" font-size="25.6">1300°C</text>
<text x="495.8" y="443.2" font-size="25.6">1000°C</text>
<path d="M5.5,1122.7 V582.5 H694" stroke="#d4d4d4" stroke-width="1" fill="none"/>
<line x1="694.8" y1="582" x2="694.8" y2="1122.7" stroke="#000" stroke-width="1.4"/>
<g clip-path="url(#cb)">
<polyline fill="none" stroke="#ad75dc" stroke-width="3.8" stroke-linejoin="round" points="53.5,796.7 53.8,800.0 54.1,799.7 54.4,795.3 54.7,795.8 55.1,795.3 55.4,798.0 55.7,796.4 56.0,798.4 56.3,792.1 56.6,800.3 56.9,796.3 57.2,798.2 57.5,796.2 57.9,795.7 58.2,797.6 58.5,798.4 58.8,796.1 59.1,796.2 59.4,798.1 59.7,794.6 60.0,793.2 60.3,797.4 60.7,795.0 61.0,792.3 61.3,794.7 61.6,795.5 61.9,793.9 62.2,793.3 62.5,796.5 62.8,798.4 63.1,796.0 63.5,794.9 63.8,797.2 64.1,797.9 64.4,795.8 64.7,797.5 65.0,798.5 65.3,796.0 65.6,794.7 65.9,797.0 66.3,796.8 66.6,798.5 66.9,793.8 67.2,795.0 67.5,794.6 67.8,792.9 68.1,796.5 68.4,797.2 68.7,794.8 69.1,798.8 69.4,797.7 69.7,797.2 70.0,796.8 70.3,797.8 70.6,793.5 70.9,797.0 71.2,796.9 71.5,792.5 71.9,796.3 72.2,795.1 72.5,796.9 72.8,794.6 73.1,795.2 73.4,795.7 73.7,793.3 74.0,795.7 74.4,794.2 74.7,794.9 75.0,792.8 75.3,795.1 75.6,793.6 75.9,791.5 76.2,791.9 76.5,791.7 76.8,790.9 77.2,783.0 77.5,784.2 77.8,779.8 78.1,774.6 78.4,769.3 78.7,771.2 79.0,768.1 79.3,774.6 79.6,780.0 80.0,779.1 80.3,784.4 80.6,785.2 80.9,789.5 81.2,792.9 81.5,794.8 81.8,789.5 82.1,792.1 82.4,794.6 82.8,796.4 83.1,794.9 83.4,793.4 83.7,795.2 84.0,794.9 84.3,794.8 84.6,794.1 84.9,796.0 85.2,795.9 85.6,795.4 85.9,795.3 86.2,793.7 86.5,795.0 86.8,797.7 87.1,795.6 87.4,793.7 87.7,798.0 88.0,796.8 88.4,799.2 88.7,796.1 89.0,795.4 89.3,793.9 89.6,798.1 89.9,799.9 90.2,794.9 90.5,795.2 90.8,797.0 91.2,795.0 91.5,795.8 91.8,795.7 92.1,796.5 92.4,797.8 92.7,796.3 93.0,797.6 93.3,795.6 93.6,796.7 94.0,793.2 94.3,794.2 94.6,797.4 94.9,795.4 95.2,797.1 95.5,797.0 95.8,798.1 96.1,797.4 96.4,797.7 96.8,796.1 97.1,795.3 97.4,795.2 97.7,795.6 98.0,794.7 98.3,795.5 98.6,796.1 98.9,796.6 99.2,795.8 99.6,793.6 99.9,796.1 100.2,796.5 100.5,797.7 100.8,797.0 101.1,795.4 101.4,795.2 101.7,798.9 102.0,797.2 102.4,798.7 102.7,799.1 103.0,795.1 103.3,796.7 103.6,796.8 103.9,796.9 104.2,796.9 104.5,796.4 104.8,796.4 105.2,794.2 105.5,795.9 105.8,795.1 106.1,796.3 106.4,795.5 106.7,796.9 107.0,797.2 107.3,796.5 107.6,796.5 108.0,796.2 108.3,795.5 108.6,795.8 108.9,795.4 109.2,796.5 109.5,796.0 109.8,796.7 110.1,794.3 110.4,797.1 110.8,795.0 111.1,795.0 111.4,795.7 111.7,795.2 112.0,796.2 112.3,795.1 112.6,794.5 112.9,794.7 113.3,797.5 113.6,795.8 113.9,794.3 114.2,795.7 114.5,793.7 114.8,797.9 115.1,793.7 115.4,796.2 115.7,796.3 116.1,793.7 116.4,795.9 116.7,796.7 117.0,796.0 117.3,795.7 117.6,796.6 117.9,795.5 118.2,795.7 118.5,795.1 118.9,796.0 119.2,794.0 119.5,796.1 119.8,794.4 120.1,793.6 120.4,795.4 120.7,796.9 121.0,795.9 121.3,794.0 121.7,795.5 122.0,794.0 122.3,794.3 122.6,794.4 122.9,791.4 123.2,794.3 123.5,792.7 123.8,793.0 124.1,791.9 124.5,791.7 124.8,792.2 125.1,794.2 125.4,795.0 125.7,792.7 126.0,793.9 126.3,792.0 126.6,789.7 126.9,791.9 127.3,791.9 127.6,790.4 127.9,790.9 128.2,790.7 128.5,788.5 128.8,787.1 129.1,788.0 129.4,787.2 129.7,786.1 130.1,786.7 130.4,786.4 130.7,782.4 131.0,782.1 131.3,780.4 131.6,777.8 131.9,775.3 132.2,770.1 132.5,767.0 132.9,763.1 133.2,754.7 133.5,744.1 133.8,734.0 134.1,719.7 134.4,699.4 134.7,674.4 135.0,649.6 135.3,620.2 135.7,605.9 136.0,606.0 136.3,622.1 136.6,651.3 136.9,677.4 137.2,699.1 137.5,720.1 137.8,733.5 138.1,743.1 138.5,753.2 138.8,761.1 139.1,766.9 139.4,770.6 139.7,773.9 140.0,777.1 140.3,778.6 140.6,782.1 140.9,782.5 141.3,784.0 141.6,785.4 141.9,784.5 142.2,785.8 142.5,789.1 142.8,788.3 143.1,788.1 143.4,789.3 143.7,788.7 144.1,789.9 144.4,789.1 144.7,790.4 145.0,788.4 145.3,791.9 145.6,789.9 145.9,788.7 146.2,790.3 146.5,790.1 146.9,790.6 147.2,789.0 147.5,790.5 147.8,794.0 148.1,788.1 148.4,789.5 148.7,788.3 149.0,788.2 149.3,785.1 149.7,784.9 150.0,785.5 150.3,783.4 150.6,783.4 150.9,778.1 151.2,775.8 151.5,774.5 151.8,764.5 152.2,756.6 152.5,747.6 152.8,735.4 153.1,723.7 153.4,713.5 153.7,711.1 154.0,719.5 154.3,734.5 154.6,745.6 155.0,751.9 155.3,763.4 155.6,769.0 155.9,775.6 156.2,778.4 156.5,783.6 156.8,784.7 157.1,786.4 157.4,787.0 157.8,787.9 158.1,789.3 158.4,791.1 158.7,790.9 159.0,790.5 159.3,792.8 159.6,792.0 159.9,792.0 160.2,791.5 160.6,792.0 160.9,792.2 161.2,790.0 161.5,794.4 161.8,794.1 162.1,793.3 162.4,794.9 162.7,794.3 163.0,794.3 163.4,791.2 163.7,793.8 164.0,794.7 164.3,796.0 164.6,796.3 164.9,795.9 165.2,793.0 165.5,791.9 165.8,795.0 166.2,794.5 166.5,795.5 166.8,794.3 167.1,794.7 167.4,792.8 167.7,795.0 168.0,794.0 168.3,794.8 168.6,794.9 169.0,794.3 169.3,794.7 169.6,794.3 169.9,795.1 170.2,794.8 170.5,793.6 170.8,793.5 171.1,796.0 171.4,793.9 171.8,795.0 172.1,794.3 172.4,793.1 172.7,792.8 173.0,793.6 173.3,793.6 173.6,793.8 173.9,791.6 174.2,792.1 174.6,792.4 174.9,794.0 175.2,789.3 175.5,792.1 175.8,790.6 176.1,791.2 176.4,789.6 176.7,790.0 177.0,790.5 177.4,788.3 177.7,787.4 178.0,786.0 178.3,783.3 178.6,782.8 178.9,779.7 179.2,776.2 179.5,773.4 179.8,768.6 180.2,764.1 180.5,756.3 180.8,747.9 181.1,741.8 181.4,734.2 181.7,730.7 182.0,730.8 182.3,734.9 182.6,741.8 183.0,749.4 183.3,757.4 183.6,761.7 183.9,763.7 184.2,767.5 184.5,767.0 184.8,768.4 185.1,765.7 185.4,764.4 185.8,765.8 186.1,767.6 186.4,769.4 186.7,776.1 187.0,781.2 187.3,780.2 187.6,786.1 187.9,785.2 188.2,786.8 188.6,788.3 188.9,787.8 189.2,791.5 189.5,791.2 189.8,790.4 190.1,791.3 190.4,790.4 190.7,791.9 191.1,793.6 191.4,790.9 191.7,792.5 192.0,793.3 192.3,794.4 192.6,794.9 192.9,793.1 193.2,792.9 193.5,794.2 193.9,793.4 194.2,793.6 194.5,795.1 194.8,795.8 195.1,794.3 195.4,793.9 195.7,794.7 196.0,792.1 196.3,794.1 196.7,793.0 197.0,796.7 197.3,795.0 197.6,794.4 197.9,794.0 198.2,791.5 198.5,794.9 198.8,795.9 199.1,793.4 199.5,794.8 199.8,794.9 200.1,792.4 200.4,795.0 200.7,795.4 201.0,794.2 201.3,793.8 201.6,794.6 201.9,792.1 202.3,793.8 202.6,794.7 202.9,792.2 203.2,794.5 203.5,792.9 203.8,791.0 204.1,793.0 204.4,792.0 204.7,793.2 205.1,791.5 205.4,793.6 205.7,791.6 206.0,792.5 206.3,791.3 206.6,791.4 206.9,792.7 207.2,791.4 207.5,790.5 207.9,789.2 208.2,791.4 208.5,790.6 208.8,789.0 209.1,789.1 209.4,787.2 209.7,786.5 210.0,786.0 210.3,786.4 210.7,785.4 211.0,783.3 211.3,783.6 211.6,782.2 211.9,779.9 212.2,778.9 212.5,775.2 212.8,772.6 213.1,769.9 213.5,765.4 213.8,761.3 214.1,753.1 214.4,748.5 214.7,736.9 215.0,726.1 215.3,710.9 215.6,696.5 215.9,679.1 216.3,661.1 216.6,647.2 216.9,639.0 217.2,644.2 217.5,657.3 217.8,674.2 218.1,694.5 218.4,710.2 218.7,724.1 219.1,736.3 219.4,744.2 219.7,751.8 220.0,757.9 220.3,764.2 220.6,767.9 220.9,771.3 221.2,774.2 221.5,773.6 221.9,775.8 222.2,777.5 222.5,776.4 222.8,777.4 223.1,779.0 223.4,779.4 223.7,780.4 224.0,780.9 224.3,782.3 224.7,785.2 225.0,785.1 225.3,786.9 225.6,788.7 225.9,787.7 226.2,788.0 226.5,789.1 226.8,790.1 227.1,790.4 227.5,790.3 227.8,791.0 228.1,788.9 228.4,789.9 228.7,791.1 229.0,790.0 229.3,789.7 229.6,789.9 230.0,790.2 230.3,791.0 230.6,790.2 230.9,791.4 231.2,792.9 231.5,790.9 231.8,792.2 232.1,791.1 232.4,789.5 232.8,790.2 233.1,789.2 233.4,790.7 233.7,788.3 234.0,790.4 234.3,789.0 234.6,785.7 234.9,787.7 235.2,787.3 235.6,783.5 235.9,783.4 236.2,778.1 236.5,777.0 236.8,771.3 237.1,769.6 237.4,764.4 237.7,762.9 238.0,767.7 238.4,772.5 238.7,772.5 239.0,776.3 239.3,777.0 239.6,777.4 239.9,778.6 240.2,779.3 240.5,775.6 240.8,776.2 241.2,774.2 241.5,770.0 241.8,770.0 242.1,766.3 242.4,758.2 242.7,754.0 243.0,743.3 243.3,731.2 243.6,717.1 244.0,695.4 244.3,670.7 244.6,645.9 244.9,626.0 245.2,621.5 245.5,632.6 245.8,655.7 246.1,682.6 246.4,700.7 246.8,717.1 247.1,726.5 247.4,734.3 247.7,737.0 248.0,740.9 248.3,736.5 248.6,732.8 248.9,724.8 249.2,714.3 249.6,695.5 249.9,677.4 250.2,658.3 250.5,647.9 250.8,651.0 251.1,666.3 251.4,688.9 251.7,709.3 252.0,727.5 252.4,740.5 252.7,750.3 253.0,758.9 253.3,765.3 253.6,771.9 253.9,772.9 254.2,776.7 254.5,780.2 254.8,778.7 255.2,780.7 255.5,782.7 255.8,784.9 256.1,788.4 256.4,787.3 256.7,788.8 257.0,788.1 257.3,786.5 257.6,787.1 258.0,790.9 258.3,790.4 258.6,789.3 258.9,792.0 259.2,789.7 259.5,792.6 259.8,793.2 260.1,791.2 260.4,791.1 260.8,793.2 261.1,791.4 261.4,793.5 261.7,791.6 262.0,793.7 262.3,793.1 262.6,792.7 262.9,792.3 263.2,793.5 263.6,791.5 263.9,793.1 264.2,793.1 264.5,794.2 264.8,792.3 265.1,795.3 265.4,793.3 265.7,792.5 266.0,795.0 266.4,795.3 266.7,793.5 267.0,792.8 267.3,793.7 267.6,793.0 267.9,793.3 268.2,795.1 268.5,793.9 268.9,793.6 269.2,793.7 269.5,793.3 269.8,794.0 270.1,794.0 270.4,792.6 270.7,792.9 271.0,795.0 271.3,792.9 271.7,792.1 272.0,794.0 272.3,791.7 272.6,790.3 272.9,791.6 273.2,789.6 273.5,789.4 273.8,789.5 274.1,788.2 274.5,786.7 274.8,785.7 275.1,784.2 275.4,784.0 275.7,779.9 276.0,777.1 276.3,775.8 276.6,768.4 276.9,763.9 277.3,755.5 277.6,743.9 277.9,731.2 278.2,722.3 278.5,716.4 278.8,718.0 279.1,725.2 279.4,737.6 279.7,748.9 280.1,756.1 280.4,766.0 280.7,770.6 281.0,774.3 281.3,778.0 281.6,782.7 281.9,783.8 282.2,782.7 282.5,785.6 282.9,786.3 283.2,786.8 283.5,786.8 283.8,786.0 284.1,788.0 284.4,785.9 284.7,785.8 285.0,784.9 285.3,784.4 285.7,786.1 286.0,786.6 286.3,786.8 286.6,787.8 286.9,789.3 287.2,791.5 287.5,791.4 287.8,792.1 288.1,792.0 288.5,792.4 288.8,793.1 289.1,791.4 289.4,794.8 289.7,792.7 290.0,793.0 290.3,794.9 290.6,794.0 290.9,793.9 291.3,793.3 291.6,792.4 291.9,794.1 292.2,795.0 292.5,793.1 292.8,795.2 293.1,792.8 293.4,793.1 293.7,794.2 294.1,793.7 294.4,794.2 294.7,792.8 295.0,792.4 295.3,791.4 295.6,791.9 295.9,791.7 296.2,791.2 296.5,792.5 296.9,791.2 297.2,789.5 297.5,793.1 297.8,789.4 298.1,788.2 298.4,789.5 298.7,788.2 299.0,784.4 299.3,782.1 299.7,779.9 300.0,778.5 300.3,772.9 300.6,767.2 300.9,762.0 301.2,757.5 301.5,751.3 301.8,752.0 302.1,754.4 302.5,763.2 302.8,768.8 303.1,773.3 303.4,776.6 303.7,780.8 304.0,780.8 304.3,785.0 304.6,785.1 304.9,786.4 305.3,787.9 305.6,789.0 305.9,790.4 306.2,791.0 306.5,790.9 306.8,790.0 307.1,791.7 307.4,791.1 307.8,792.3 308.1,790.4 308.4,788.6 308.7,790.6 309.0,792.8 309.3,791.0 309.6,790.0 309.9,790.6 310.2,789.7 310.6,789.0 310.9,787.2 311.2,786.7 311.5,785.5 311.8,783.0 312.1,780.5 312.4,779.0 312.7,776.3 313.0,771.6 313.4,765.9 313.7,758.9 314.0,752.7 314.3,742.2 314.6,736.3 314.9,734.7 315.2,735.7 315.5,742.8 315.8,751.9 316.2,760.6 316.5,766.3 316.8,771.9 317.1,776.1 317.4,778.4 317.7,783.2 318.0,784.1 318.3,784.5 318.6,787.3 319.0,787.0 319.3,788.5 319.6,790.3 319.9,790.1 320.2,792.4 320.5,790.6 320.8,792.6 321.1,793.2 321.4,794.3 321.8,794.1 322.1,793.7 322.4,793.8 322.7,793.8 323.0,795.1 323.3,793.6 323.6,794.8 323.9,794.4 324.2,794.8 324.6,794.4 324.9,796.7 325.2,794.2 325.5,795.1 325.8,795.2 326.1,795.6 326.4,795.5 326.7,795.5 327.0,796.0 327.4,793.8 327.7,795.2 328.0,794.2 328.3,795.5 328.6,794.3 328.9,794.5 329.2,795.3 329.5,796.6 329.8,795.9 330.2,795.7 330.5,796.6 330.8,794.6 331.1,793.5 331.4,795.0 331.7,795.1 332.0,796.5 332.3,797.3 332.6,794.1 333.0,797.5 333.3,796.7 333.6,796.0 333.9,795.5 334.2,797.3 334.5,795.1 334.8,794.6 335.1,795.0 335.4,793.6 335.8,795.1 336.1,794.5 336.4,794.7 336.7,794.6 337.0,793.1 337.3,795.0 337.6,792.7 337.9,794.1 338.2,791.7 338.6,793.2 338.9,792.0 339.2,792.6 339.5,792.0 339.8,790.7 340.1,791.8 340.4,793.0 340.7,793.7 341.0,792.1 341.4,791.7 341.7,793.0 342.0,793.8 342.3,793.5 342.6,793.5 342.9,795.1 343.2,795.3 343.5,795.1 343.8,793.7 344.2,794.6 344.5,794.4 344.8,793.3 345.1,795.3 345.4,794.6 345.7,794.0 346.0,795.6 346.3,794.9 346.7,794.8 347.0,795.0 347.3,794.3 347.6,792.4 347.9,792.8 348.2,793.7 348.5,791.7 348.8,791.9 349.1,791.6 349.5,791.7 349.8,790.7 350.1,789.3 350.4,787.3 350.7,787.2 351.0,786.0 351.3,784.9 351.6,786.1 351.9,785.7 352.3,785.2 352.6,787.6 352.9,786.9 353.2,788.0 353.5,786.3 353.8,787.6 354.1,786.5 354.4,786.0 354.7,784.6 355.1,787.4 355.4,784.9 355.7,785.0 356.0,786.0 356.3,785.6 356.6,787.1 356.9,786.6 357.2,789.0 357.5,789.4 357.9,791.1 358.2,791.5 358.5,790.8 358.8,790.8 359.1,792.0 359.4,793.8 359.7,793.8 360.0,794.0 360.3,792.1 360.7,791.7 361.0,793.6 361.3,794.0 361.6,793.8 361.9,794.7 362.2,794.3 362.5,793.4 362.8,793.7 363.1,794.5 363.5,794.5 363.8,794.3 364.1,796.2 364.4,794.0 364.7,794.2 365.0,793.1 365.3,793.4 365.6,794.0 365.9,793.7 366.3,792.8 366.6,792.8 366.9,792.0 367.2,789.7 367.5,787.7 367.8,791.4 368.1,788.9 368.4,786.6 368.7,783.4 369.1,782.0 369.4,782.6 369.7,778.2 370.0,780.3 370.3,782.3 370.6,783.3 370.9,785.5 371.2,786.4 371.5,789.8 371.9,788.0 372.2,788.5 372.5,790.5 372.8,791.9 373.1,790.9 373.4,792.0 373.7,790.6 374.0,790.0 374.3,791.9 374.7,791.6 375.0,791.0 375.3,788.7 375.6,787.1 375.9,785.8 376.2,785.0 376.5,783.7 376.8,781.2 377.1,776.8 377.5,775.2 377.8,772.6 378.1,771.3 378.4,771.4 378.7,773.1 379.0,776.5 379.3,779.1 379.6,782.0 379.9,783.6 380.3,786.6 380.6,787.8 380.9,787.4 381.2,790.6 381.5,790.8 381.8,792.5 382.1,792.2 382.4,792.7 382.7,793.4 383.1,793.5 383.4,793.5 383.7,792.6 384.0,795.8 384.3,793.2 384.6,794.3 384.9,795.3 385.2,795.2 385.6,795.5 385.9,795.7 386.2,796.2 386.5,795.5 386.8,797.7 387.1,794.6 387.4,795.6 387.7,795.2 388.0,795.1 388.4,795.8 388.7,796.8 389.0,795.1 389.3,795.1 389.6,796.3 389.9,796.2 390.2,797.4 390.5,796.6 390.8,796.0 391.2,795.6 391.5,796.0 391.8,795.7 392.1,794.8 392.4,795.9 392.7,795.8 393.0,795.7 393.3,795.6 393.6,797.3 394.0,796.5 394.3,796.7 394.6,795.4 394.9,795.1 395.2,795.7 395.5,796.1 395.8,795.7 396.1,795.8 396.4,796.7 396.8,796.2 397.1,795.1 397.4,795.6 397.7,795.4 398.0,796.1 398.3,795.0 398.6,795.8 398.9,796.5 399.2,795.9 399.6,795.1 399.9,795.4 400.2,796.0 400.5,796.2 400.8,796.5 401.1,795.7 401.4,794.7 401.7,796.9 402.0,796.0 402.4,796.1 402.7,795.9 403.0,794.8 403.3,795.4 403.6,795.8 403.9,796.4 404.2,795.6 404.5,793.0 404.8,795.2 405.2,795.7 405.5,796.4 405.8,795.8 406.1,797.2 406.4,796.2 406.7,796.1 407.0,795.7 407.3,793.7 407.6,795.3 408.0,795.0 408.3,794.0 408.6,794.7 408.9,794.3 409.2,793.4 409.5,793.4 409.8,793.0 410.1,793.0 410.4,792.1 410.8,792.4 411.1,790.0 411.4,790.8 411.7,789.1 412.0,789.5 412.3,789.7 412.6,788.8 412.9,788.3 413.2,788.2 413.6,789.4 413.9,787.4 414.2,789.3 414.5,787.8 414.8,789.1 415.1,790.1 415.4,789.8 415.7,791.1 416.0,791.9 416.4,790.7 416.7,791.8 417.0,791.8 417.3,790.8 417.6,792.3 417.9,791.9 418.2,793.6 418.5,791.8 418.8,793.8 419.2,792.0 419.5,793.8 419.8,792.5 420.1,792.2 420.4,792.1 420.7,791.8 421.0,791.8 421.3,791.4 421.6,789.1 422.0,787.6 422.3,785.4 422.6,785.9 422.9,785.3 423.2,783.0 423.5,780.5 423.8,777.2 424.1,773.6 424.5,770.0 424.8,766.5 425.1,761.3 425.4,760.9 425.7,758.8 426.0,761.5 426.3,764.3 426.6,768.4 426.9,771.9 427.3,775.4 427.6,779.3 427.9,781.2 428.2,786.0 428.5,785.6 428.8,786.8 429.1,788.0 429.4,788.6 429.7,788.3 430.1,790.6 430.4,791.6 430.7,790.7 431.0,792.3 431.3,791.7 431.6,792.8 431.9,793.4 432.2,793.7 432.5,793.8 432.9,793.1 433.2,794.4 433.5,793.5 433.8,794.2 434.1,794.6 434.4,793.8 434.7,793.1 435.0,794.6 435.3,793.3 435.7,793.4 436.0,793.2 436.3,794.6 436.6,793.8 436.9,792.1 437.2,794.2 437.5,795.1 437.8,794.7 438.1,792.7 438.5,793.0 438.8,793.1 439.1,793.3 439.4,792.5 439.7,791.6 440.0,793.0 440.3,793.0 440.6,791.7 440.9,792.6 441.3,793.3 441.6,793.3 441.9,793.9 442.2,794.3 442.5,794.3 442.8,794.0 443.1,793.2 443.4,794.8 443.7,795.4 444.1,795.9 444.4,794.5 444.7,794.5 445.0,795.7 445.3,795.7 445.6,794.9 445.9,795.2 446.2,794.1 446.5,795.1 446.9,794.0 447.2,794.5 447.5,794.4 447.8,794.1 448.1,792.8 448.4,793.7 448.7,794.5 449.0,794.1 449.3,793.7 449.7,794.2 450.0,794.2 450.3,794.1 450.6,792.6 450.9,793.0 451.2,792.4 451.5,791.6 451.8,790.8 452.1,791.3 452.5,790.2 452.8,791.9 453.1,789.6 453.4,788.9 453.7,788.3 454.0,789.6 454.3,787.4 454.6,788.0 454.9,787.7 455.3,788.4 455.6,788.7 455.9,789.7 456.2,788.0 456.5,789.0 456.8,790.1 457.1,788.4 457.4,788.3 457.7,787.3 458.1,785.4 458.4,786.4 458.7,786.3 459.0,783.8 459.3,781.2 459.6,780.7 459.9,778.1 460.2,775.8 460.5,772.3 460.9,767.5 461.2,763.9 461.5,758.5 461.8,757.9 462.1,756.3 462.4,758.0 462.7,760.8 463.0,763.7 463.4,767.9 463.7,771.3 464.0,774.0 464.3,778.4 464.6,781.1 464.9,782.3 465.2,785.3 465.5,786.2 465.8,787.6 466.2,787.7 466.5,787.8 466.8,790.3 467.1,790.7 467.4,790.7 467.7,790.8 468.0,791.3 468.3,791.7 468.6,791.7 469.0,790.8 469.3,793.0 469.6,791.5 469.9,792.4 470.2,792.5 470.5,793.0 470.8,791.7 471.1,793.7 471.4,793.3 471.8,793.4 472.1,793.7 472.4,792.2 472.7,790.5 473.0,792.8 473.3,793.4 473.6,793.2 473.9,791.8 474.2,791.9 474.6,791.9 474.9,790.2 475.2,790.7 475.5,790.3 475.8,791.4 476.1,789.3 476.4,790.3 476.7,788.4 477.0,786.4 477.4,788.1 477.7,784.6 478.0,784.2 478.3,783.2 478.6,779.4 478.9,776.4 479.2,774.9 479.5,770.8 479.8,766.2 480.2,762.7 480.5,760.3 480.8,759.6 481.1,758.8 481.4,761.1 481.7,764.7 482.0,767.7 482.3,771.2 482.6,774.1 483.0,774.7 483.3,778.8 483.6,779.8 483.9,780.7 484.2,780.9 484.5,781.1 484.8,781.6 485.1,782.3 485.4,781.1 485.8,780.6 486.1,779.7 486.4,779.2 486.7,776.7 487.0,774.7 487.3,773.4 487.6,769.9 487.9,768.6 488.2,766.3 488.6,767.2 488.9,768.1 489.2,769.9 489.5,771.7 489.8,773.4 490.1,775.8 490.4,777.2 490.7,779.3 491.0,779.8 491.4,778.5 491.7,779.5 492.0,778.1 492.3,777.7 492.6,775.7 492.9,773.6 493.2,774.0 493.5,772.8 493.8,771.7 494.2,772.2 494.5,774.7 494.8,776.4 495.1,779.1 495.4,781.9 495.7,784.3 496.0,784.7 496.3,787.3 496.6,788.3 497.0,788.2 497.3,788.1 497.6,790.5 497.9,790.9 498.2,792.6 498.5,792.4 498.8,792.3 499.1,793.2 499.4,791.6 499.8,792.7 500.1,792.5 500.4,794.0 500.7,793.4 501.0,791.0 501.3,794.1 501.6,792.6 501.9,793.8 502.3,793.0 502.6,793.5 502.9,793.7 503.2,793.4 503.5,792.6 503.8,794.1 504.1,793.3 504.4,792.9 504.7,793.2 505.1,792.2 505.4,793.7 505.7,792.4 506.0,792.4 506.3,792.2 506.6,791.3 506.9,791.1 507.2,792.0 507.5,792.2 507.9,792.9 508.2,792.4 508.5,791.4 508.8,792.6 509.1,792.8 509.4,792.9 509.7,792.4 510.0,791.3 510.3,792.8 510.7,791.4 511.0,792.0 511.3,790.4 511.6,791.6 511.9,790.2 512.2,791.1 512.5,791.0 512.8,790.0 513.1,787.8 513.5,787.1 513.8,786.2 514.1,786.1 514.4,784.5 514.7,782.7 515.0,780.8 515.3,778.6 515.6,775.8 515.9,773.2 516.3,768.3 516.6,764.5 516.9,759.3 517.2,756.5 517.5,754.9 517.8,754.3 518.1,756.7 518.4,760.2 518.7,763.0 519.1,766.9 519.4,770.7 519.7,774.5 520.0,777.0 520.3,780.1 520.6,782.2 520.9,783.9 521.2,785.7 521.5,786.4 521.9,787.5 522.2,789.4 522.5,789.0 522.8,790.1 523.1,790.2 523.4,790.3 523.7,790.6 524.0,790.7 524.3,791.5 524.7,791.3 525.0,791.6 525.3,792.8 525.6,792.0 525.9,792.8 526.2,792.3 526.5,792.7 526.8,791.6 527.1,792.0 527.5,793.5 527.8,792.1 528.1,791.9 528.4,791.1 528.7,791.0 529.0,789.2 529.3,788.8 529.6,788.8 529.9,788.1 530.3,786.2 530.6,785.2 530.9,783.8 531.2,782.8 531.5,781.3 531.8,780.7 532.1,781.7 532.4,781.3 532.7,782.8 533.1,784.1 533.4,785.1 533.7,787.1 534.0,787.6 534.3,788.7 534.6,788.8 534.9,789.5 535.2,790.8 535.5,791.1 535.9,790.8 536.2,791.5 536.5,791.5 536.8,791.6 537.1,792.5 537.4,791.2 537.7,791.6 538.0,791.4 538.3,790.8 538.7,789.9 539.0,790.7 539.3,790.0 539.6,789.3 539.9,788.7 540.2,787.9 540.5,786.3 540.8,785.9 541.2,783.2 541.5,782.6 541.8,779.7 542.1,778.1 542.4,776.2 542.7,772.8 543.0,770.0 543.3,768.3 543.6,766.3 544.0,765.8 544.3,766.6 544.6,769.7 544.9,771.7 545.2,774.4 545.5,776.2 545.8,779.8 546.1,780.9 546.4,783.9 546.8,784.6 547.1,787.9 547.4,786.8 547.7,789.6 548.0,790.2 548.3,789.3 548.6,790.8 548.9,792.4 549.2,792.7 549.6,791.3 549.9,792.4 550.2,792.3 550.5,792.6 550.8,793.1 551.1,794.8 551.4,794.0 551.7,793.9 552.0,794.0 552.4,794.7 552.7,794.9 553.0,794.0 553.3,795.6 553.6,794.1 553.9,794.7 554.2,795.2 554.5,796.0 554.8,794.8 555.2,795.3 555.5,796.0 555.8,795.6 556.1,795.9 556.4,795.9 556.7,795.5 557.0,795.8 557.3,796.0 557.6,795.4 558.0,796.4 558.3,794.3 558.6,795.0 558.9,796.4 559.2,795.8 559.5,795.2 559.8,795.8 560.1,796.3 560.4,795.3 560.8,796.1 561.1,795.6 561.4,795.6 561.7,795.6 562.0,796.3 562.3,795.0 562.6,795.5 562.9,796.1 563.2,794.9 563.6,794.7 563.9,796.0 564.2,795.7 564.5,795.6 564.8,795.7 565.1,795.1 565.4,797.4 565.7,795.0 566.0,795.4 566.4,794.8 566.7,795.3 567.0,796.5 567.3,795.5 567.6,795.9 567.9,795.2 568.2,796.5 568.5,795.5 568.8,794.7 569.2,795.8 569.5,795.1 569.8,795.6 570.1,795.3 570.4,795.3 570.7,795.2 571.0,794.5 571.3,794.1 571.6,795.4 572.0,794.7 572.3,794.8 572.6,794.3 572.9,793.3 573.2,793.6 573.5,795.0 573.8,793.5 574.1,793.6 574.4,792.7 574.8,793.1 575.1,792.9 575.4,792.7 575.7,792.5 576.0,791.8 576.3,791.4 576.6,791.3 576.9,791.1 577.2,790.4 577.6,791.0 577.9,789.6 578.2,789.1 578.5,788.2 578.8,788.8 579.1,787.4 579.4,786.9 579.7,787.3 580.1,788.3 580.4,787.5 580.7,789.3 581.0,788.9 581.3,788.5 581.6,789.7 581.9,791.4 582.2,790.3 582.5,790.5 582.9,792.0 583.2,792.8 583.5,793.0 583.8,792.5 584.1,793.1 584.4,793.4 584.7,794.1 585.0,794.9 585.3,793.8 585.7,794.8 586.0,794.0 586.3,794.6 586.6,793.9 586.9,794.1 587.2,794.8 587.5,794.2 587.8,795.3 588.1,794.5 588.5,794.9 588.8,794.9 589.1,794.8 589.4,795.1 589.7,795.6 590.0,796.8 590.3,794.4 590.6,795.3 590.9,795.0 591.3,794.6 591.6,795.3 591.9,794.6 592.2,795.1 592.5,795.8 592.8,794.0 593.1,795.2 593.4,795.3 593.7,794.5 594.1,795.3 594.4,795.1 594.7,794.7 595.0,795.5 595.3,794.1 595.6,795.1 595.9,794.5 596.2,794.0 596.5,794.4 596.9,794.2 597.2,794.7 597.5,793.3 597.8,793.8 598.1,793.5 598.4,794.5 598.7,792.8 599.0,793.8 599.3,792.0 599.7,792.8 600.0,792.3 600.3,792.2 600.6,791.2 600.9,790.1 601.2,789.9 601.5,790.9 601.8,789.8 602.1,788.6 602.5,789.0 602.8,787.6 603.1,787.1 603.4,786.4 603.7,787.3 604.0,787.6 604.3,785.9 604.6,786.7 604.9,787.3 605.3,788.2 605.6,786.3 605.9,788.1 606.2,789.0 606.5,788.4 606.8,789.9 607.1,790.4 607.4,791.1 607.7,790.9 608.1,791.8 608.4,791.7 608.7,792.7 609.0,792.7 609.3,792.7 609.6,792.4 609.9,794.3 610.2,794.2 610.5,794.2 610.9,793.5 611.2,793.8 611.5,795.0 611.8,794.7 612.1,793.9 612.4,794.5 612.7,794.6 613.0,794.5 613.3,794.1 613.7,795.4 614.0,795.1 614.3,794.7 614.6,794.0 614.9,794.5 615.2,794.8 615.5,795.3 615.8,794.7 616.1,795.4 616.5,794.9 616.8,794.4 617.1,793.3 617.4,794.2 617.7,794.0 618.0,794.6 618.3,794.8 618.6,795.3 619.0,794.5 619.3,793.8 619.6,795.6 619.9,794.4 620.2,794.0 620.5,793.9 620.8,793.2 621.1,794.0 621.4,793.7 621.8,794.2 622.1,793.7 622.4,793.3 622.7,793.2 623.0,792.1 623.3,791.7 623.6,791.5 623.9,790.4 624.2,790.5 624.6,789.9 624.9,789.9 625.2,789.0 625.5,787.4 625.8,787.8 626.1,788.0 626.4,785.9 626.7,786.0 627.0,786.2 627.4,785.4 627.7,785.9 628.0,786.4 628.3,786.0 628.6,787.3 628.9,787.9 629.2,787.7 629.5,788.9 629.8,790.0 630.2,790.0 630.5,790.8 630.8,791.4 631.1,791.4 631.4,792.5 631.7,792.5 632.0,792.2 632.3,793.3 632.6,793.7 633.0,793.9 633.3,793.4 633.6,794.2 633.9,794.8 634.2,794.4 634.5,795.0 634.8,795.2 635.1,794.7 635.4,795.2 635.8,794.8 636.1,795.6 636.4,795.1 636.7,794.9 637.0,795.2 637.3,795.3 637.6,795.6 637.9,795.7 638.2,794.9 638.6,795.2 638.9,795.8 639.2,795.9 639.5,795.7 639.8,797.0 640.1,796.3 640.4,795.7 640.7,796.2 641.0,796.5 641.4,796.0 641.7,795.0 642.0,795.9 642.3,795.9 642.6,797.0 642.9,795.0 643.2,796.7 643.5,795.9 643.8,796.5 644.2,795.9 644.5,796.1 644.8,796.6 645.1,796.1 645.4,796.6 645.7,796.0 646.0,795.9 646.3,796.0 646.6,795.8 647.0,796.0 647.3,796.7 647.6,795.5 647.9,795.3 648.2,796.1 648.5,796.9 648.8,796.6 649.1,796.7 649.4,796.6 649.8,795.7 650.1,796.1 650.4,794.7 650.7,795.7 651.0,796.3 651.3,795.2 651.6,795.0 651.9,795.3 652.2,796.0 652.6,796.4 652.9,797.1 653.2,796.5 653.5,795.1 653.8,794.6 654.1,795.8 654.4,796.2 654.7,794.8 655.0,795.3 655.4,795.3 655.7,795.4 656.0,795.2 656.3,795.5 656.6,795.6 656.9,795.0 657.2,795.2 657.5,795.7 657.9,794.1 658.2,793.9 658.5,794.5 658.8,794.9 659.1,793.8 659.4,794.0 659.7,793.1 660.0,793.4 660.3,792.3 660.7,792.6 661.0,792.2 661.3,791.9 661.6,792.1 661.9,791.8 662.2,790.9 662.5,791.6 662.8,790.4 663.1,791.8 663.5,792.8 663.8,792.0 664.1,792.3 664.4,792.4 664.7,793.1 665.0,792.8 665.3,793.6 665.6,793.5 665.9,793.7 666.3,794.2 666.6,794.3 666.9,793.7 667.2,795.7 667.5,794.9 667.8,794.2 668.1,795.6 668.4,795.3 668.7,795.5 669.1,795.8 669.4,795.2 669.7,794.3 670.0,795.7 670.3,795.9 670.6,796.3 670.9,795.5 671.2,795.8 671.5,796.2 671.9,795.9 672.2,796.0 672.5,796.2 672.8,795.7 673.1,796.9 673.4,795.8 673.7,796.2 674.0,796.1 674.3,796.0 674.7,796.5 675.0,796.8 675.3,797.0 675.6,796.6 675.9,796.2"/>
<polyline fill="none" stroke="#38aa6a" stroke-width="3.8" stroke-linejoin="round" points="53.5,925.3 53.8,928.1 54.1,927.3 54.4,927.2 54.7,929.6 55.1,922.1 55.4,923.6 55.7,921.8 56.0,925.0 56.3,927.9 56.6,925.2 56.9,926.6 57.2,920.2 57.5,925.6 57.9,922.8 58.2,929.9 58.5,927.5 58.8,927.7 59.1,925.0 59.4,926.8 59.7,926.9 60.0,924.3 60.3,923.8 60.7,924.8 61.0,923.5 61.3,923.6 61.6,924.4 61.9,923.2 62.2,927.0 62.5,921.0 62.8,927.1 63.1,923.4 63.5,923.6 63.8,921.5 64.1,924.6 64.4,924.3 64.7,925.3 65.0,923.5 65.3,925.0 65.6,929.3 65.9,925.8 66.3,923.3 66.6,927.0 66.9,924.3 67.2,926.0 67.5,926.0 67.8,923.5 68.1,919.6 68.4,923.5 68.7,925.6 69.1,923.3 69.4,925.2 69.7,926.4 70.0,922.6 70.3,926.8 70.6,927.7 70.9,926.2 71.2,926.3 71.5,925.9 71.9,928.5 72.2,923.3 72.5,922.6 72.8,923.8 73.1,919.8 73.4,917.9 73.7,919.2 74.0,921.7 74.4,921.4 74.7,916.0 75.0,914.4 75.3,917.4 75.6,916.7 75.9,915.9 76.2,916.3 76.5,916.1 76.8,912.1 77.2,911.2 77.5,905.4 77.8,903.6 78.1,905.8 78.4,906.2 78.7,906.4 79.0,906.9 79.3,908.6 79.6,910.3 80.0,906.0 80.3,910.1 80.6,914.5 80.9,916.2 81.2,912.5 81.5,919.8 81.8,916.9 82.1,918.2 82.4,920.0 82.8,921.6 83.1,917.0 83.4,923.1 83.7,921.3 84.0,919.6 84.3,921.0 84.6,916.7 84.9,920.5 85.2,922.6 85.6,920.7 85.9,921.7 86.2,922.2 86.5,922.7 86.8,925.0 87.1,922.7 87.4,922.2 87.7,924.1 88.0,927.7 88.4,922.1 88.7,924.1 89.0,919.3 89.3,926.1 89.6,924.5 89.9,926.0 90.2,922.9 90.5,920.6 90.8,925.0 91.2,924.7 91.5,921.0 91.8,919.6 92.1,924.0 92.4,922.6 92.7,928.9 93.0,921.6 93.3,921.7 93.6,922.7 94.0,919.1 94.3,920.9 94.6,926.6 94.9,922.6 95.2,921.5 95.5,920.0 95.8,924.2 96.1,924.3 96.4,923.4 96.8,921.9 97.1,923.5 97.4,923.7 97.7,921.3 98.0,924.2 98.3,918.0 98.6,919.9 98.9,922.1 99.2,922.5 99.6,920.2 99.9,923.5 100.2,925.1 100.5,923.8 100.8,923.3 101.1,924.6 101.4,923.7 101.7,920.3 102.0,922.4 102.4,925.7 102.7,920.3 103.0,923.0 103.3,922.0 103.6,920.9 103.9,920.6 104.2,923.1 104.5,923.6 104.8,923.6 105.2,919.7 105.5,922.3 105.8,923.7 106.1,925.1 106.4,924.5 106.7,924.9 107.0,925.5 107.3,924.9 107.6,921.3 108.0,923.2 108.3,921.6 108.6,917.9 108.9,919.5 109.2,927.8 109.5,920.8 109.8,918.3 110.1,922.0 110.4,926.6 110.8,923.2 111.1,924.2 111.4,922.8 111.7,923.2 112.0,926.2 112.3,925.2 112.6,923.3 112.9,925.4 113.3,925.8 113.6,923.0 113.9,924.1 114.2,924.1 114.5,922.1 114.8,926.1 115.1,923.2 115.4,922.2 115.7,920.0 116.1,920.9 116.4,926.9 116.7,921.1 117.0,924.5 117.3,922.8 117.6,924.7 117.9,924.9 118.2,921.9 118.5,923.0 118.9,923.8 119.2,923.8 119.5,923.5 119.8,922.9 120.1,924.9 120.4,926.3 120.7,924.6 121.0,921.8 121.3,924.3 121.7,923.5 122.0,924.3 122.3,927.2 122.6,922.7 122.9,923.1 123.2,921.2 123.5,922.4 123.8,921.7 124.1,926.3 124.5,923.4 124.8,921.4 125.1,926.6 125.4,919.5 125.7,924.1 126.0,924.3 126.3,923.1 126.6,921.2 126.9,921.2 127.3,920.6 127.6,922.7 127.9,915.8 128.2,919.3 128.5,920.4 128.8,918.4 129.1,915.4 129.4,918.2 129.7,916.6 130.1,919.2 130.4,919.7 130.7,916.0 131.0,910.8 131.3,913.3 131.6,910.4 131.9,912.2 132.2,912.4 132.5,907.2 132.9,908.1 133.2,903.6 133.5,897.7 133.8,889.3 134.1,885.3 134.4,874.3 134.7,870.2 135.0,857.4 135.3,848.2 135.7,834.5 136.0,821.1 136.3,823.0 136.6,826.3 136.9,836.0 137.2,841.7 137.5,853.6 137.8,866.7 138.1,873.9 138.5,881.1 138.8,888.1 139.1,901.1 139.4,898.5 139.7,901.1 140.0,905.1 140.3,908.4 140.6,913.0 140.9,913.9 141.3,914.9 141.6,914.5 141.9,915.7 142.2,914.9 142.5,913.8 142.8,921.8 143.1,917.1 143.4,920.6 143.7,918.2 144.1,919.0 144.4,919.1 144.7,916.8 145.0,919.7 145.3,920.8 145.6,921.8 145.9,921.2 146.2,922.3 146.5,920.8 146.9,920.1 147.2,915.9 147.5,918.8 147.8,922.9 148.1,919.7 148.4,920.7 148.7,918.2 149.0,916.7 149.3,921.7 149.7,917.4 150.0,918.8 150.3,915.5 150.6,912.2 150.9,906.2 151.2,908.4 151.5,901.7 151.8,896.2 152.2,898.1 152.5,890.9 152.8,884.2 153.1,877.2 153.4,873.8 153.7,875.4 154.0,879.2 154.3,885.3 154.6,893.3 155.0,892.6 155.3,904.4 155.6,905.2 155.9,911.4 156.2,914.5 156.5,912.3 156.8,917.2 157.1,918.4 157.4,916.3 157.8,917.5 158.1,919.5 158.4,915.3 158.7,919.4 159.0,921.1 159.3,920.2 159.6,918.2 159.9,920.9 160.2,925.0 160.6,924.8 160.9,922.1 161.2,920.8 161.5,922.6 161.8,922.8 162.1,921.5 162.4,922.2 162.7,924.3 163.0,925.0 163.4,918.2 163.7,925.2 164.0,923.5 164.3,925.6 164.6,923.3 164.9,924.3 165.2,926.7 165.5,917.4 165.8,926.7 166.2,923.9 166.5,919.8 166.8,918.1 167.1,924.1 167.4,921.4 167.7,925.5 168.0,923.9 168.3,923.2 168.6,925.4 169.0,923.8 169.3,924.9 169.6,925.0 169.9,923.9 170.2,924.8 170.5,924.8 170.8,920.4 171.1,922.5 171.4,922.7 171.8,922.1 172.1,919.6 172.4,921.6 172.7,923.3 173.0,922.9 173.3,925.4 173.6,921.0 173.9,921.2 174.2,920.7 174.6,921.0 174.9,920.2 175.2,917.4 175.5,921.5 175.8,922.5 176.1,922.4 176.4,917.6 176.7,918.9 177.0,922.4 177.4,917.8 177.7,918.0 178.0,916.2 178.3,917.5 178.6,916.3 178.9,917.7 179.2,912.5 179.5,910.6 179.8,905.3 180.2,904.5 180.5,901.2 180.8,899.1 181.1,894.0 181.4,896.1 181.7,888.9 182.0,889.7 182.3,885.8 182.6,889.3 183.0,893.4 183.3,890.9 183.6,896.1 183.9,898.3 184.2,902.0 184.5,905.1 184.8,905.5 185.1,908.6 185.4,909.6 185.8,910.8 186.1,911.4 186.4,916.9 186.7,914.6 187.0,918.3 187.3,918.8 187.6,916.4 187.9,921.0 188.2,917.8 188.6,921.1 188.9,923.2 189.2,919.2 189.5,919.1 189.8,919.4 190.1,925.9 190.4,920.9 190.7,919.4 191.1,923.6 191.4,921.8 191.7,922.2 192.0,920.5 192.3,918.2 192.6,921.2 192.9,920.7 193.2,919.6 193.5,920.7 193.9,921.1 194.2,924.6 194.5,924.4 194.8,924.1 195.1,922.1 195.4,920.7 195.7,923.8 196.0,924.1 196.3,925.2 196.7,923.2 197.0,923.0 197.3,923.9 197.6,921.5 197.9,921.7 198.2,924.5 198.5,920.8 198.8,923.1 199.1,924.8 199.5,923.7 199.8,924.0 200.1,921.0 200.4,922.9 200.7,922.6 201.0,924.3 201.3,923.9 201.6,923.1 201.9,926.6 202.3,924.0 202.6,922.3 202.9,921.6 203.2,922.7 203.5,921.6 203.8,925.7 204.1,923.6 204.4,921.8 204.7,921.0 205.1,920.1 205.4,921.5 205.7,924.4 206.0,923.4 206.3,921.5 206.6,921.7 206.9,917.6 207.2,922.4 207.5,920.3 207.9,923.1 208.2,919.9 208.5,919.0 208.8,919.9 209.1,917.9 209.4,921.3 209.7,918.7 210.0,918.3 210.3,917.6 210.7,915.6 211.0,916.4 211.3,914.9 211.6,916.8 211.9,912.4 212.2,911.5 212.5,908.3 212.8,906.5 213.1,904.2 213.5,904.5 213.8,898.9 214.1,896.6 214.4,889.5 214.7,883.6 215.0,873.8 215.3,871.1 215.6,864.5 215.9,850.7 216.3,844.8 216.6,836.5 216.9,829.7 217.2,832.9 217.5,834.4 217.8,843.3 218.1,855.3 218.4,862.6 218.7,868.7 219.1,881.1 219.4,882.7 219.7,889.8 220.0,893.9 220.3,897.8 220.6,899.4 220.9,900.2 221.2,908.6 221.5,904.7 221.9,905.7 222.2,903.3 222.5,908.2 222.8,910.4 223.1,910.6 223.4,913.4 223.7,911.8 224.0,911.1 224.3,911.9 224.7,916.1 225.0,914.6 225.3,916.2 225.6,915.0 225.9,917.7 226.2,921.8 226.5,918.5 226.8,919.9 227.1,915.0 227.5,922.3 227.8,920.8 228.1,922.9 228.4,920.9 228.7,919.0 229.0,918.2 229.3,921.8 229.6,920.9 230.0,919.2 230.3,920.9 230.6,919.8 230.9,922.3 231.2,920.2 231.5,918.7 231.8,920.7 232.1,919.8 232.4,923.4 232.8,919.7 233.1,918.0 233.4,920.1 233.7,919.5 234.0,920.2 234.3,919.8 234.6,917.1 234.9,918.4 235.2,917.7 235.6,915.0 235.9,915.2 236.2,915.5 236.5,910.8 236.8,910.1 237.1,909.3 237.4,908.0 237.7,907.6 238.0,903.4 238.4,906.7 238.7,908.2 239.0,911.1 239.3,908.5 239.6,908.3 239.9,907.5 240.2,911.2 240.5,912.2 240.8,907.8 241.2,908.8 241.5,908.1 241.8,906.3 242.1,901.3 242.4,899.9 242.7,894.5 243.0,887.5 243.3,883.0 243.6,874.6 244.0,861.7 244.3,852.2 244.6,842.7 244.9,826.3 245.2,826.1 245.5,829.5 245.8,836.5 246.1,848.0 246.4,857.6 246.8,869.3 247.1,871.8 247.4,877.7 247.7,877.0 248.0,882.0 248.3,881.2 248.6,874.8 248.9,871.8 249.2,867.5 249.6,857.0 249.9,845.1 250.2,831.8 250.5,828.5 250.8,828.4 251.1,828.4 251.4,840.0 251.7,852.3 252.0,863.6 252.4,874.6 252.7,883.3 253.0,888.5 253.3,900.1 253.6,904.9 253.9,904.1 254.2,909.6 254.5,907.2 254.8,910.2 255.2,914.2 255.5,911.4 255.8,912.3 256.1,916.2 256.4,912.9 256.7,920.2 257.0,919.1 257.3,918.8 257.6,920.0 258.0,917.6 258.3,918.0 258.6,921.5 258.9,922.0 259.2,920.8 259.5,920.8 259.8,920.1 260.1,923.8 260.4,918.8 260.8,920.1 261.1,920.8 261.4,919.2 261.7,919.7 262.0,920.3 262.3,924.1 262.6,925.6 262.9,923.1 263.2,919.6 263.6,921.5 263.9,922.4 264.2,922.2 264.5,922.1 264.8,923.7 265.1,919.4 265.4,921.8 265.7,923.2 266.0,924.1 266.4,923.4 266.7,922.9 267.0,922.7 267.3,921.7 267.6,923.0 267.9,922.5 268.2,921.6 268.5,924.9 268.9,924.9 269.2,922.1 269.5,923.7 269.8,924.7 270.1,923.0 270.4,922.6 270.7,923.1 271.0,919.2 271.3,919.4 271.7,922.7 272.0,922.0 272.3,923.7 272.6,920.2 272.9,922.6 273.2,922.2 273.5,923.3 273.8,917.9 274.1,918.1 274.5,918.4 274.8,917.5 275.1,914.1 275.4,913.5 275.7,910.6 276.0,914.8 276.3,908.0 276.6,904.8 276.9,899.7 277.3,895.9 277.6,891.4 277.9,883.1 278.2,877.8 278.5,877.8 278.8,875.1 279.1,876.8 279.4,881.0 279.7,888.0 280.1,892.7 280.4,899.7 280.7,902.3 281.0,905.7 281.3,908.9 281.6,910.0 281.9,913.9 282.2,919.2 282.5,914.8 282.9,913.9 283.2,919.0 283.5,917.6 283.8,921.4 284.1,918.8 284.4,919.6 284.7,916.5 285.0,914.7 285.3,916.8 285.7,918.0 286.0,915.3 286.3,914.4 286.6,916.7 286.9,917.7 287.2,918.7 287.5,919.9 287.8,924.6 288.1,921.1 288.5,920.6 288.8,919.9 289.1,923.4 289.4,919.5 289.7,924.9 290.0,922.6 290.3,920.1 290.6,923.1 290.9,922.7 291.3,925.0 291.6,920.4 291.9,923.4 292.2,923.0 292.5,924.6 292.8,921.2 293.1,921.8 293.4,926.4 293.7,924.0 294.1,920.5 294.4,923.5 294.7,921.6 295.0,921.6 295.3,920.7 295.6,924.3 295.9,921.6 296.2,922.7 296.5,922.3 296.9,919.4 297.2,920.4 297.5,922.6 297.8,918.3 298.1,921.0 298.4,919.8 298.7,920.4 299.0,919.7 299.3,919.0 299.7,916.5 300.0,915.3 300.3,911.8 300.6,909.8 300.9,909.6 301.2,904.3 301.5,904.4 301.8,902.5 302.1,898.9 302.5,902.1 302.8,902.0 303.1,906.6 303.4,907.5 303.7,911.8 304.0,913.6 304.3,913.3 304.6,919.8 304.9,919.0 305.3,915.6 305.6,919.6 305.9,918.8 306.2,923.3 306.5,920.1 306.8,921.1 307.1,920.3 307.4,921.8 307.8,919.9 308.1,919.3 308.4,919.9 308.7,919.9 309.0,921.5 309.3,920.3 309.6,919.2 309.9,918.8 310.2,917.5 310.6,918.6 310.9,914.3 311.2,916.4 311.5,917.5 311.8,913.6 312.1,911.3 312.4,910.3 312.7,906.0 313.0,903.0 313.4,901.6 313.7,895.3 314.0,895.6 314.3,890.4 314.6,888.2 314.9,888.5 315.2,892.0 315.5,892.7 315.8,901.0 316.2,905.9 316.5,908.7 316.8,909.8 317.1,913.8 317.4,915.7 317.7,915.9 318.0,917.9 318.3,920.0 318.6,919.9 319.0,919.2 319.3,920.5 319.6,921.2 319.9,918.8 320.2,921.9 320.5,921.8 320.8,918.8 321.1,919.8 321.4,925.7 321.8,923.1 322.1,925.3 322.4,922.7 322.7,925.9 323.0,924.5 323.3,922.5 323.6,924.2 323.9,926.4 324.2,927.8 324.6,924.8 324.9,923.3 325.2,922.7 325.5,925.3 325.8,926.0 326.1,924.5 326.4,924.2 326.7,925.7 327.0,925.2 327.4,925.1 327.7,922.0 328.0,924.0 328.3,927.6 328.6,924.6 328.9,928.5 329.2,925.3 329.5,924.2 329.8,925.2 330.2,925.7 330.5,923.6 330.8,925.1 331.1,924.1 331.4,927.1 331.7,924.1 332.0,925.0 332.3,922.4 332.6,922.6 333.0,924.7 333.3,923.4 333.6,924.4 333.9,925.2 334.2,925.8 334.5,922.6 334.8,924.6 335.1,926.0 335.4,923.8 335.8,922.8 336.1,923.8 336.4,927.5 336.7,924.9 337.0,927.4 337.3,924.4 337.6,926.8 337.9,922.6 338.2,924.5 338.6,925.1 338.9,927.7 339.2,925.7 339.5,926.7 339.8,924.2 340.1,924.2 340.4,926.9 340.7,927.2 341.0,926.8 341.4,926.8 341.7,924.0 342.0,928.3 342.3,925.1 342.6,926.9 342.9,926.0 343.2,922.0 343.5,921.7 343.8,922.3 344.2,924.7 344.5,926.5 344.8,924.3 345.1,926.0 345.4,922.7 345.7,923.6 346.0,923.2 346.3,924.6 346.7,922.7 347.0,924.3 347.3,925.3 347.6,923.6 347.9,922.8 348.2,923.4 348.5,922.1 348.8,922.3 349.1,925.1 349.5,924.2 349.8,921.3 350.1,923.0 350.4,923.9 350.7,924.3 351.0,923.8 351.3,924.1 351.6,922.2 351.9,921.9 352.3,921.3 352.6,923.1 352.9,922.5 353.2,923.7 353.5,922.5 353.8,919.4 354.1,918.4 354.4,918.6 354.7,919.6 355.1,922.1 355.4,919.3 355.7,918.6 356.0,921.7 356.3,923.5 356.6,923.7 356.9,925.3 357.2,922.9 357.5,922.3 357.9,922.8 358.2,921.4 358.5,922.5 358.8,925.6 359.1,927.0 359.4,925.8 359.7,924.4 360.0,923.6 360.3,924.4 360.7,921.1 361.0,924.9 361.3,925.3 361.6,923.9 361.9,924.1 362.2,921.5 362.5,925.3 362.8,925.3 363.1,919.8 363.5,923.1 363.8,924.5 364.1,926.4 364.4,922.5 364.7,923.6 365.0,925.8 365.3,924.2 365.6,922.9 365.9,922.4 366.3,922.9 366.6,921.4 366.9,923.8 367.2,920.5 367.5,922.2 367.8,922.1 368.1,921.9 368.4,919.5 368.7,918.6 369.1,918.4 369.4,917.6 369.7,919.0 370.0,917.4 370.3,921.0 370.6,923.0 370.9,918.4 371.2,920.6 371.5,918.8 371.9,922.1 372.2,922.0 372.5,921.2 372.8,920.1 373.1,921.8 373.4,924.8 373.7,924.1 374.0,922.1 374.3,920.4 374.7,921.0 375.0,919.4 375.3,918.1 375.6,918.0 375.9,919.6 376.2,918.2 376.5,916.8 376.8,913.5 377.1,911.6 377.5,913.7 377.8,910.4 378.1,911.9 378.4,908.9 378.7,912.1 379.0,912.1 379.3,912.6 379.6,914.2 379.9,919.1 380.3,919.0 380.6,918.3 380.9,919.9 381.2,918.1 381.5,923.6 381.8,923.7 382.1,921.4 382.4,923.1 382.7,918.6 383.1,924.5 383.4,924.0 383.7,923.8 384.0,924.9 384.3,924.2 384.6,922.5 384.9,923.0 385.2,923.8 385.6,925.5 385.9,924.3 386.2,923.3 386.5,924.9 386.8,922.6 387.1,927.6 387.4,925.0 387.7,923.1 388.0,924.9 388.4,926.3 388.7,925.5 389.0,927.7 389.3,922.7 389.6,927.1 389.9,924.8 390.2,926.1 390.5,927.4 390.8,923.1 391.2,922.8 391.5,924.3 391.8,922.5 392.1,922.0 392.4,925.1 392.7,926.7 393.0,924.3 393.3,925.7 393.6,930.4 394.0,925.5 394.3,924.6 394.6,924.8 394.9,925.6 395.2,924.6 395.5,926.0 395.8,925.3 396.1,926.4 396.4,925.3 396.8,924.9 397.1,923.7 397.4,923.0 397.7,924.6 398.0,924.5 398.3,925.4 398.6,924.9 398.9,924.5 399.2,928.3 399.6,925.5 399.9,926.8 400.2,923.5 400.5,926.5 400.8,926.7 401.1,925.6 401.4,923.7 401.7,926.8 402.0,923.9 402.4,922.7 402.7,922.6 403.0,925.0 403.3,924.2 403.6,926.0 403.9,925.8 404.2,926.8 404.5,925.3 404.8,925.0 405.2,924.8 405.5,923.6 405.8,923.5 406.1,923.6 406.4,924.9 406.7,923.3 407.0,924.4 407.3,926.0 407.6,920.9 408.0,923.0 408.3,922.8 408.6,924.0 408.9,921.8 409.2,922.8 409.5,926.9 409.8,921.5 410.1,923.1 410.4,923.3 410.8,922.4 411.1,920.8 411.4,923.7 411.7,919.3 412.0,920.4 412.3,921.3 412.6,920.6 412.9,923.1 413.2,921.0 413.6,924.3 413.9,921.8 414.2,924.2 414.5,922.8 414.8,922.0 415.1,922.2 415.4,924.2 415.7,922.1 416.0,923.0 416.4,922.0 416.7,920.3 417.0,924.0 417.3,924.1 417.6,921.6 417.9,923.9 418.2,922.9 418.5,920.5 418.8,921.8 419.2,923.9 419.5,924.3 419.8,923.3 420.1,926.5 420.4,922.9 420.7,921.1 421.0,919.8 421.3,923.6 421.6,920.4 422.0,920.1 422.3,918.9 422.6,918.2 422.9,918.0 423.2,918.1 423.5,917.1 423.8,915.5 424.1,914.8 424.5,911.2 424.8,908.9 425.1,909.0 425.4,905.4 425.7,909.3 426.0,909.4 426.3,910.6 426.6,909.8 426.9,912.3 427.3,914.6 427.6,914.6 427.9,915.7 428.2,918.0 428.5,919.4 428.8,919.0 429.1,922.0 429.4,924.2 429.7,922.4 430.1,921.7 430.4,921.9 430.7,924.8 431.0,923.3 431.3,923.9 431.6,923.6 431.9,922.7 432.2,925.6 432.5,923.4 432.9,924.0 433.2,921.0 433.5,926.9 433.8,925.1 434.1,924.0 434.4,923.1 434.7,923.4 435.0,922.0 435.3,925.0 435.7,923.2 436.0,925.0 436.3,925.1 436.6,927.1 436.9,924.8 437.2,924.9 437.5,925.2 437.8,923.8 438.1,924.3 438.5,925.1 438.8,926.2 439.1,925.7 439.4,924.3 439.7,926.3 440.0,924.2 440.3,922.7 440.6,926.8 440.9,924.8 441.3,924.1 441.6,923.1 441.9,924.2 442.2,927.0 442.5,924.7 442.8,927.7 443.1,924.8 443.4,926.2 443.7,924.8 444.1,924.1 444.4,924.1 444.7,924.3 445.0,923.1 445.3,923.0 445.6,925.1 445.9,926.3 446.2,924.8 446.5,924.6 446.9,923.3 447.2,926.0 447.5,925.8 447.8,922.9 448.1,924.4 448.4,923.8 448.7,922.2 449.0,926.3 449.3,925.6 449.7,924.4 450.0,925.8 450.3,923.1 450.6,924.0 450.9,925.3 451.2,922.9 451.5,923.5 451.8,921.6 452.1,923.5 452.5,923.9 452.8,920.8 453.1,920.7 453.4,921.3 453.7,922.9 454.0,920.1 454.3,919.4 454.6,920.3 454.9,921.9 455.3,918.4 455.6,920.2 455.9,922.2 456.2,920.4 456.5,920.0 456.8,921.3 457.1,918.4 457.4,922.4 457.7,919.9 458.1,918.3 458.4,918.3 458.7,917.4 459.0,916.1 459.3,913.8 459.6,913.8 459.9,910.4 460.2,912.6 460.5,907.5 460.9,906.0 461.2,904.1 461.5,904.5 461.8,902.4 462.1,904.4 462.4,902.6 462.7,904.8 463.0,906.3 463.4,907.9 463.7,911.8 464.0,913.7 464.3,915.4 464.6,913.4 464.9,916.8 465.2,915.9 465.5,916.8 465.8,916.7 466.2,918.4 466.5,920.9 466.8,922.3 467.1,923.1 467.4,920.1 467.7,920.7 468.0,922.1 468.3,922.2 468.6,922.4 469.0,920.1 469.3,922.2 469.6,923.2 469.9,922.9 470.2,922.5 470.5,921.8 470.8,922.6 471.1,924.8 471.4,923.4 471.8,924.1 472.1,924.8 472.4,921.3 472.7,923.5 473.0,923.1 473.3,924.1 473.6,922.1 473.9,922.0 474.2,921.3 474.6,922.1 474.9,921.3 475.2,921.3 475.5,921.6 475.8,920.4 476.1,919.3 476.4,919.5 476.7,918.9 477.0,919.5 477.4,919.8 477.7,917.0 478.0,913.4 478.3,916.0 478.6,914.0 478.9,911.4 479.2,910.7 479.5,911.8 479.8,906.2 480.2,905.5 480.5,906.2 480.8,902.4 481.1,906.2 481.4,909.0 481.7,909.7 482.0,910.9 482.3,911.3 482.6,912.7 483.0,917.3 483.3,915.0 483.6,917.1 483.9,914.3 484.2,916.5 484.5,916.7 484.8,916.5 485.1,913.5 485.4,915.3 485.8,917.1 486.1,915.4 486.4,912.9 486.7,914.0 487.0,909.6 487.3,911.6 487.6,910.3 487.9,908.5 488.2,907.6 488.6,906.9 488.9,909.1 489.2,912.2 489.5,912.0 489.8,912.3 490.1,913.6 490.4,912.4 490.7,914.1 491.0,910.1 491.4,913.0 491.7,912.8 492.0,912.9 492.3,912.3 492.6,912.8 492.9,910.9 493.2,912.6 493.5,911.3 493.8,913.1 494.2,912.9 494.5,914.7 494.8,915.3 495.1,915.1 495.4,917.0 495.7,916.1 496.0,918.5 496.3,919.6 496.6,919.4 497.0,920.1 497.3,921.9 497.6,922.6 497.9,923.1 498.2,921.1 498.5,921.5 498.8,923.1 499.1,923.5 499.4,920.4 499.8,925.0 500.1,924.2 500.4,921.5 500.7,924.4 501.0,922.6 501.3,923.1 501.6,922.1 501.9,922.4 502.3,922.9 502.6,923.5 502.9,922.1 503.2,923.4 503.5,922.7 503.8,922.9 504.1,922.5 504.4,922.8 504.7,925.4 505.1,921.6 505.4,922.0 505.7,923.4 506.0,922.9 506.3,922.2 506.6,923.9 506.9,922.0 507.2,923.3 507.5,924.3 507.9,923.8 508.2,922.7 508.5,923.0 508.8,923.1 509.1,923.5 509.4,921.5 509.7,924.0 510.0,923.2 510.3,924.3 510.7,922.9 511.0,922.9 511.3,918.0 511.6,920.6 511.9,922.9 512.2,920.8 512.5,919.3 512.8,920.1 513.1,918.8 513.5,918.5 513.8,916.3 514.1,916.8 514.4,916.8 514.7,914.0 515.0,912.7 515.3,909.7 515.6,909.1 515.9,906.1 516.3,902.9 516.6,902.1 516.9,900.8 517.2,900.8 517.5,901.1 517.8,900.4 518.1,901.5 518.4,904.5 518.7,904.7 519.1,907.4 519.4,909.5 519.7,911.3 520.0,912.4 520.3,916.3 520.6,916.7 520.9,916.5 521.2,915.9 521.5,917.7 521.9,919.6 522.2,917.3 522.5,922.8 522.8,920.3 523.1,920.6 523.4,921.7 523.7,919.6 524.0,921.6 524.3,921.7 524.7,922.6 525.0,920.8 525.3,922.8 525.6,923.5 525.9,922.5 526.2,921.6 526.5,921.3 526.8,920.2 527.1,921.5 527.5,922.7 527.8,923.7 528.1,923.0 528.4,923.1 528.7,921.0 529.0,920.8 529.3,919.3 529.6,919.9 529.9,919.0 530.3,919.5 530.6,920.1 530.9,918.8 531.2,918.1 531.5,919.0 531.8,919.8 532.1,919.3 532.4,916.4 532.7,920.5 533.1,918.5 533.4,917.8 533.7,919.4 534.0,921.3 534.3,917.6 534.6,922.3 534.9,921.3 535.2,921.8 535.5,919.8 535.9,920.8 536.2,920.2 536.5,922.7 536.8,920.5 537.1,921.7 537.4,920.4 537.7,919.2 538.0,921.7 538.3,921.8 538.7,921.8 539.0,919.1 539.3,919.3 539.6,919.5 539.9,918.4 540.2,917.5 540.5,918.9 540.8,914.8 541.2,915.1 541.5,912.2 541.8,912.8 542.1,909.5 542.4,907.3 542.7,907.9 543.0,906.3 543.3,905.4 543.6,905.7 544.0,906.0 544.3,908.4 544.6,909.6 544.9,912.6 545.2,911.6 545.5,915.3 545.8,915.7 546.1,914.7 546.4,918.9 546.8,916.2 547.1,919.5 547.4,917.6 547.7,920.5 548.0,920.3 548.3,920.8 548.6,919.4 548.9,921.0 549.2,923.4 549.6,923.0 549.9,922.5 550.2,922.7 550.5,922.3 550.8,924.7 551.1,923.3 551.4,924.6 551.7,922.0 552.0,922.0 552.4,925.2 552.7,923.0 553.0,923.8 553.3,924.6 553.6,925.1 553.9,924.9 554.2,924.8 554.5,926.0 554.8,924.6 555.2,925.4 555.5,924.5 555.8,924.7 556.1,926.5 556.4,924.3 556.7,921.9 557.0,924.7 557.3,924.8 557.6,926.6 558.0,924.3 558.3,923.5 558.6,924.8 558.9,926.7 559.2,924.4 559.5,926.1 559.8,925.3 560.1,925.5 560.4,923.9 560.8,924.9 561.1,923.9 561.4,924.8 561.7,924.1 562.0,926.0 562.3,924.2 562.6,924.6 562.9,922.5 563.2,923.8 563.6,927.3 563.9,924.4 564.2,923.1 564.5,924.7 564.8,924.5 565.1,924.2 565.4,924.4 565.7,924.2 566.0,925.7 566.4,923.5 566.7,924.9 567.0,925.6 567.3,923.8 567.6,927.0 567.9,924.7 568.2,924.5 568.5,924.0 568.8,925.4 569.2,922.9 569.5,925.1 569.8,926.7 570.1,924.8 570.4,925.3 570.7,923.4 571.0,925.1 571.3,923.5 571.6,923.7 572.0,924.1 572.3,926.0 572.6,923.3 572.9,921.9 573.2,923.9 573.5,924.4 573.8,924.1 574.1,923.6 574.4,924.5 574.8,923.9 575.1,923.6 575.4,922.1 575.7,920.8 576.0,923.6 576.3,920.9 576.6,922.7 576.9,922.4 577.2,919.7 577.6,920.0 577.9,920.9 578.2,921.4 578.5,919.4 578.8,920.1 579.1,919.5 579.4,919.5 579.7,921.0 580.1,920.7 580.4,919.4 580.7,922.1 581.0,921.6 581.3,921.9 581.6,921.2 581.9,923.5 582.2,923.3 582.5,923.5 582.9,923.3 583.2,923.8 583.5,925.2 583.8,923.9 584.1,924.1 584.4,923.5 584.7,924.7 585.0,923.9 585.3,923.5 585.7,925.4 586.0,924.2 586.3,923.5 586.6,923.7 586.9,924.0 587.2,923.5 587.5,926.0 587.8,925.2 588.1,923.3 588.5,925.8 588.8,924.3 589.1,924.9 589.4,924.3 589.7,925.1 590.0,925.1 590.3,925.5 590.6,925.5 590.9,922.2 591.3,924.2 591.6,924.7 591.9,924.5 592.2,923.3 592.5,924.3 592.8,924.4 593.1,922.6 593.4,923.8 593.7,925.3 594.1,923.8 594.4,924.3 594.7,924.5 595.0,924.9 595.3,925.1 595.6,925.4 595.9,924.5 596.2,924.5 596.5,924.1 596.9,924.4 597.2,924.0 597.5,924.8 597.8,924.7 598.1,922.6 598.4,921.7 598.7,924.1 599.0,923.1 599.3,922.0 599.7,924.2 600.0,924.5 600.3,921.8 600.6,921.8 600.9,921.8 601.2,921.4 601.5,921.8 601.8,920.6 602.1,921.3 602.5,920.6 602.8,921.7 603.1,920.3 603.4,921.0 603.7,921.4 604.0,920.3 604.3,920.4 604.6,919.4 604.9,920.0 605.3,922.3 605.6,921.7 605.9,920.8 606.2,920.7 606.5,921.2 606.8,922.6 607.1,920.0 607.4,922.4 607.7,921.2 608.1,924.0 608.4,921.6 608.7,923.9 609.0,923.0 609.3,923.4 609.6,925.1 609.9,923.7 610.2,924.4 610.5,924.2 610.9,922.9 611.2,924.0 611.5,925.0 611.8,924.5 612.1,924.4 612.4,923.6 612.7,925.7 613.0,923.9 613.3,926.0 613.7,924.6 614.0,925.1 614.3,923.2 614.6,924.6 614.9,923.6 615.2,924.6 615.5,925.6 615.8,924.9 616.1,924.8 616.5,925.4 616.8,923.5 617.1,924.6 617.4,924.0 617.7,925.5 618.0,923.8 618.3,925.9 618.6,926.3 619.0,922.5 619.3,924.2 619.6,922.9 619.9,925.4 620.2,923.4 620.5,924.7 620.8,924.4 621.1,923.2 621.4,922.6 621.8,924.8 622.1,923.2 622.4,923.8 622.7,924.7 623.0,923.3 623.3,922.8 623.6,922.0 623.9,923.1 624.2,921.7 624.6,920.7 624.9,921.4 625.2,921.1 625.5,919.9 625.8,920.8 626.1,921.5 626.4,921.0 626.7,922.1 627.0,921.2 627.4,920.4 627.7,918.4 628.0,920.5 628.3,921.6 628.6,920.5 628.9,922.3 629.2,920.5 629.5,921.8 629.8,922.6 630.2,923.7 630.5,922.4 630.8,924.4 631.1,922.6 631.4,921.6 631.7,923.2 632.0,924.7 632.3,923.4 632.6,925.3 633.0,923.8 633.3,925.7 633.6,922.2 633.9,926.2 634.2,922.5 634.5,924.4 634.8,923.4 635.1,924.8 635.4,924.4 635.8,924.4 636.1,925.2 636.4,925.6 636.7,924.5 637.0,925.9 637.3,923.3 637.6,923.9 637.9,923.7 638.2,925.3 638.6,925.7 638.9,924.6 639.2,924.4 639.5,924.0 639.8,925.6 640.1,926.0 640.4,924.6 640.7,924.9 641.0,924.7 641.4,925.1 641.7,925.5 642.0,923.2 642.3,924.7 642.6,925.8 642.9,924.4 643.2,926.3 643.5,926.4 643.8,924.4 644.2,924.5 644.5,926.3 644.8,923.8 645.1,924.3 645.4,923.8 645.7,925.2 646.0,925.5 646.3,925.6 646.6,925.5 647.0,924.0 647.3,926.2 647.6,925.2 647.9,924.9 648.2,926.7 648.5,925.3 648.8,925.5 649.1,925.9 649.4,926.9 649.8,925.2 650.1,925.8 650.4,923.2 650.7,924.3 651.0,926.9 651.3,926.8 651.6,925.0 651.9,924.4 652.2,924.0 652.6,924.1 652.9,924.6 653.2,923.6 653.5,925.0 653.8,924.9 654.1,924.0 654.4,923.9 654.7,924.0 655.0,924.5 655.4,924.7 655.7,925.3 656.0,923.4 656.3,924.5 656.6,924.7 656.9,924.9 657.2,925.3 657.5,924.2 657.9,925.5 658.2,926.2 658.5,924.6 658.8,925.4 659.1,924.9 659.4,924.3 659.7,923.6 660.0,923.9 660.3,925.2 660.7,923.4 661.0,922.6 661.3,922.6 661.6,923.6 661.9,922.3 662.2,923.5 662.5,923.3 662.8,923.0 663.1,924.2 663.5,921.9 663.8,922.6 664.1,923.1 664.4,923.7 664.7,922.5 665.0,923.2 665.3,924.9 665.6,923.7 665.9,924.8 666.3,924.0 666.6,923.7 666.9,924.8 667.2,925.6 667.5,924.6 667.8,923.6 668.1,924.1 668.4,924.4 668.7,924.6 669.1,924.1 669.4,925.5 669.7,924.1 670.0,925.8 670.3,924.2 670.6,924.3 670.9,926.0 671.2,925.7 671.5,924.9 671.9,924.7 672.2,925.0 672.5,925.2 672.8,925.4 673.1,926.0 673.4,924.6 673.7,925.3 674.0,925.3 674.3,924.2 674.7,926.2 675.0,926.6 675.3,925.3 675.6,924.0 675.9,924.7"/>
<polyline fill="none" stroke="#1a6ad8" stroke-width="3.8" stroke-linejoin="round" points="53.5,963.7 53.8,954.2 54.1,962.0 54.4,960.3 54.7,962.7 55.1,960.9 55.4,963.7 55.7,960.2 56.0,959.2 56.3,961.3 56.6,961.0 56.9,959.5 57.2,959.7 57.5,961.6 57.9,961.5 58.2,959.2 58.5,959.4 58.8,956.6 59.1,963.4 59.4,959.7 59.7,962.7 60.0,961.0 60.3,963.9 60.7,963.1 61.0,960.8 61.3,963.0 61.6,958.3 61.9,962.6 62.2,957.3 62.5,960.8 62.8,962.2 63.1,960.6 63.5,959.4 63.8,958.6 64.1,959.5 64.4,962.2 64.7,961.9 65.0,959.6 65.3,957.7 65.6,961.4 65.9,957.3 66.3,959.1 66.6,958.7 66.9,961.6 67.2,960.6 67.5,961.0 67.8,960.7 68.1,958.8 68.4,961.2 68.7,962.8 69.1,960.1 69.4,961.3 69.7,959.9 70.0,962.1 70.3,961.4 70.6,961.8 70.9,960.8 71.2,963.3 71.5,959.4 71.9,959.5 72.2,959.0 72.5,961.3 72.8,958.9 73.1,958.9 73.4,961.5 73.7,962.3 74.0,961.2 74.4,955.0 74.7,958.3 75.0,958.1 75.3,957.8 75.6,959.3 75.9,963.6 76.2,959.5 76.5,958.7 76.8,961.4 77.2,960.2 77.5,960.3 77.8,958.8 78.1,960.1 78.4,960.9 78.7,956.5 79.0,957.0 79.3,962.2 79.6,961.7 80.0,959.1 80.3,958.2 80.6,959.7 80.9,957.8 81.2,959.5 81.5,963.2 81.8,960.3 82.1,962.3 82.4,959.7 82.8,960.8 83.1,962.7 83.4,957.6 83.7,959.4 84.0,959.8 84.3,960.6 84.6,963.0 84.9,961.4 85.2,957.3 85.6,959.6 85.9,958.4 86.2,958.3 86.5,963.9 86.8,958.1 87.1,960.5 87.4,958.7 87.7,961.7 88.0,960.7 88.4,960.3 88.7,959.9 89.0,962.2 89.3,958.3 89.6,958.7 89.9,958.0 90.2,962.6 90.5,959.5 90.8,958.1 91.2,959.3 91.5,964.7 91.8,959.8 92.1,961.6 92.4,960.9 92.7,960.0 93.0,958.7 93.3,959.4 93.6,959.4 94.0,955.9 94.3,964.9 94.6,961.8 94.9,960.2 95.2,959.6 95.5,958.6 95.8,961.8 96.1,959.7 96.4,960.9 96.8,957.4 97.1,960.7 97.4,963.7 97.7,959.5 98.0,961.5 98.3,960.1 98.6,962.1 98.9,962.0 99.2,960.1 99.6,959.0 99.9,960.5 100.2,960.1 100.5,958.8 100.8,960.8 101.1,960.8 101.4,958.3 101.7,959.8 102.0,965.4 102.4,961.5 102.7,960.2 103.0,964.6 103.3,959.1 103.6,955.4 103.9,956.4 104.2,957.1 104.5,960.4 104.8,961.8 105.2,955.9 105.5,962.0 105.8,957.7 106.1,960.4 106.4,960.8 106.7,960.7 107.0,959.9 107.3,960.2 107.6,957.8 108.0,960.4 108.3,961.7 108.6,961.6 108.9,964.7 109.2,961.9 109.5,961.2 109.8,963.0 110.1,960.3 110.4,957.5 110.8,955.8 111.1,962.2 111.4,960.9 111.7,961.4 112.0,959.3 112.3,960.5 112.6,963.3 112.9,960.5 113.3,957.8 113.6,959.1 113.9,962.4 114.2,957.9 114.5,955.1 114.8,955.6 115.1,957.4 115.4,961.3 115.7,960.0 116.1,958.4 116.4,957.5 116.7,959.6 117.0,959.5 117.3,958.8 117.6,959.3 117.9,958.4 118.2,963.1 118.5,955.5 118.9,960.0 119.2,957.9 119.5,961.0 119.8,959.3 120.1,960.4 120.4,960.7 120.7,960.1 121.0,961.5 121.3,957.2 121.7,961.4 122.0,959.3 122.3,960.4 122.6,962.5 122.9,961.7 123.2,963.3 123.5,955.6 123.8,958.0 124.1,961.4 124.5,957.6 124.8,959.3 125.1,962.7 125.4,961.2 125.7,957.9 126.0,960.5 126.3,960.8 126.6,959.7 126.9,959.4 127.3,959.9 127.6,956.9 127.9,959.8 128.2,957.8 128.5,960.3 128.8,960.3 129.1,958.0 129.4,960.7 129.7,960.2 130.1,959.5 130.4,960.8 130.7,959.0 131.0,959.0 131.3,959.6 131.6,959.4 131.9,961.5 132.2,955.2 132.5,958.9 132.9,955.9 133.2,958.5 133.5,959.9 133.8,959.4 134.1,961.1 134.4,959.9 134.7,954.4 135.0,957.3 135.3,962.1 135.7,962.1 136.0,959.5 136.3,956.5 136.6,963.1 136.9,955.5 137.2,959.8 137.5,959.1 137.8,959.6 138.1,957.1 138.5,958.4 138.8,961.1 139.1,958.3 139.4,956.7 139.7,959.1 140.0,959.2 140.3,958.8 140.6,957.7 140.9,960.0 141.3,958.8 141.6,956.9 141.9,959.4 142.2,958.9 142.5,959.2 142.8,956.0 143.1,957.6 143.4,959.8 143.7,960.6 144.1,959.6 144.4,959.2 144.7,960.2 145.0,960.7 145.3,962.0 145.6,959.8 145.9,957.9 146.2,959.8 146.5,955.5 146.9,959.0 147.2,958.1 147.5,958.9 147.8,959.8 148.1,959.0 148.4,956.3 148.7,958.2 149.0,957.4 149.3,958.8 149.7,959.5 150.0,957.1 150.3,960.1 150.6,961.1 150.9,958.3 151.2,960.1 151.5,956.2 151.8,957.8 152.2,960.4 152.5,955.6 152.8,957.8 153.1,957.1 153.4,960.7 153.7,960.7 154.0,957.6 154.3,958.9 154.6,954.1 155.0,960.1 155.3,959.2 155.6,960.9 155.9,954.4 156.2,959.2 156.5,958.0 156.8,954.0 157.1,957.4 157.4,958.4 157.8,959.9 158.1,958.9 158.4,957.6 158.7,959.3 159.0,958.3 159.3,957.4 159.6,956.7 159.9,958.7 160.2,958.8 160.6,961.7 160.9,957.7 161.2,961.2 161.5,959.1 161.8,960.5 162.1,956.9 162.4,956.9 162.7,957.9 163.0,960.0 163.4,958.7 163.7,959.7 164.0,959.0 164.3,960.2 164.6,958.8 164.9,957.5 165.2,959.3 165.5,958.6 165.8,961.4 166.2,958.2 166.5,958.6 166.8,957.9 167.1,960.4 167.4,959.9 167.7,959.6 168.0,956.3 168.3,955.8 168.6,958.9 169.0,959.7 169.3,961.0 169.6,955.4 169.9,958.2 170.2,955.6 170.5,956.8 170.8,958.1 171.1,960.1 171.4,957.6 171.8,957.3 172.1,958.0 172.4,960.7 172.7,962.6 173.0,955.9 173.3,958.1 173.6,957.8 173.9,960.5 174.2,959.3 174.6,961.2 174.9,956.9 175.2,958.6 175.5,957.8 175.8,956.7 176.1,958.3 176.4,956.6 176.7,962.3 177.0,959.4 177.4,956.9 177.7,957.6 178.0,961.6 178.3,957.9 178.6,959.9 178.9,959.7 179.2,960.6 179.5,959.8 179.8,958.4 180.2,957.8 180.5,955.8 180.8,958.7 181.1,959.0 181.4,958.2 181.7,958.6 182.0,956.8 182.3,962.5 182.6,958.0 183.0,957.1 183.3,957.9 183.6,958.6 183.9,960.2 184.2,954.8 184.5,959.8 184.8,957.9 185.1,958.7 185.4,960.7 185.8,960.3 186.1,957.9 186.4,958.9 186.7,962.2 187.0,961.4 187.3,960.5 187.6,959.1 187.9,960.7 188.2,959.8 188.6,958.2 188.9,957.5 189.2,960.0 189.5,959.8 189.8,961.2 190.1,958.4 190.4,961.6 190.7,958.6 191.1,961.3 191.4,960.2 191.7,958.3 192.0,957.7 192.3,959.1 192.6,958.9 192.9,960.9 193.2,958.2 193.5,956.9 193.9,959.3 194.2,962.6 194.5,962.1 194.8,958.3 195.1,958.9 195.4,959.9 195.7,958.3 196.0,959.0 196.3,959.0 196.7,957.7 197.0,958.4 197.3,958.7 197.6,959.9 197.9,957.5 198.2,959.7 198.5,957.9 198.8,958.2 199.1,957.7 199.5,966.2 199.8,961.6 200.1,961.8 200.4,960.9 200.7,959.2 201.0,959.7 201.3,960.1 201.6,960.3 201.9,960.6 202.3,962.1 202.6,954.7 202.9,958.7 203.2,960.8 203.5,959.1 203.8,959.4 204.1,962.1 204.4,960.0 204.7,962.6 205.1,959.6 205.4,960.1 205.7,958.0 206.0,956.4 206.3,959.0 206.6,959.8 206.9,959.2 207.2,957.5 207.5,960.8 207.9,959.9 208.2,959.8 208.5,958.5 208.8,962.5 209.1,962.2 209.4,960.3 209.7,959.6 210.0,960.2 210.3,962.6 210.7,964.4 211.0,959.8 211.3,959.1 211.6,956.9 211.9,964.4 212.2,958.0 212.5,961.3 212.8,960.7 213.1,962.0 213.5,958.5 213.8,957.2 214.1,960.1 214.4,960.6 214.7,961.8 215.0,957.2 215.3,959.2 215.6,959.5 215.9,957.7 216.3,959.7 216.6,961.2 216.9,959.9 217.2,957.6 217.5,960.5 217.8,961.3 218.1,960.8 218.4,961.2 218.7,957.3 219.1,960.7 219.4,960.9 219.7,959.4 220.0,959.9 220.3,958.7 220.6,962.0 220.9,959.5 221.2,958.5 221.5,960.3 221.9,960.2 222.2,961.1 222.5,958.7 222.8,958.9 223.1,960.7 223.4,963.6 223.7,960.8 224.0,957.9 224.3,960.3 224.7,958.8 225.0,957.1 225.3,959.0 225.6,959.1 225.9,960.7 226.2,962.2 226.5,961.9 226.8,961.4 227.1,959.4 227.5,960.3 227.8,960.0 228.1,962.4 228.4,959.1 228.7,959.2 229.0,962.5 229.3,961.0 229.6,959.4 230.0,960.4 230.3,960.4 230.6,960.4 230.9,961.4 231.2,960.7 231.5,959.8 231.8,959.3 232.1,957.4 232.4,959.5 232.8,962.0 233.1,960.5 233.4,959.1 233.7,959.8 234.0,958.8 234.3,960.6 234.6,963.4 234.9,963.0 235.2,962.1 235.6,961.4 235.9,959.8 236.2,958.2 236.5,960.2 236.8,959.5 237.1,961.5 237.4,960.5 237.7,959.3 238.0,960.9 238.4,964.8 238.7,958.8 239.0,962.0 239.3,961.2 239.6,960.1 239.9,959.0 240.2,960.3 240.5,960.6 240.8,961.5 241.2,961.4 241.5,960.7 241.8,959.2 242.1,960.7 242.4,959.5 242.7,958.6 243.0,961.7 243.3,959.2 243.6,958.4 244.0,960.4 244.3,957.2 244.6,960.2 244.9,961.0 245.2,959.6 245.5,960.6 245.8,963.6 246.1,962.5 246.4,961.7 246.8,961.2 247.1,959.5 247.4,960.1 247.7,959.8 248.0,960.3 248.3,960.5 248.6,959.0 248.9,962.8 249.2,958.7 249.6,960.8 249.9,961.9 250.2,960.2 250.5,959.2 250.8,960.3 251.1,963.3 251.4,961.3 251.7,959.8 252.0,961.2 252.4,960.0 252.7,957.4 253.0,960.7 253.3,961.9 253.6,962.1 253.9,960.2 254.2,958.1 254.5,962.2 254.8,960.1 255.2,961.4 255.5,962.1 255.8,960.8 256.1,960.2 256.4,959.3 256.7,959.6 257.0,960.4 257.3,959.6 257.6,960.9 258.0,957.3 258.3,958.8 258.6,960.3 258.9,959.2 259.2,959.5 259.5,958.6 259.8,961.3 260.1,962.8 260.4,958.8 260.8,962.1 261.1,958.1 261.4,960.5 261.7,957.2 262.0,961.1 262.3,960.4 262.6,960.5 262.9,962.2 263.2,961.2 263.6,960.3 263.9,959.1 264.2,960.4 264.5,959.3 264.8,959.7 265.1,962.6 265.4,961.7 265.7,960.8 266.0,961.3 266.4,958.1 266.7,960.5 267.0,957.7 267.3,959.3 267.6,960.9 267.9,960.9 268.2,961.4 268.5,960.5 268.9,960.4 269.2,960.3 269.5,962.4 269.8,962.3 270.1,958.1 270.4,960.5 270.7,962.3 271.0,959.9 271.3,960.6 271.7,959.4 272.0,958.5 272.3,960.5 272.6,959.7 272.9,960.0 273.2,958.1 273.5,958.5 273.8,960.1 274.1,959.6 274.5,961.1 274.8,958.6 275.1,961.3 275.4,961.1 275.7,960.4 276.0,961.2 276.3,960.1 276.6,959.9 276.9,960.1 277.3,958.3 277.6,960.1 277.9,961.4 278.2,957.8 278.5,961.2 278.8,959.2 279.1,959.6 279.4,960.3 279.7,960.5 280.1,962.2 280.4,960.0 280.7,962.7 281.0,960.2 281.3,960.9 281.6,961.2 281.9,959.2 282.2,958.5 282.5,960.4 282.9,961.2 283.2,961.5 283.5,959.7 283.8,962.8 284.1,960.1 284.4,959.3 284.7,962.0 285.0,962.1 285.3,958.9 285.7,961.6 286.0,958.5 286.3,960.4 286.6,963.7 286.9,962.3 287.2,961.4 287.5,961.4 287.8,959.2 288.1,960.9 288.5,961.1 288.8,958.9 289.1,960.8 289.4,961.3 289.7,960.8 290.0,961.1 290.3,960.2 290.6,958.8 290.9,960.5 291.3,957.7 291.6,959.5 291.9,962.1 292.2,963.1 292.5,961.1 292.8,957.0 293.1,962.5 293.4,961.3 293.7,960.2 294.1,961.6 294.4,961.3 294.7,958.8 295.0,958.6 295.3,962.1 295.6,957.2 295.9,961.4 296.2,961.0 296.5,962.0 296.9,963.1 297.2,962.5 297.5,962.8 297.8,961.8 298.1,961.3 298.4,962.1 298.7,960.6 299.0,959.3 299.3,960.5 299.7,958.3 300.0,959.8 300.3,963.6 300.6,961.3 300.9,960.3 301.2,959.7 301.5,958.0 301.8,959.8 302.1,959.5 302.5,960.6 302.8,960.7 303.1,960.5 303.4,957.8 303.7,962.7 304.0,961.2 304.3,960.6 304.6,960.1 304.9,961.2 305.3,962.4 305.6,961.4 305.9,958.9 306.2,958.7 306.5,957.1 306.8,960.7 307.1,961.6 307.4,962.3 307.8,960.7 308.1,961.7 308.4,959.2 308.7,961.3 309.0,960.3 309.3,959.6 309.6,958.1 309.9,962.2 310.2,957.3 310.6,961.4 310.9,959.4 311.2,961.4 311.5,959.7 311.8,961.6 312.1,960.2 312.4,959.0 312.7,959.8 313.0,958.2 313.4,960.9 313.7,962.0 314.0,961.1 314.3,960.7 314.6,962.3 314.9,958.8 315.2,961.3 315.5,960.5 315.8,959.8 316.2,961.3 316.5,958.9 316.8,960.3 317.1,961.0 317.4,958.9 317.7,960.2 318.0,961.3 318.3,961.9 318.6,959.2 319.0,961.8 319.3,960.1 319.6,960.6 319.9,959.7 320.2,961.6 320.5,959.5 320.8,960.9 321.1,961.1 321.4,961.6 321.8,959.1 322.1,961.6 322.4,960.6 322.7,962.6 323.0,960.0 323.3,959.7 323.6,960.4 323.9,960.1 324.2,960.3 324.6,958.7 324.9,957.6 325.2,958.5 325.5,959.7 325.8,961.1 326.1,960.1 326.4,959.2 326.7,960.3 327.0,960.6 327.4,964.4 327.7,962.3 328.0,960.8 328.3,958.5 328.6,960.3 328.9,960.1 329.2,961.3 329.5,963.5 329.8,960.4 330.2,957.8 330.5,960.4 330.8,958.2 331.1,961.7 331.4,962.1 331.7,961.0 332.0,958.5 332.3,960.3 332.6,962.2 333.0,959.1 333.3,959.7 333.6,960.9 333.9,961.2 334.2,960.7 334.5,961.0 334.8,960.8 335.1,959.7 335.4,960.4 335.8,960.9 336.1,959.0 336.4,960.8 336.7,960.7 337.0,961.2 337.3,961.0 337.6,959.1 337.9,958.8 338.2,960.9 338.6,960.3 338.9,960.7 339.2,959.8 339.5,958.8 339.8,960.9 340.1,960.4 340.4,961.4 340.7,962.1 341.0,962.1 341.4,961.9 341.7,959.2 342.0,957.7 342.3,959.7 342.6,958.9 342.9,958.8 343.2,961.5 343.5,958.4 343.8,961.8 344.2,962.1 344.5,964.2 344.8,962.0 345.1,963.4 345.4,959.7 345.7,959.6 346.0,961.9 346.3,958.8 346.7,962.1 347.0,960.2 347.3,957.9 347.6,963.1 347.9,959.0 348.2,964.0 348.5,958.6 348.8,959.4 349.1,960.9 349.5,960.6 349.8,958.4 350.1,960.7 350.4,960.8 350.7,961.2 351.0,958.4 351.3,959.8 351.6,960.4 351.9,961.7 352.3,960.8 352.6,960.1 352.9,960.0 353.2,962.5 353.5,959.5 353.8,961.0 354.1,957.7 354.4,962.9 354.7,961.2 355.1,958.2 355.4,961.4 355.7,962.4 356.0,961.7 356.3,960.7 356.6,961.7 356.9,959.6 357.2,960.2 357.5,960.1 357.9,960.7 358.2,959.2 358.5,962.4 358.8,960.4 359.1,959.1 359.4,960.3 359.7,961.1 360.0,960.6 360.3,962.1 360.7,960.1 361.0,959.6 361.3,961.3 361.6,962.3 361.9,959.3 362.2,958.5 362.5,959.7 362.8,960.5 363.1,959.2 363.5,960.8 363.8,959.4 364.1,961.8 364.4,959.0 364.7,959.4 365.0,960.7 365.3,961.5 365.6,961.8 365.9,959.7 366.3,960.6 366.6,961.3 366.9,962.5 367.2,959.4 367.5,958.9 367.8,961.2 368.1,960.3 368.4,962.4 368.7,960.6 369.1,961.0 369.4,959.6 369.7,961.0 370.0,962.2 370.3,960.3 370.6,959.0 370.9,961.7 371.2,960.2 371.5,960.7 371.9,959.7 372.2,961.8 372.5,959.6 372.8,960.0 373.1,960.6 373.4,960.3 373.7,957.7 374.0,961.2 374.3,959.1 374.7,960.9 375.0,960.1 375.3,960.4 375.6,959.6 375.9,959.2 376.2,960.8 376.5,960.9 376.8,961.9 377.1,961.3 377.5,959.7 377.8,962.1 378.1,963.5 378.4,961.5 378.7,960.3 379.0,959.3 379.3,960.7 379.6,958.7 379.9,961.6 380.3,960.1 380.6,959.8 380.9,960.9 381.2,959.0 381.5,958.3 381.8,960.0 382.1,962.2 382.4,959.5 382.7,961.7 383.1,958.2 383.4,960.5 383.7,961.2 384.0,962.9 384.3,958.3 384.6,960.5 384.9,959.4 385.2,961.0 385.6,959.9 385.9,960.7 386.2,959.6 386.5,959.9 386.8,961.1 387.1,962.5 387.4,960.9 387.7,960.8 388.0,960.0 388.4,962.6 388.7,958.1 389.0,958.1 389.3,959.6 389.6,961.2 389.9,961.8 390.2,961.3 390.5,961.6 390.8,960.8 391.2,960.0 391.5,959.3 391.8,961.2 392.1,959.4 392.4,961.1 392.7,961.5 393.0,959.8 393.3,960.0 393.6,959.9 394.0,961.5 394.3,960.8 394.6,959.8 394.9,960.9 395.2,962.5 395.5,961.0 395.8,960.8 396.1,960.1 396.4,959.4 396.8,960.6 397.1,960.7 397.4,960.2 397.7,962.1 398.0,960.3 398.3,960.4 398.6,960.9 398.9,961.3 399.2,958.4 399.6,960.9 399.9,962.2 400.2,959.2 400.5,961.1 400.8,960.0 401.1,959.4 401.4,960.9 401.7,960.5 402.0,958.0 402.4,959.9 402.7,961.6 403.0,959.9 403.3,959.7 403.6,960.2 403.9,960.1 404.2,961.5 404.5,959.6 404.8,959.2 405.2,961.2 405.5,961.9 405.8,961.5 406.1,961.7 406.4,959.8 406.7,958.8 407.0,959.8 407.3,960.6 407.6,958.6 408.0,960.3 408.3,961.4 408.6,959.8 408.9,963.1 409.2,961.6 409.5,959.2 409.8,959.3 410.1,959.8 410.4,961.5 410.8,961.2 411.1,960.0 411.4,960.9 411.7,961.6 412.0,961.3 412.3,958.7 412.6,959.3 412.9,959.5 413.2,958.6 413.6,961.7 413.9,959.9 414.2,959.9 414.5,959.6 414.8,961.0 415.1,961.3 415.4,961.5 415.7,962.2 416.0,959.5 416.4,962.6 416.7,963.7 417.0,960.0 417.3,960.2 417.6,961.4 417.9,962.2 418.2,960.3 418.5,959.7 418.8,963.2 419.2,960.1 419.5,957.4 419.8,961.3 420.1,961.9 420.4,962.7 420.7,962.8 421.0,964.4 421.3,960.0 421.6,959.5 422.0,958.9 422.3,962.7 422.6,960.2 422.9,958.7 423.2,958.2 423.5,960.8 423.8,960.2 424.1,961.1 424.5,959.6 424.8,959.8 425.1,961.2 425.4,960.4 425.7,961.4 426.0,960.5 426.3,960.3 426.6,961.1 426.9,960.3 427.3,960.9 427.6,961.2 427.9,960.1 428.2,960.5 428.5,960.8 428.8,961.5 429.1,961.0 429.4,961.0 429.7,961.2 430.1,960.3 430.4,961.1 430.7,959.8 431.0,958.5 431.3,961.2 431.6,958.4 431.9,960.5 432.2,962.5 432.5,961.5 432.9,959.5 433.2,961.6 433.5,961.0 433.8,959.7 434.1,960.6 434.4,960.1 434.7,960.3 435.0,961.1 435.3,958.9 435.7,961.7 436.0,963.1 436.3,960.5 436.6,959.6 436.9,960.2 437.2,962.1 437.5,960.1 437.8,961.3 438.1,963.4 438.5,959.9 438.8,960.8 439.1,960.0 439.4,960.3 439.7,960.8 440.0,959.8 440.3,961.2 440.6,960.9 440.9,962.1 441.3,961.5 441.6,961.2 441.9,962.5 442.2,960.5 442.5,961.5 442.8,960.0 443.1,962.4 443.4,959.9 443.7,961.9 444.1,959.9 444.4,961.0 444.7,959.5 445.0,959.9 445.3,959.7 445.6,961.3 445.9,961.4 446.2,961.6 446.5,961.2 446.9,960.5 447.2,961.6 447.5,962.6 447.8,960.4 448.1,959.9 448.4,961.5 448.7,963.2 449.0,960.7 449.3,960.4 449.7,959.7 450.0,960.0 450.3,959.8 450.6,959.7 450.9,962.0 451.2,962.3 451.5,961.0 451.8,961.0 452.1,961.8 452.5,960.9 452.8,961.0 453.1,961.5 453.4,960.8 453.7,962.3 454.0,964.6 454.3,960.9 454.6,961.2 454.9,959.9 455.3,960.4 455.6,961.0 455.9,961.4 456.2,960.7 456.5,959.5 456.8,961.3 457.1,960.3 457.4,961.3 457.7,960.6 458.1,960.7 458.4,960.8 458.7,958.5 459.0,962.3 459.3,959.9 459.6,961.3 459.9,961.5 460.2,960.3 460.5,959.4 460.9,961.5 461.2,959.8 461.5,960.8 461.8,961.4 462.1,960.3 462.4,959.0 462.7,960.1 463.0,961.4 463.4,960.0 463.7,961.9 464.0,959.2 464.3,959.8 464.6,958.9 464.9,959.8 465.2,962.5 465.5,961.5 465.8,960.5 466.2,960.1 466.5,962.1 466.8,960.7 467.1,959.7 467.4,962.5 467.7,959.4 468.0,961.0 468.3,961.5 468.6,961.9 469.0,963.0 469.3,961.7 469.6,960.0 469.9,962.1 470.2,961.1 470.5,959.4 470.8,959.6 471.1,959.9 471.4,958.4 471.8,961.3 472.1,961.4 472.4,961.3 472.7,959.9 473.0,960.7 473.3,962.1 473.6,961.2 473.9,960.6 474.2,960.0 474.6,960.7 474.9,962.2 475.2,960.8 475.5,963.3 475.8,963.4 476.1,961.6 476.4,959.0 476.7,960.5 477.0,962.2 477.4,960.2 477.7,960.0 478.0,960.8 478.3,963.7 478.6,960.3 478.9,958.6 479.2,961.1 479.5,961.2 479.8,961.6 480.2,960.9 480.5,961.2 480.8,960.3 481.1,961.8 481.4,960.7 481.7,961.3 482.0,960.0 482.3,962.3 482.6,961.0 483.0,960.3 483.3,960.8 483.6,959.6 483.9,960.1 484.2,961.7 484.5,961.4 484.8,961.7 485.1,961.5 485.4,960.5 485.8,960.9 486.1,962.8 486.4,960.7 486.7,959.1 487.0,960.8 487.3,960.3 487.6,960.7 487.9,960.8 488.2,959.6 488.6,961.2 488.9,960.6 489.2,961.4 489.5,960.0 489.8,959.7 490.1,960.3 490.4,962.5 490.7,958.8 491.0,961.9 491.4,960.7 491.7,962.0 492.0,960.3 492.3,961.1 492.6,961.1 492.9,963.0 493.2,960.6 493.5,961.0 493.8,959.9 494.2,961.0 494.5,959.9 494.8,960.6 495.1,961.1 495.4,961.3 495.7,959.8 496.0,959.8 496.3,962.0 496.6,960.2 497.0,960.9 497.3,960.4 497.6,959.1 497.9,960.6 498.2,960.6 498.5,962.6 498.8,958.7 499.1,960.2 499.4,961.4 499.8,960.2 500.1,958.5 500.4,961.4 500.7,960.9 501.0,959.8 501.3,959.7 501.6,960.0 501.9,960.9 502.3,960.5 502.6,960.0 502.9,961.1 503.2,961.8 503.5,960.1 503.8,962.3 504.1,960.8 504.4,961.3 504.7,961.2 505.1,961.2 505.4,961.0 505.7,958.4 506.0,959.7 506.3,961.6 506.6,959.6 506.9,960.8 507.2,959.1 507.5,960.1 507.9,962.3 508.2,961.0 508.5,959.8 508.8,960.0 509.1,959.0 509.4,961.2 509.7,960.4 510.0,961.4 510.3,961.5 510.7,960.4 511.0,959.7 511.3,959.4 511.6,960.3 511.9,960.7 512.2,962.1 512.5,959.7 512.8,961.1 513.1,959.6 513.5,960.1 513.8,961.4 514.1,961.2 514.4,960.1 514.7,960.0 515.0,961.8 515.3,960.5 515.6,960.3 515.9,959.6 516.3,963.2 516.6,962.5 516.9,961.2 517.2,962.9 517.5,961.2 517.8,960.3 518.1,961.2 518.4,962.1 518.7,959.6 519.1,962.0 519.4,961.9 519.7,962.2 520.0,961.2 520.3,961.9 520.6,959.0 520.9,960.7 521.2,961.8 521.5,961.3 521.9,961.0 522.2,959.5 522.5,960.6 522.8,959.0 523.1,960.5 523.4,961.1 523.7,960.3 524.0,961.3 524.3,960.8 524.7,961.7 525.0,960.4 525.3,959.2 525.6,959.5 525.9,960.0 526.2,960.8 526.5,960.9 526.8,960.1 527.1,960.9 527.5,960.1 527.8,961.4 528.1,959.5 528.4,962.0 528.7,961.1 529.0,960.4 529.3,959.8 529.6,961.4 529.9,960.2 530.3,961.5 530.6,962.7 530.9,961.0 531.2,961.1 531.5,961.4 531.8,960.3 532.1,962.8 532.4,960.7 532.7,961.6 533.1,961.2 533.4,960.3 533.7,962.3 534.0,961.3 534.3,960.3 534.6,960.3 534.9,959.1 535.2,959.9 535.5,961.8 535.9,961.8 536.2,960.1 536.5,961.6 536.8,961.9 537.1,961.7 537.4,962.2 537.7,959.2 538.0,961.2 538.3,960.1 538.7,961.7 539.0,960.3 539.3,961.1 539.6,961.8 539.9,959.5 540.2,960.4 540.5,960.3 540.8,960.9 541.2,959.5 541.5,961.7 541.8,962.8 542.1,960.7 542.4,961.4 542.7,958.4 543.0,959.8 543.3,961.6 543.6,961.2 544.0,961.6 544.3,962.2 544.6,961.0 544.9,960.7 545.2,960.5 545.5,961.0 545.8,958.9 546.1,962.3 546.4,958.8 546.8,959.4 547.1,960.9 547.4,961.8 547.7,961.4 548.0,962.3 548.3,960.4 548.6,960.2 548.9,961.4 549.2,959.8 549.6,961.1 549.9,961.3 550.2,961.1 550.5,958.9 550.8,960.6 551.1,958.9 551.4,961.7 551.7,960.4 552.0,961.8 552.4,962.1 552.7,959.6 553.0,961.7 553.3,961.2 553.6,962.3 553.9,959.7 554.2,959.6 554.5,960.1 554.8,959.1 555.2,961.0 555.5,960.2 555.8,961.0 556.1,961.2 556.4,961.6 556.7,959.6 557.0,961.5 557.3,961.5 557.6,959.9 558.0,960.3 558.3,959.5 558.6,962.0 558.9,962.1 559.2,960.0 559.5,960.7 559.8,961.2 560.1,961.5 560.4,960.8 560.8,962.4 561.1,960.0 561.4,961.6 561.7,960.9 562.0,961.1 562.3,960.2 562.6,959.2 562.9,960.4 563.2,961.3 563.6,960.1 563.9,959.3 564.2,960.7 564.5,960.8 564.8,959.9 565.1,960.7 565.4,961.2 565.7,961.0 566.0,961.7 566.4,961.9 566.7,960.8 567.0,960.1 567.3,959.2 567.6,961.8 567.9,961.2 568.2,961.8 568.5,960.1 568.8,961.0 569.2,960.1 569.5,960.0 569.8,959.5 570.1,960.6 570.4,961.3 570.7,961.5 571.0,961.1 571.3,960.6 571.6,962.7 572.0,962.2 572.3,961.8 572.6,961.0 572.9,962.0 573.2,960.2 573.5,959.7 573.8,961.4 574.1,961.0 574.4,961.8 574.8,960.1 575.1,961.1 575.4,959.9 575.7,960.5 576.0,961.3 576.3,960.8 576.6,960.0 576.9,959.5 577.2,960.5 577.6,960.0 577.9,959.6 578.2,960.9 578.5,960.0 578.8,962.0 579.1,962.7 579.4,961.8 579.7,963.3 580.1,959.8 580.4,959.3 580.7,960.7 581.0,959.3 581.3,961.0 581.6,961.6 581.9,961.5 582.2,961.7 582.5,960.7 582.9,960.8 583.2,961.1 583.5,960.8 583.8,961.7 584.1,960.5 584.4,960.8 584.7,960.3 585.0,961.7 585.3,961.0 585.7,961.0 586.0,960.4 586.3,959.3 586.6,960.5 586.9,959.0 587.2,960.8 587.5,959.8 587.8,962.0 588.1,960.3 588.5,960.8 588.8,960.4 589.1,959.9 589.4,959.5 589.7,958.7 590.0,960.3 590.3,959.1 590.6,961.8 590.9,959.7 591.3,960.3 591.6,960.8 591.9,960.7 592.2,961.9 592.5,960.8 592.8,960.4 593.1,960.8 593.4,962.2 593.7,961.5 594.1,959.2 594.4,960.7 594.7,960.1 595.0,960.9 595.3,961.4 595.6,960.9 595.9,961.4 596.2,962.3 596.5,959.4 596.9,960.8 597.2,960.9 597.5,961.3 597.8,961.0 598.1,961.7 598.4,960.9 598.7,961.2 599.0,959.6 599.3,961.0 599.7,959.9 600.0,961.4 600.3,962.4 600.6,960.8 600.9,961.3 601.2,961.5 601.5,962.1 601.8,961.6 602.1,961.9 602.5,960.5 602.8,960.8 603.1,959.7 603.4,962.8 603.7,959.9 604.0,961.7 604.3,961.0 604.6,961.0 604.9,959.9 605.3,960.9 605.6,961.0 605.9,961.3 606.2,960.6 606.5,961.1 606.8,960.1 607.1,961.9 607.4,960.4 607.7,963.9 608.1,960.7 608.4,960.4 608.7,961.1 609.0,960.8 609.3,961.8 609.6,962.0 609.9,960.4 610.2,960.4 610.5,960.3 610.9,961.3 611.2,961.8 611.5,961.5 611.8,960.8 612.1,961.0 612.4,961.5 612.7,962.0 613.0,960.9 613.3,961.9 613.7,960.7 614.0,961.1 614.3,961.9 614.6,960.3 614.9,959.6 615.2,960.1 615.5,960.9 615.8,960.1 616.1,960.9 616.5,962.1 616.8,960.7 617.1,962.0 617.4,961.7 617.7,960.1 618.0,961.8 618.3,961.7 618.6,961.8 619.0,961.1 619.3,961.2 619.6,960.5 619.9,960.3 620.2,960.9 620.5,961.5 620.8,960.5 621.1,962.3 621.4,960.6 621.8,961.2 622.1,959.9 622.4,962.2 622.7,961.6 623.0,962.0 623.3,960.0 623.6,962.2 623.9,961.4 624.2,960.5 624.6,960.7 624.9,959.8 625.2,960.9 625.5,961.7 625.8,960.3 626.1,961.3 626.4,960.1 626.7,958.9 627.0,960.9 627.4,962.2 627.7,962.0 628.0,960.5 628.3,962.0 628.6,961.8 628.9,961.3 629.2,960.7 629.5,961.8 629.8,960.9 630.2,960.7 630.5,961.8 630.8,960.5 631.1,961.5 631.4,962.2 631.7,960.5 632.0,961.1 632.3,961.4 632.6,959.6 633.0,960.6 633.3,960.5 633.6,960.6 633.9,960.3 634.2,962.0 634.5,960.3 634.8,960.9 635.1,961.4 635.4,962.2 635.8,959.7 636.1,959.9 636.4,960.1 636.7,960.7 637.0,961.7 637.3,960.9 637.6,961.1 637.9,962.1 638.2,960.7 638.6,961.1 638.9,962.5 639.2,961.6 639.5,960.5 639.8,960.5 640.1,961.8 640.4,960.1 640.7,960.3 641.0,961.6 641.4,962.0 641.7,962.3 642.0,960.2 642.3,961.4 642.6,958.4 642.9,960.3 643.2,963.2 643.5,962.2 643.8,961.5 644.2,960.3 644.5,960.0 644.8,961.8 645.1,960.9 645.4,960.4 645.7,961.6 646.0,961.5 646.3,960.5 646.6,960.7 647.0,962.7 647.3,960.3 647.6,961.8 647.9,960.5 648.2,960.4 648.5,960.2 648.8,960.9 649.1,961.0 649.4,961.6 649.8,960.5 650.1,961.3 650.4,960.6 650.7,960.5 651.0,961.5 651.3,961.4 651.6,959.9 651.9,961.1 652.2,959.6 652.6,960.2 652.9,962.2 653.2,962.0 653.5,960.9 653.8,961.4 654.1,961.9 654.4,962.3 654.7,962.3 655.0,960.4 655.4,961.0 655.7,961.1 656.0,959.2 656.3,960.4 656.6,961.3 656.9,960.8 657.2,960.5 657.5,960.1 657.9,960.6 658.2,961.0 658.5,960.7 658.8,961.8 659.1,961.6 659.4,960.0 659.7,961.7 660.0,961.0 660.3,961.5 660.7,960.5 661.0,961.6 661.3,960.5 661.6,961.7 661.9,961.0 662.2,960.8 662.5,960.0 662.8,959.8 663.1,961.6 663.5,960.2 663.8,960.1 664.1,961.3 664.4,961.0 664.7,961.4 665.0,960.0 665.3,959.4 665.6,960.3 665.9,961.7 666.3,961.0 666.6,961.3 666.9,961.4 667.2,961.1 667.5,961.1 667.8,960.8 668.1,961.1 668.4,961.2 668.7,960.5 669.1,961.4 669.4,961.0 669.7,960.9 670.0,960.9 670.3,961.6 670.6,960.9 670.9,961.8 671.2,960.3 671.5,961.4 671.9,959.9 672.2,961.0 672.5,960.6 672.8,960.7 673.1,960.3 673.4,961.0 673.7,961.4 674.0,959.7 674.3,960.9 674.7,961.1 675.0,961.4 675.3,961.2 675.6,960.2 675.9,961.7"/>
<polyline fill="none" stroke="#e93c3e" stroke-width="3.8" stroke-linejoin="round" points="53.5,996.8 53.8,993.5 54.1,992.3 54.4,989.7 54.7,994.7 55.1,997.8 55.4,995.5 55.7,996.4 56.0,997.4 56.3,993.7 56.6,1000.6 56.9,993.7 57.2,996.1 57.5,1000.7 57.9,995.2 58.2,995.6 58.5,994.4 58.8,996.1 59.1,991.3 59.4,994.2 59.7,998.7 60.0,995.8 60.3,994.9 60.7,996.1 61.0,996.2 61.3,995.7 61.6,996.5 61.9,992.2 62.2,996.6 62.5,994.1 62.8,996.9 63.1,995.4 63.5,993.5 63.8,995.3 64.1,993.5 64.4,997.4 64.7,995.4 65.0,997.1 65.3,993.3 65.6,998.5 65.9,994.8 66.3,998.0 66.6,997.1 66.9,993.3 67.2,996.0 67.5,994.4 67.8,996.2 68.1,998.2 68.4,996.7 68.7,997.5 69.1,993.2 69.4,995.8 69.7,996.1 70.0,997.5 70.3,994.2 70.6,996.5 70.9,996.2 71.2,992.5 71.5,993.4 71.9,996.3 72.2,993.2 72.5,993.1 72.8,997.1 73.1,996.0 73.4,995.0 73.7,995.6 74.0,994.7 74.4,994.4 74.7,994.6 75.0,996.2 75.3,998.0 75.6,994.5 75.9,995.3 76.2,995.0 76.5,993.0 76.8,995.9 77.2,997.1 77.5,993.8 77.8,997.0 78.1,994.3 78.4,997.6 78.7,997.7 79.0,994.7 79.3,991.6 79.6,994.8 80.0,992.8 80.3,992.9 80.6,995.0 80.9,998.0 81.2,995.3 81.5,995.0 81.8,991.9 82.1,994.3 82.4,992.8 82.8,996.4 83.1,994.4 83.4,995.4 83.7,995.4 84.0,995.1 84.3,997.2 84.6,996.4 84.9,994.8 85.2,995.7 85.6,996.5 85.9,998.0 86.2,995.7 86.5,998.2 86.8,994.3 87.1,995.0 87.4,992.7 87.7,997.0 88.0,993.5 88.4,993.5 88.7,997.0 89.0,994.5 89.3,994.0 89.6,997.2 89.9,995.1 90.2,997.2 90.5,994.7 90.8,996.8 91.2,997.5 91.5,995.6 91.8,998.8 92.1,994.7 92.4,995.1 92.7,995.6 93.0,997.3 93.3,994.9 93.6,994.6 94.0,995.9 94.3,997.8 94.6,994.7 94.9,993.1 95.2,995.2 95.5,996.6 95.8,994.4 96.1,995.7 96.4,992.0 96.8,995.5 97.1,995.7 97.4,996.6 97.7,996.0 98.0,996.9 98.3,993.6 98.6,996.7 98.9,992.4 99.2,994.4 99.6,997.5 99.9,997.0 100.2,992.0 100.5,996.6 100.8,994.7 101.1,994.0 101.4,995.8 101.7,995.7 102.0,998.1 102.4,992.8 102.7,994.7 103.0,995.2 103.3,992.1 103.6,997.6 103.9,998.7 104.2,994.3 104.5,996.2 104.8,995.0 105.2,996.0 105.5,994.2 105.8,997.0 106.1,993.3 106.4,998.0 106.7,996.1 107.0,999.9 107.3,992.4 107.6,995.3 108.0,993.1 108.3,995.2 108.6,996.3 108.9,993.8 109.2,992.8 109.5,992.3 109.8,995.9 110.1,997.8 110.4,997.6 110.8,995.5 111.1,993.7 111.4,994.8 111.7,992.7 112.0,992.6 112.3,997.4 112.6,995.0 112.9,996.1 113.3,995.0 113.6,997.9 113.9,998.1 114.2,994.1 114.5,994.8 114.8,994.3 115.1,997.9 115.4,997.8 115.7,995.0 116.1,999.7 116.4,995.5 116.7,993.3 117.0,991.8 117.3,995.2 117.6,996.1 117.9,994.4 118.2,996.2 118.5,997.7 118.9,995.4 119.2,997.0 119.5,998.5 119.8,996.4 120.1,994.4 120.4,996.3 120.7,996.5 121.0,999.4 121.3,994.7 121.7,992.7 122.0,996.0 122.3,996.1 122.6,994.7 122.9,996.5 123.2,996.1 123.5,997.7 123.8,994.0 124.1,994.2 124.5,995.5 124.8,994.6 125.1,997.8 125.4,996.5 125.7,995.5 126.0,998.3 126.3,996.4 126.6,997.3 126.9,997.0 127.3,995.2 127.6,995.3 127.9,995.5 128.2,993.5 128.5,994.9 128.8,997.0 129.1,996.1 129.4,993.8 129.7,999.8 130.1,993.7 130.4,996.6 130.7,996.8 131.0,997.8 131.3,994.0 131.6,995.6 131.9,995.2 132.2,997.6 132.5,996.2 132.9,996.3 133.2,996.5 133.5,999.1 133.8,996.8 134.1,997.1 134.4,993.9 134.7,996.8 135.0,993.3 135.3,997.3 135.7,995.9 136.0,994.0 136.3,993.6 136.6,995.4 136.9,995.8 137.2,994.6 137.5,995.0 137.8,995.1 138.1,994.7 138.5,995.3 138.8,996.1 139.1,998.0 139.4,996.8 139.7,994.7 140.0,998.5 140.3,997.8 140.6,995.2 140.9,997.5 141.3,994.7 141.6,994.4 141.9,994.4 142.2,998.6 142.5,996.0 142.8,996.3 143.1,995.8 143.4,995.0 143.7,996.6 144.1,996.9 144.4,999.2 144.7,994.3 145.0,998.5 145.3,996.9 145.6,992.7 145.9,997.5 146.2,998.6 146.5,997.7 146.9,996.2 147.2,996.1 147.5,992.3 147.8,996.3 148.1,996.1 148.4,994.1 148.7,996.1 149.0,994.6 149.3,999.7 149.7,993.6 150.0,994.2 150.3,992.0 150.6,995.0 150.9,995.9 151.2,995.7 151.5,994.6 151.8,997.2 152.2,996.1 152.5,997.8 152.8,995.5 153.1,992.6 153.4,995.4 153.7,993.9 154.0,997.1 154.3,994.6 154.6,995.2 155.0,995.6 155.3,993.0 155.6,995.0 155.9,997.1 156.2,994.6 156.5,995.3 156.8,995.9 157.1,994.4 157.4,995.1 157.8,996.4 158.1,994.9 158.4,995.7 158.7,995.3 159.0,993.8 159.3,993.3 159.6,999.0 159.9,998.0 160.2,995.4 160.6,997.2 160.9,997.5 161.2,997.2 161.5,995.0 161.8,993.1 162.1,993.4 162.4,995.2 162.7,997.9 163.0,998.3 163.4,995.2 163.7,995.0 164.0,997.7 164.3,999.1 164.6,994.0 164.9,996.4 165.2,995.9 165.5,995.1 165.8,995.1 166.2,995.0 166.5,995.6 166.8,993.0 167.1,995.6 167.4,997.0 167.7,996.9 168.0,997.0 168.3,996.2 168.6,996.0 169.0,999.0 169.3,995.3 169.6,995.9 169.9,997.8 170.2,995.7 170.5,993.4 170.8,994.7 171.1,994.9 171.4,995.4 171.8,994.9 172.1,997.3 172.4,996.8 172.7,996.5 173.0,994.9 173.3,997.4 173.6,997.3 173.9,999.4 174.2,994.6 174.6,995.5 174.9,998.0 175.2,993.8 175.5,996.1 175.8,996.0 176.1,995.7 176.4,994.1 176.7,995.7 177.0,993.1 177.4,997.7 177.7,994.8 178.0,995.9 178.3,995.6 178.6,996.0 178.9,995.9 179.2,996.4 179.5,995.0 179.8,995.7 180.2,993.8 180.5,993.9 180.8,994.2 181.1,993.9 181.4,993.3 181.7,994.6 182.0,996.7 182.3,996.3 182.6,994.9 183.0,996.2 183.3,996.2 183.6,1000.1 183.9,993.0 184.2,996.1 184.5,993.4 184.8,997.7 185.1,995.3 185.4,996.4 185.8,996.0 186.1,996.8 186.4,990.8 186.7,993.7 187.0,995.8 187.3,993.4 187.6,996.6 187.9,997.7 188.2,993.5 188.6,994.9 188.9,996.7 189.2,998.7 189.5,997.3 189.8,996.9 190.1,994.2 190.4,995.7 190.7,995.9 191.1,994.7 191.4,996.4 191.7,995.1 192.0,994.9 192.3,999.2 192.6,995.4 192.9,998.8 193.2,995.0 193.5,995.5 193.9,993.6 194.2,994.7 194.5,998.3 194.8,995.7 195.1,992.3 195.4,998.0 195.7,994.2 196.0,994.9 196.3,995.6 196.7,992.5 197.0,998.2 197.3,997.7 197.6,995.1 197.9,996.2 198.2,995.1 198.5,994.6 198.8,995.2 199.1,993.2 199.5,994.9 199.8,994.7 200.1,998.8 200.4,993.2 200.7,997.7 201.0,996.8 201.3,995.9 201.6,994.6 201.9,998.6 202.3,998.0 202.6,995.5 202.9,995.3 203.2,995.9 203.5,998.6 203.8,994.1 204.1,995.8 204.4,997.5 204.7,993.3 205.1,995.5 205.4,997.4 205.7,994.9 206.0,995.4 206.3,993.1 206.6,996.2 206.9,993.7 207.2,995.0 207.5,996.2 207.9,994.7 208.2,997.0 208.5,996.8 208.8,996.4 209.1,997.2 209.4,995.4 209.7,992.1 210.0,997.0 210.3,996.9 210.7,994.9 211.0,994.3 211.3,997.5 211.6,994.9 211.9,995.0 212.2,994.9 212.5,999.4 212.8,994.4 213.1,991.4 213.5,995.4 213.8,993.9 214.1,992.7 214.4,995.7 214.7,994.6 215.0,996.9 215.3,994.9 215.6,997.4 215.9,997.0 216.3,995.5 216.6,996.7 216.9,998.4 217.2,996.6 217.5,993.1 217.8,995.6 218.1,995.8 218.4,997.5 218.7,995.2 219.1,997.3 219.4,995.2 219.7,995.5 220.0,995.1 220.3,995.5 220.6,995.2 220.9,996.0 221.2,994.2 221.5,993.8 221.9,995.3 222.2,995.7 222.5,994.8 222.8,996.1 223.1,996.0 223.4,998.1 223.7,993.1 224.0,998.6 224.3,991.7 224.7,992.6 225.0,995.8 225.3,993.8 225.6,994.9 225.9,994.6 226.2,993.3 226.5,993.1 226.8,994.7 227.1,995.9 227.5,996.3 227.8,995.6 228.1,994.8 228.4,997.2 228.7,991.9 229.0,995.4 229.3,997.3 229.6,997.9 230.0,997.2 230.3,997.4 230.6,997.0 230.9,995.5 231.2,991.8 231.5,994.5 231.8,994.9 232.1,997.8 232.4,994.7 232.8,994.8 233.1,996.4 233.4,993.8 233.7,995.4 234.0,996.2 234.3,994.9 234.6,995.3 234.9,992.6 235.2,993.4 235.6,995.0 235.9,997.2 236.2,994.5 236.5,993.9 236.8,994.1 237.1,996.4 237.4,993.1 237.7,995.6 238.0,994.8 238.4,995.5 238.7,994.2 239.0,995.5 239.3,997.5 239.6,994.9 239.9,994.6 240.2,991.4 240.5,996.1 240.8,994.4 241.2,996.0 241.5,995.6 241.8,994.2 242.1,994.4 242.4,993.3 242.7,998.5 243.0,996.9 243.3,996.7 243.6,997.3 244.0,997.6 244.3,996.8 244.6,997.0 244.9,999.3 245.2,992.8 245.5,995.8 245.8,994.5 246.1,995.6 246.4,991.6 246.8,993.8 247.1,996.8 247.4,993.6 247.7,996.4 248.0,994.2 248.3,995.3 248.6,993.2 248.9,994.6 249.2,993.2 249.6,996.4 249.9,992.9 250.2,996.1 250.5,994.7 250.8,995.3 251.1,997.8 251.4,995.2 251.7,994.6 252.0,995.6 252.4,996.7 252.7,994.8 253.0,998.3 253.3,995.9 253.6,995.1 253.9,994.6 254.2,995.4 254.5,996.5 254.8,997.3 255.2,995.8 255.5,994.8 255.8,995.6 256.1,992.5 256.4,997.4 256.7,997.0 257.0,995.4 257.3,996.8 257.6,994.2 258.0,998.5 258.3,995.6 258.6,995.2 258.9,999.1 259.2,994.5 259.5,996.7 259.8,994.8 260.1,995.3 260.4,995.7 260.8,995.2 261.1,998.3 261.4,997.8 261.7,995.3 262.0,999.8 262.3,996.1 262.6,995.9 262.9,996.7 263.2,994.6 263.6,998.2 263.9,994.7 264.2,994.2 264.5,997.7 264.8,994.7 265.1,995.7 265.4,994.2 265.7,995.4 266.0,996.2 266.4,992.4 266.7,995.9 267.0,994.8 267.3,998.1 267.6,999.0 267.9,996.7 268.2,996.8 268.5,997.5 268.9,997.5 269.2,993.7 269.5,993.9 269.8,995.1 270.1,993.8 270.4,995.3 270.7,996.0 271.0,994.6 271.3,996.5 271.7,998.0 272.0,995.9 272.3,996.4 272.6,995.7 272.9,995.7 273.2,995.0 273.5,994.1 273.8,996.6 274.1,997.4 274.5,995.7 274.8,995.9 275.1,993.7 275.4,995.4 275.7,996.2 276.0,995.6 276.3,995.8 276.6,994.2 276.9,993.8 277.3,995.4 277.6,997.9 277.9,995.2 278.2,993.5 278.5,994.7 278.8,995.4 279.1,997.5 279.4,997.3 279.7,994.5 280.1,994.2 280.4,995.3 280.7,995.7 281.0,994.2 281.3,997.1 281.6,995.1 281.9,996.1 282.2,995.4 282.5,996.5 282.9,995.5 283.2,996.1 283.5,997.5 283.8,996.0 284.1,997.8 284.4,993.8 284.7,995.4 285.0,994.2 285.3,993.6 285.7,995.6 286.0,998.5 286.3,996.0 286.6,997.1 286.9,992.9 287.2,996.0 287.5,994.0 287.8,996.0 288.1,997.1 288.5,994.9 288.8,997.2 289.1,994.5 289.4,995.8 289.7,994.7 290.0,995.7 290.3,995.4 290.6,992.4 290.9,995.1 291.3,994.9 291.6,998.0 291.9,991.9 292.2,995.7 292.5,996.7 292.8,998.3 293.1,997.4 293.4,995.5 293.7,997.7 294.1,995.4 294.4,995.3 294.7,995.1 295.0,995.0 295.3,997.8 295.6,993.2 295.9,993.3 296.2,996.9 296.5,996.2 296.9,996.8 297.2,995.2 297.5,996.5 297.8,995.2 298.1,994.8 298.4,994.9 298.7,995.7 299.0,995.6 299.3,994.9 299.7,997.8 300.0,996.1 300.3,995.0 300.6,993.6 300.9,995.4 301.2,993.1 301.5,994.2 301.8,993.8 302.1,994.2 302.5,995.7 302.8,990.8 303.1,997.5 303.4,996.0 303.7,994.8 304.0,994.5 304.3,996.4 304.6,995.2 304.9,997.9 305.3,995.2 305.6,994.0 305.9,993.3 306.2,995.2 306.5,996.8 306.8,993.6 307.1,997.2 307.4,996.6 307.8,994.9 308.1,997.2 308.4,992.9 308.7,992.3 309.0,995.8 309.3,996.0 309.6,995.9 309.9,995.3 310.2,993.3 310.6,996.2 310.9,994.9 311.2,996.6 311.5,995.7 311.8,993.7 312.1,996.3 312.4,996.5 312.7,996.5 313.0,994.4 313.4,993.9 313.7,996.5 314.0,995.3 314.3,995.2 314.6,996.8 314.9,996.9 315.2,996.1 315.5,995.1 315.8,997.5 316.2,994.0 316.5,995.4 316.8,995.9 317.1,993.5 317.4,994.4 317.7,996.7 318.0,995.3 318.3,993.9 318.6,997.8 319.0,995.7 319.3,995.6 319.6,998.0 319.9,993.4 320.2,994.7 320.5,994.2 320.8,997.3 321.1,994.3 321.4,998.8 321.8,996.1 322.1,995.9 322.4,996.8 322.7,995.2 323.0,994.2 323.3,994.6 323.6,995.5 323.9,994.1 324.2,995.7 324.6,994.6 324.9,995.2 325.2,995.4 325.5,997.7 325.8,998.7 326.1,998.1 326.4,995.4 326.7,994.7 327.0,997.2 327.4,997.6 327.7,997.0 328.0,994.9 328.3,996.2 328.6,995.4 328.9,997.2 329.2,997.1 329.5,996.1 329.8,995.2 330.2,998.3 330.5,996.1 330.8,997.0 331.1,996.6 331.4,996.9 331.7,997.5 332.0,995.4 332.3,995.2 332.6,996.7 333.0,991.4 333.3,995.8 333.6,995.2 333.9,996.9 334.2,996.3 334.5,995.6 334.8,994.3 335.1,995.6 335.4,995.4 335.8,996.0 336.1,996.2 336.4,994.9 336.7,996.6 337.0,995.1 337.3,996.4 337.6,996.2 337.9,997.6 338.2,995.8 338.6,998.1 338.9,995.4 339.2,994.7 339.5,996.7 339.8,994.2 340.1,996.4 340.4,996.4 340.7,996.1 341.0,996.4 341.4,996.1 341.7,997.6 342.0,995.7 342.3,993.2 342.6,995.4 342.9,997.0 343.2,997.2 343.5,996.8 343.8,995.9 344.2,994.6 344.5,998.0 344.8,995.1 345.1,994.4 345.4,992.6 345.7,998.4 346.0,995.8 346.3,993.3 346.7,997.0 347.0,996.7 347.3,993.6 347.6,996.9 347.9,995.9 348.2,996.7 348.5,997.7 348.8,995.3 349.1,998.8 349.5,995.7 349.8,995.0 350.1,997.4 350.4,994.9 350.7,995.3 351.0,996.9 351.3,994.6 351.6,994.0 351.9,996.2 352.3,995.7 352.6,995.0 352.9,997.0 353.2,994.1 353.5,996.7 353.8,994.3 354.1,996.3 354.4,994.1 354.7,996.6 355.1,995.6 355.4,995.1 355.7,995.8 356.0,995.5 356.3,996.8 356.6,994.8 356.9,996.2 357.2,995.2 357.5,994.8 357.9,994.9 358.2,994.1 358.5,996.0 358.8,995.7 359.1,996.1 359.4,993.5 359.7,995.0 360.0,997.6 360.3,997.2 360.7,995.4 361.0,995.6 361.3,995.9 361.6,997.0 361.9,997.6 362.2,996.0 362.5,996.0 362.8,995.6 363.1,996.1 363.5,998.0 363.8,994.8 364.1,996.5 364.4,994.2 364.7,994.3 365.0,993.5 365.3,994.9 365.6,997.6 365.9,997.8 366.3,996.7 366.6,995.6 366.9,997.1 367.2,994.3 367.5,993.8 367.8,994.5 368.1,995.4 368.4,993.3 368.7,994.6 369.1,997.9 369.4,995.4 369.7,995.1 370.0,994.8 370.3,996.6 370.6,996.5 370.9,995.7 371.2,995.4 371.5,992.8 371.9,993.7 372.2,995.1 372.5,994.9 372.8,995.2 373.1,995.0 373.4,997.9 373.7,997.0 374.0,994.2 374.3,996.5 374.7,996.1 375.0,995.5 375.3,995.3 375.6,996.0 375.9,998.0 376.2,994.9 376.5,995.4 376.8,995.4 377.1,993.4 377.5,995.6 377.8,994.5 378.1,995.9 378.4,996.1 378.7,997.9 379.0,995.3 379.3,995.3 379.6,996.6 379.9,998.2 380.3,995.9 380.6,996.3 380.9,996.4 381.2,996.3 381.5,995.0 381.8,994.7 382.1,994.8 382.4,995.2 382.7,996.1 383.1,994.6 383.4,994.7 383.7,995.7 384.0,995.5 384.3,995.8 384.6,994.1 384.9,998.1 385.2,995.4 385.6,995.4 385.9,994.6 386.2,996.3 386.5,997.0 386.8,995.6 387.1,995.5 387.4,995.4 387.7,998.5 388.0,996.4 388.4,995.2 388.7,995.9 389.0,997.0 389.3,995.9 389.6,996.1 389.9,995.9 390.2,995.5 390.5,996.4 390.8,997.7 391.2,996.3 391.5,995.4 391.8,994.7 392.1,995.6 392.4,995.1 392.7,994.7 393.0,996.5 393.3,996.1 393.6,997.1 394.0,996.4 394.3,995.3 394.6,996.9 394.9,996.3 395.2,997.5 395.5,994.6 395.8,995.4 396.1,995.9 396.4,997.7 396.8,996.4 397.1,994.4 397.4,994.7 397.7,996.5 398.0,993.9 398.3,995.0 398.6,995.6 398.9,995.4 399.2,996.2 399.6,996.8 399.9,996.1 400.2,994.3 400.5,997.4 400.8,997.1 401.1,994.8 401.4,995.4 401.7,994.2 402.0,997.5 402.4,995.2 402.7,996.3 403.0,996.4 403.3,997.3 403.6,996.0 403.9,995.4 404.2,996.5 404.5,997.0 404.8,995.2 405.2,995.7 405.5,994.0 405.8,997.5 406.1,995.0 406.4,997.0 406.7,996.9 407.0,996.8 407.3,997.0 407.6,994.9 408.0,996.1 408.3,995.0 408.6,995.7 408.9,995.0 409.2,998.7 409.5,996.2 409.8,997.1 410.1,995.1 410.4,998.0 410.8,995.8 411.1,995.7 411.4,995.6 411.7,994.1 412.0,993.5 412.3,996.2 412.6,994.7 412.9,995.7 413.2,998.3 413.6,995.6 413.9,998.3 414.2,996.3 414.5,994.6 414.8,996.6 415.1,997.2 415.4,996.9 415.7,995.1 416.0,994.7 416.4,996.9 416.7,998.1 417.0,998.0 417.3,995.5 417.6,995.7 417.9,996.3 418.2,997.2 418.5,996.5 418.8,996.5 419.2,996.0 419.5,992.9 419.8,994.5 420.1,996.2 420.4,994.2 420.7,998.4 421.0,995.0 421.3,996.8 421.6,997.1 422.0,997.3 422.3,994.6 422.6,995.8 422.9,997.8 423.2,996.1 423.5,997.0 423.8,993.1 424.1,996.5 424.5,996.2 424.8,995.8 425.1,993.9 425.4,995.1 425.7,995.7 426.0,995.5 426.3,994.7 426.6,997.3 426.9,997.1 427.3,995.6 427.6,997.7 427.9,994.6 428.2,996.3 428.5,997.9 428.8,996.7 429.1,995.8 429.4,996.6 429.7,995.9 430.1,995.4 430.4,995.1 430.7,996.0 431.0,995.8 431.3,996.4 431.6,995.0 431.9,996.3 432.2,997.1 432.5,995.3 432.9,997.8 433.2,995.1 433.5,995.1 433.8,995.2 434.1,994.5 434.4,994.1 434.7,994.6 435.0,995.6 435.3,995.0 435.7,997.6 436.0,995.7 436.3,995.4 436.6,995.3 436.9,996.4 437.2,996.0 437.5,996.3 437.8,996.9 438.1,997.7 438.5,994.9 438.8,996.8 439.1,996.0 439.4,996.3 439.7,995.3 440.0,996.7 440.3,996.7 440.6,996.4 440.9,995.1 441.3,996.8 441.6,994.9 441.9,994.3 442.2,996.9 442.5,995.8 442.8,994.2 443.1,995.2 443.4,996.0 443.7,997.1 444.1,995.7 444.4,995.1 444.7,994.8 445.0,994.5 445.3,995.9 445.6,995.1 445.9,996.7 446.2,995.2 446.5,997.2 446.9,995.7 447.2,996.0 447.5,995.9 447.8,995.8 448.1,997.8 448.4,995.2 448.7,995.4 449.0,995.7 449.3,996.7 449.7,994.9 450.0,997.6 450.3,994.9 450.6,995.4 450.9,996.1 451.2,996.2 451.5,995.0 451.8,997.0 452.1,998.0 452.5,996.0 452.8,996.8 453.1,996.8 453.4,998.9 453.7,996.3 454.0,996.5 454.3,995.7 454.6,996.4 454.9,995.8 455.3,995.7 455.6,995.8 455.9,997.0 456.2,995.7 456.5,997.0 456.8,995.9 457.1,997.3 457.4,994.7 457.7,994.8 458.1,996.7 458.4,997.7 458.7,995.5 459.0,993.8 459.3,997.3 459.6,996.6 459.9,995.2 460.2,997.6 460.5,997.5 460.9,995.4 461.2,995.6 461.5,996.8 461.8,996.8 462.1,997.5 462.4,996.6 462.7,998.2 463.0,995.6 463.4,995.1 463.7,995.3 464.0,995.2 464.3,995.9 464.6,995.1 464.9,996.9 465.2,997.3 465.5,997.8 465.8,995.4 466.2,994.6 466.5,995.6 466.8,996.0 467.1,995.5 467.4,996.5 467.7,996.5 468.0,996.3 468.3,995.0 468.6,996.8 469.0,995.0 469.3,993.3 469.6,995.7 469.9,997.1 470.2,995.8 470.5,994.1 470.8,995.4 471.1,997.0 471.4,995.9 471.8,995.6 472.1,994.4 472.4,995.7 472.7,995.0 473.0,997.3 473.3,996.0 473.6,996.6 473.9,994.0 474.2,995.7 474.6,996.6 474.9,997.5 475.2,997.1 475.5,994.9 475.8,998.8 476.1,995.6 476.4,995.4 476.7,995.4 477.0,994.6 477.4,995.4 477.7,995.0 478.0,995.3 478.3,995.0 478.6,995.5 478.9,996.5 479.2,995.0 479.5,994.5 479.8,996.3 480.2,995.7 480.5,996.5 480.8,994.8 481.1,995.6 481.4,994.9 481.7,994.4 482.0,995.2 482.3,995.6 482.6,996.0 483.0,994.5 483.3,996.5 483.6,996.8 483.9,996.1 484.2,995.3 484.5,994.9 484.8,996.7 485.1,994.9 485.4,997.1 485.8,993.8 486.1,993.7 486.4,996.2 486.7,994.4 487.0,996.8 487.3,995.3 487.6,995.2 487.9,996.1 488.2,996.9 488.6,996.6 488.9,995.6 489.2,995.4 489.5,996.6 489.8,995.0 490.1,994.8 490.4,994.9 490.7,999.1 491.0,997.4 491.4,996.4 491.7,995.5 492.0,996.4 492.3,994.3 492.6,995.7 492.9,996.9 493.2,996.1 493.5,994.8 493.8,995.9 494.2,995.8 494.5,997.4 494.8,996.8 495.1,996.2 495.4,998.2 495.7,995.5 496.0,997.2 496.3,996.5 496.6,996.0 497.0,995.6 497.3,996.6 497.6,997.6 497.9,994.4 498.2,996.2 498.5,997.0 498.8,995.3 499.1,995.4 499.4,997.5 499.8,995.9 500.1,995.7 500.4,996.5 500.7,996.4 501.0,996.7 501.3,996.7 501.6,997.6 501.9,996.5 502.3,997.0 502.6,995.4 502.9,996.4 503.2,995.6 503.5,997.6 503.8,996.5 504.1,997.4 504.4,995.9 504.7,995.2 505.1,996.9 505.4,996.0 505.7,994.7 506.0,995.8 506.3,995.4 506.6,997.5 506.9,996.1 507.2,996.8 507.5,996.7 507.9,997.4 508.2,996.6 508.5,996.7 508.8,996.6 509.1,994.8 509.4,996.2 509.7,994.9 510.0,995.0 510.3,996.2 510.7,994.3 511.0,995.8 511.3,997.0 511.6,995.9 511.9,996.7 512.2,994.9 512.5,995.9 512.8,993.4 513.1,994.8 513.5,995.2 513.8,997.6 514.1,997.8 514.4,994.0 514.7,995.5 515.0,995.2 515.3,997.5 515.6,996.7 515.9,995.6 516.3,996.7 516.6,997.1 516.9,995.3 517.2,996.9 517.5,996.5 517.8,996.7 518.1,994.3 518.4,995.9 518.7,993.6 519.1,996.3 519.4,995.2 519.7,997.3 520.0,997.4 520.3,994.3 520.6,997.5 520.9,995.6 521.2,997.0 521.5,996.2 521.9,995.7 522.2,995.8 522.5,995.6 522.8,997.4 523.1,996.1 523.4,995.0 523.7,996.7 524.0,995.6 524.3,996.5 524.7,995.3 525.0,996.4 525.3,995.1 525.6,995.3 525.9,996.3 526.2,996.9 526.5,996.2 526.8,996.0 527.1,998.6 527.5,995.9 527.8,993.6 528.1,996.6 528.4,995.5 528.7,994.6 529.0,997.1 529.3,996.9 529.6,995.7 529.9,995.6 530.3,996.0 530.6,997.0 530.9,995.2 531.2,997.4 531.5,996.3 531.8,996.5 532.1,997.6 532.4,995.8 532.7,996.7 533.1,996.1 533.4,993.2 533.7,995.9 534.0,996.1 534.3,995.9 534.6,997.2 534.9,995.6 535.2,996.5 535.5,996.4 535.9,996.5 536.2,994.4 536.5,995.6 536.8,995.6 537.1,997.6 537.4,995.7 537.7,996.6 538.0,996.2 538.3,994.7 538.7,994.9 539.0,996.3 539.3,996.7 539.6,997.5 539.9,995.7 540.2,994.8 540.5,995.9 540.8,994.7 541.2,997.3 541.5,995.7 541.8,995.9 542.1,997.7 542.4,996.4 542.7,994.8 543.0,996.4 543.3,995.3 543.6,994.8 544.0,995.2 544.3,994.6 544.6,996.4 544.9,995.1 545.2,995.6 545.5,996.9 545.8,995.8 546.1,995.5 546.4,996.1 546.8,995.4 547.1,996.0 547.4,995.8 547.7,996.8 548.0,995.7 548.3,995.2 548.6,995.6 548.9,994.0 549.2,995.8 549.6,996.7 549.9,997.8 550.2,996.3 550.5,997.2 550.8,994.3 551.1,997.3 551.4,996.4 551.7,997.1 552.0,995.6 552.4,996.4 552.7,996.2 553.0,995.6 553.3,995.9 553.6,997.4 553.9,994.6 554.2,995.7 554.5,996.4 554.8,997.3 555.2,995.0 555.5,994.8 555.8,994.2 556.1,996.3 556.4,995.8 556.7,996.0 557.0,995.9 557.3,994.4 557.6,997.0 558.0,996.9 558.3,994.8 558.6,995.4 558.9,995.1 559.2,995.3 559.5,997.7 559.8,996.9 560.1,995.1 560.4,997.9 560.8,996.5 561.1,996.2 561.4,995.3 561.7,995.4 562.0,995.9 562.3,998.7 562.6,995.1 562.9,995.4 563.2,996.9 563.6,996.2 563.9,995.4 564.2,998.5 564.5,995.9 564.8,995.5 565.1,995.9 565.4,996.6 565.7,996.7 566.0,997.0 566.4,996.4 566.7,995.7 567.0,997.4 567.3,996.0 567.6,995.6 567.9,996.8 568.2,997.2 568.5,995.7 568.8,995.7 569.2,996.0 569.5,995.5 569.8,995.8 570.1,996.8 570.4,996.7 570.7,994.0 571.0,997.5 571.3,997.4 571.6,995.2 572.0,997.4 572.3,995.0 572.6,997.4 572.9,995.7 573.2,996.6 573.5,996.4 573.8,996.7 574.1,995.0 574.4,997.5 574.8,996.8 575.1,996.3 575.4,997.3 575.7,996.1 576.0,998.0 576.3,997.4 576.6,998.0 576.9,995.5 577.2,996.4 577.6,994.6 577.9,996.4 578.2,995.5 578.5,995.4 578.8,997.0 579.1,996.1 579.4,997.1 579.7,995.2 580.1,995.5 580.4,996.4 580.7,994.2 581.0,995.1 581.3,996.0 581.6,994.4 581.9,996.4 582.2,995.1 582.5,996.7 582.9,995.4 583.2,997.3 583.5,994.5 583.8,997.1 584.1,994.7 584.4,997.2 584.7,996.0 585.0,994.4 585.3,996.6 585.7,995.6 586.0,995.9 586.3,996.0 586.6,996.8 586.9,995.7 587.2,996.6 587.5,995.2 587.8,995.6 588.1,996.5 588.5,997.2 588.8,996.1 589.1,995.9 589.4,996.5 589.7,996.6 590.0,995.4 590.3,998.7 590.6,995.8 590.9,995.1 591.3,996.1 591.6,996.5 591.9,996.1 592.2,995.6 592.5,996.1 592.8,996.6 593.1,995.6 593.4,995.4 593.7,996.3 594.1,996.3 594.4,995.2 594.7,998.2 595.0,997.0 595.3,997.6 595.6,997.1 595.9,994.9 596.2,997.9 596.5,994.8 596.9,995.4 597.2,996.4 597.5,995.7 597.8,996.8 598.1,997.0 598.4,996.1 598.7,997.7 599.0,994.9 599.3,996.7 599.7,996.9 600.0,997.9 600.3,997.0 600.6,994.9 600.9,996.7 601.2,995.9 601.5,996.4 601.8,996.7 602.1,997.3 602.5,995.9 602.8,996.7 603.1,997.2 603.4,997.0 603.7,997.0 604.0,995.0 604.3,996.6 604.6,997.2 604.9,995.9 605.3,996.6 605.6,995.9 605.9,996.8 606.2,996.5 606.5,995.5 606.8,996.7 607.1,996.6 607.4,995.2 607.7,996.0 608.1,996.0 608.4,995.2 608.7,997.1 609.0,995.6 609.3,996.3 609.6,994.5 609.9,996.1 610.2,995.1 610.5,996.5 610.9,996.0 611.2,997.0 611.5,997.6 611.8,994.7 612.1,996.3 612.4,996.1 612.7,995.7 613.0,995.5 613.3,996.1 613.7,996.6 614.0,996.7 614.3,997.1 614.6,996.2 614.9,997.1 615.2,996.8 615.5,997.1 615.8,997.1 616.1,996.8 616.5,997.0 616.8,995.7 617.1,994.6 617.4,995.3 617.7,996.6 618.0,996.3 618.3,995.8 618.6,997.3 619.0,996.9 619.3,997.6 619.6,995.4 619.9,995.9 620.2,996.6 620.5,997.0 620.8,997.4 621.1,996.6 621.4,997.5 621.8,997.3 622.1,996.5 622.4,997.4 622.7,996.6 623.0,996.7 623.3,995.5 623.6,995.7 623.9,995.7 624.2,996.5 624.6,995.4 624.9,994.8 625.2,996.1 625.5,998.3 625.8,996.3 626.1,995.5 626.4,996.0 626.7,996.7 627.0,997.1 627.4,996.6 627.7,997.7 628.0,996.9 628.3,995.5 628.6,997.2 628.9,995.8 629.2,997.2 629.5,996.4 629.8,994.7 630.2,994.7 630.5,996.1 630.8,996.4 631.1,997.2 631.4,996.7 631.7,997.5 632.0,996.9 632.3,996.3 632.6,995.5 633.0,997.4 633.3,997.1 633.6,997.1 633.9,995.7 634.2,997.1 634.5,994.8 634.8,996.7 635.1,996.3 635.4,996.3 635.8,993.9 636.1,997.8 636.4,995.4 636.7,995.6 637.0,995.9 637.3,995.7 637.6,994.7 637.9,996.7 638.2,996.0 638.6,996.3 638.9,995.0 639.2,996.5 639.5,996.2 639.8,997.3 640.1,995.7 640.4,994.7 640.7,996.3 641.0,996.5 641.4,997.1 641.7,996.8 642.0,995.6 642.3,996.3 642.6,995.4 642.9,996.7 643.2,998.4 643.5,995.4 643.8,995.1 644.2,995.1 644.5,996.0 644.8,996.5 645.1,996.0 645.4,994.7 645.7,996.3 646.0,996.6 646.3,997.2 646.6,996.5 647.0,994.9 647.3,996.8 647.6,995.8 647.9,995.0 648.2,996.0 648.5,996.2 648.8,996.3 649.1,995.4 649.4,995.7 649.8,996.1 650.1,996.3 650.4,996.4 650.7,995.1 651.0,996.9 651.3,995.1 651.6,996.4 651.9,996.1 652.2,994.0 652.6,995.5 652.9,996.0 653.2,996.3 653.5,995.9 653.8,996.4 654.1,996.0 654.4,995.9 654.7,996.8 655.0,999.0 655.4,995.8 655.7,995.9 656.0,996.5 656.3,995.6 656.6,996.8 656.9,996.1 657.2,997.6 657.5,995.4 657.9,996.3 658.2,995.5 658.5,996.5 658.8,995.7 659.1,995.2 659.4,995.5 659.7,995.7 660.0,996.3 660.3,995.5 660.7,996.7 661.0,996.0 661.3,996.0 661.6,995.9 661.9,996.2 662.2,997.5 662.5,995.5 662.8,996.2 663.1,996.3 663.5,996.5 663.8,995.8 664.1,994.5 664.4,996.7 664.7,996.7 665.0,996.9 665.3,996.6 665.6,995.5 665.9,997.2 666.3,996.0 666.6,996.6 666.9,997.8 667.2,997.2 667.5,995.7 667.8,996.4 668.1,997.3 668.4,997.0 668.7,996.2 669.1,995.3 669.4,995.7 669.7,996.0 670.0,996.4 670.3,997.2 670.6,997.1 670.9,995.0 671.2,995.9 671.5,995.6 671.9,995.8 672.2,996.6 672.5,996.2 672.8,995.5 673.1,997.3 673.4,995.7 673.7,995.5 674.0,995.9 674.3,997.5 674.7,996.8 675.0,995.8 675.3,996.5 675.6,995.6 675.9,996.9"/>
<polyline fill="none" stroke="#505050" stroke-width="3.8" stroke-linejoin="round" points="53.5,1029.1 53.8,1030.1 54.1,1032.7 54.4,1030.9 54.7,1032.9 55.1,1033.5 55.4,1029.1 55.7,1033.9 56.0,1030.7 56.3,1036.0 56.6,1033.3 56.9,1030.9 57.2,1032.3 57.5,1032.3 57.9,1032.5 58.2,1034.6 58.5,1032.9 58.8,1035.1 59.1,1033.1 59.4,1031.6 59.7,1029.0 60.0,1028.9 60.3,1032.3 60.7,1033.2 61.0,1034.7 61.3,1030.7 61.6,1032.1 61.9,1030.3 62.2,1031.1 62.5,1027.5 62.8,1033.3 63.1,1030.5 63.5,1031.8 63.8,1032.8 64.1,1032.6 64.4,1029.4 64.7,1034.8 65.0,1033.4 65.3,1032.9 65.6,1030.6 65.9,1028.8 66.3,1028.8 66.6,1031.5 66.9,1032.2 67.2,1030.6 67.5,1035.4 67.8,1032.5 68.1,1033.8 68.4,1033.7 68.7,1029.9 69.1,1033.8 69.4,1032.8 69.7,1029.5 70.0,1033.3 70.3,1034.0 70.6,1033.8 70.9,1033.9 71.2,1029.2 71.5,1031.5 71.9,1030.9 72.2,1032.0 72.5,1032.1 72.8,1034.1 73.1,1033.4 73.4,1030.3 73.7,1033.7 74.0,1035.0 74.4,1032.5 74.7,1029.1 75.0,1030.7 75.3,1031.6 75.6,1028.8 75.9,1031.7 76.2,1029.5 76.5,1033.4 76.8,1033.2 77.2,1031.8 77.5,1029.6 77.8,1032.5 78.1,1030.7 78.4,1030.6 78.7,1034.0 79.0,1030.5 79.3,1029.3 79.6,1033.4 80.0,1035.3 80.3,1035.0 80.6,1033.4 80.9,1035.9 81.2,1031.3 81.5,1036.1 81.8,1035.9 82.1,1031.3 82.4,1032.7 82.8,1029.5 83.1,1030.0 83.4,1033.0 83.7,1029.8 84.0,1032.4 84.3,1032.8 84.6,1032.2 84.9,1033.8 85.2,1035.6 85.6,1032.3 85.9,1033.9 86.2,1034.8 86.5,1031.1 86.8,1030.7 87.1,1027.4 87.4,1032.8 87.7,1034.0 88.0,1032.8 88.4,1036.0 88.7,1034.9 89.0,1033.5 89.3,1031.9 89.6,1030.4 89.9,1032.2 90.2,1033.0 90.5,1031.9 90.8,1031.4 91.2,1031.3 91.5,1033.3 91.8,1028.8 92.1,1031.4 92.4,1032.2 92.7,1033.3 93.0,1033.3 93.3,1031.6 93.6,1030.9 94.0,1029.8 94.3,1034.2 94.6,1033.1 94.9,1032.4 95.2,1030.7 95.5,1029.9 95.8,1034.2 96.1,1032.0 96.4,1032.9 96.8,1035.4 97.1,1029.2 97.4,1030.6 97.7,1032.7 98.0,1033.2 98.3,1030.1 98.6,1031.9 98.9,1030.9 99.2,1031.0 99.6,1032.7 99.9,1032.4 100.2,1034.2 100.5,1033.2 100.8,1034.8 101.1,1030.5 101.4,1032.8 101.7,1029.4 102.0,1028.9 102.4,1029.4 102.7,1033.3 103.0,1032.4 103.3,1029.0 103.6,1034.4 103.9,1033.8 104.2,1031.6 104.5,1031.5 104.8,1032.0 105.2,1029.7 105.5,1036.3 105.8,1031.1 106.1,1031.6 106.4,1031.4 106.7,1030.7 107.0,1030.3 107.3,1032.6 107.6,1029.7 108.0,1030.0 108.3,1030.5 108.6,1033.5 108.9,1030.1 109.2,1030.1 109.5,1032.6 109.8,1029.9 110.1,1031.4 110.4,1033.6 110.8,1032.7 111.1,1032.0 111.4,1034.8 111.7,1031.2 112.0,1030.9 112.3,1028.7 112.6,1032.0 112.9,1033.1 113.3,1030.7 113.6,1035.4 113.9,1033.8 114.2,1033.7 114.5,1029.8 114.8,1032.5 115.1,1032.6 115.4,1028.2 115.7,1031.9 116.1,1031.5 116.4,1028.8 116.7,1032.9 117.0,1035.7 117.3,1033.3 117.6,1030.4 117.9,1031.5 118.2,1034.0 118.5,1030.5 118.9,1032.6 119.2,1032.0 119.5,1032.3 119.8,1035.0 120.1,1029.2 120.4,1034.1 120.7,1032.5 121.0,1031.8 121.3,1029.0 121.7,1032.6 122.0,1031.3 122.3,1026.7 122.6,1029.5 122.9,1029.8 123.2,1030.2 123.5,1030.9 123.8,1030.5 124.1,1034.8 124.5,1033.9 124.8,1031.9 125.1,1034.5 125.4,1035.9 125.7,1032.9 126.0,1029.6 126.3,1032.7 126.6,1034.6 126.9,1030.2 127.3,1032.0 127.6,1033.7 127.9,1034.2 128.2,1033.6 128.5,1032.7 128.8,1031.8 129.1,1031.0 129.4,1033.8 129.7,1033.7 130.1,1031.1 130.4,1030.8 130.7,1034.3 131.0,1033.8 131.3,1030.6 131.6,1029.0 131.9,1032.2 132.2,1033.5 132.5,1033.7 132.9,1033.5 133.2,1029.2 133.5,1032.1 133.8,1031.3 134.1,1030.7 134.4,1036.7 134.7,1032.0 135.0,1032.5 135.3,1031.5 135.7,1033.2 136.0,1034.1 136.3,1031.5 136.6,1032.0 136.9,1031.2 137.2,1030.2 137.5,1031.7 137.8,1032.6 138.1,1032.1 138.5,1031.6 138.8,1028.7 139.1,1032.6 139.4,1032.3 139.7,1034.7 140.0,1030.9 140.3,1029.5 140.6,1028.6 140.9,1030.9 141.3,1031.9 141.6,1032.4 141.9,1029.2 142.2,1031.0 142.5,1033.8 142.8,1032.1 143.1,1031.4 143.4,1031.3 143.7,1029.2 144.1,1029.5 144.4,1031.1 144.7,1034.2 145.0,1034.0 145.3,1031.7 145.6,1033.1 145.9,1032.7 146.2,1034.0 146.5,1030.8 146.9,1032.5 147.2,1033.7 147.5,1029.8 147.8,1031.9 148.1,1032.5 148.4,1032.8 148.7,1032.9 149.0,1033.1 149.3,1033.8 149.7,1034.5 150.0,1032.7 150.3,1035.9 150.6,1031.2 150.9,1031.7 151.2,1032.6 151.5,1030.7 151.8,1029.5 152.2,1029.7 152.5,1034.1 152.8,1030.9 153.1,1029.7 153.4,1035.4 153.7,1032.7 154.0,1032.4 154.3,1030.4 154.6,1032.5 155.0,1031.2 155.3,1032.5 155.6,1032.0 155.9,1031.6 156.2,1032.4 156.5,1030.5 156.8,1031.3 157.1,1030.7 157.4,1032.7 157.8,1033.3 158.1,1033.4 158.4,1028.7 158.7,1035.0 159.0,1031.7 159.3,1031.8 159.6,1032.0 159.9,1031.9 160.2,1034.2 160.6,1032.3 160.9,1032.6 161.2,1033.7 161.5,1034.3 161.8,1030.3 162.1,1029.9 162.4,1028.7 162.7,1028.8 163.0,1032.6 163.4,1032.2 163.7,1032.0 164.0,1032.6 164.3,1032.6 164.6,1034.1 164.9,1035.0 165.2,1030.7 165.5,1034.7 165.8,1033.9 166.2,1030.7 166.5,1032.4 166.8,1031.4 167.1,1029.2 167.4,1032.2 167.7,1029.3 168.0,1032.2 168.3,1030.3 168.6,1031.5 169.0,1033.5 169.3,1032.3 169.6,1030.7 169.9,1032.5 170.2,1033.3 170.5,1033.8 170.8,1030.7 171.1,1034.0 171.4,1031.8 171.8,1031.2 172.1,1034.1 172.4,1033.2 172.7,1033.3 173.0,1032.3 173.3,1029.1 173.6,1032.9 173.9,1033.1 174.2,1031.9 174.6,1035.0 174.9,1032.4 175.2,1035.0 175.5,1034.2 175.8,1031.0 176.1,1030.7 176.4,1031.6 176.7,1032.1 177.0,1033.3 177.4,1031.1 177.7,1030.4 178.0,1035.8 178.3,1032.2 178.6,1032.7 178.9,1035.2 179.2,1032.4 179.5,1028.3 179.8,1033.0 180.2,1031.2 180.5,1033.9 180.8,1029.2 181.1,1032.5 181.4,1033.6 181.7,1034.6 182.0,1033.9 182.3,1033.8 182.6,1032.2 183.0,1032.2 183.3,1030.5 183.6,1033.8 183.9,1034.8 184.2,1033.3 184.5,1030.8 184.8,1029.9 185.1,1031.4 185.4,1034.9 185.8,1032.5 186.1,1030.6 186.4,1031.6 186.7,1033.6 187.0,1031.1 187.3,1031.4 187.6,1031.3 187.9,1030.7 188.2,1035.5 188.6,1030.9 188.9,1032.7 189.2,1034.2 189.5,1032.1 189.8,1031.6 190.1,1032.0 190.4,1032.2 190.7,1031.9 191.1,1031.5 191.4,1031.6 191.7,1032.4 192.0,1035.2 192.3,1031.6 192.6,1033.6 192.9,1031.9 193.2,1030.7 193.5,1030.3 193.9,1032.8 194.2,1030.1 194.5,1033.0 194.8,1031.7 195.1,1035.1 195.4,1030.5 195.7,1034.1 196.0,1034.6 196.3,1033.6 196.7,1031.4 197.0,1032.8 197.3,1032.5 197.6,1032.0 197.9,1033.8 198.2,1032.2 198.5,1032.7 198.8,1034.1 199.1,1032.1 199.5,1031.7 199.8,1032.6 200.1,1031.5 200.4,1028.5 200.7,1031.4 201.0,1032.0 201.3,1030.4 201.6,1029.2 201.9,1033.0 202.3,1031.2 202.6,1033.3 202.9,1033.0 203.2,1034.8 203.5,1033.2 203.8,1033.8 204.1,1034.5 204.4,1031.7 204.7,1034.1 205.1,1034.2 205.4,1029.3 205.7,1030.6 206.0,1032.5 206.3,1035.1 206.6,1031.7 206.9,1030.2 207.2,1029.7 207.5,1032.8 207.9,1032.6 208.2,1031.2 208.5,1032.7 208.8,1031.6 209.1,1034.1 209.4,1030.0 209.7,1031.5 210.0,1034.1 210.3,1031.2 210.7,1030.8 211.0,1031.8 211.3,1035.2 211.6,1032.7 211.9,1034.5 212.2,1030.7 212.5,1031.9 212.8,1033.3 213.1,1032.6 213.5,1031.4 213.8,1028.6 214.1,1033.1 214.4,1033.4 214.7,1033.0 215.0,1029.5 215.3,1029.9 215.6,1031.2 215.9,1030.5 216.3,1033.9 216.6,1030.4 216.9,1031.6 217.2,1030.4 217.5,1029.4 217.8,1033.8 218.1,1032.4 218.4,1031.0 218.7,1032.2 219.1,1028.7 219.4,1034.7 219.7,1030.5 220.0,1029.1 220.3,1030.5 220.6,1032.5 220.9,1032.2 221.2,1033.2 221.5,1033.3 221.9,1032.2 222.2,1033.8 222.5,1029.2 222.8,1032.9 223.1,1032.9 223.4,1032.7 223.7,1031.9 224.0,1031.3 224.3,1031.2 224.7,1029.5 225.0,1031.4 225.3,1033.9 225.6,1034.5 225.9,1031.4 226.2,1031.3 226.5,1031.4 226.8,1031.9 227.1,1032.2 227.5,1032.9 227.8,1034.4 228.1,1028.9 228.4,1030.5 228.7,1031.4 229.0,1032.1 229.3,1032.8 229.6,1035.0 230.0,1030.7 230.3,1033.2 230.6,1032.0 230.9,1032.3 231.2,1032.7 231.5,1033.5 231.8,1032.4 232.1,1030.4 232.4,1032.9 232.8,1033.0 233.1,1029.7 233.4,1032.9 233.7,1032.1 234.0,1031.9 234.3,1032.3 234.6,1034.9 234.9,1029.6 235.2,1032.5 235.6,1029.2 235.9,1032.2 236.2,1033.6 236.5,1029.3 236.8,1034.0 237.1,1032.9 237.4,1032.0 237.7,1031.9 238.0,1032.2 238.4,1032.3 238.7,1032.2 239.0,1033.9 239.3,1033.5 239.6,1030.8 239.9,1034.0 240.2,1035.1 240.5,1034.8 240.8,1032.8 241.2,1029.8 241.5,1031.5 241.8,1032.1 242.1,1032.2 242.4,1030.0 242.7,1033.3 243.0,1033.7 243.3,1030.2 243.6,1031.2 244.0,1030.8 244.3,1032.4 244.6,1034.2 244.9,1029.1 245.2,1034.9 245.5,1033.9 245.8,1030.4 246.1,1035.0 246.4,1034.3 246.8,1033.3 247.1,1032.9 247.4,1031.0 247.7,1033.2 248.0,1031.2 248.3,1032.5 248.6,1034.1 248.9,1031.9 249.2,1031.4 249.6,1033.3 249.9,1033.9 250.2,1034.0 250.5,1032.1 250.8,1034.6 251.1,1035.0 251.4,1031.9 251.7,1033.4 252.0,1029.7 252.4,1032.2 252.7,1030.8 253.0,1032.6 253.3,1031.5 253.6,1028.8 253.9,1033.4 254.2,1030.8 254.5,1034.2 254.8,1034.6 255.2,1033.3 255.5,1032.3 255.8,1032.8 256.1,1030.2 256.4,1032.5 256.7,1033.9 257.0,1033.5 257.3,1030.8 257.6,1034.7 258.0,1033.2 258.3,1030.9 258.6,1033.1 258.9,1031.0 259.2,1031.6 259.5,1032.5 259.8,1035.2 260.1,1036.2 260.4,1030.1 260.8,1032.3 261.1,1032.1 261.4,1033.4 261.7,1032.9 262.0,1031.4 262.3,1032.8 262.6,1031.4 262.9,1031.1 263.2,1033.2 263.6,1032.6 263.9,1031.4 264.2,1033.3 264.5,1031.7 264.8,1031.1 265.1,1032.1 265.4,1033.3 265.7,1031.4 266.0,1034.5 266.4,1032.0 266.7,1032.8 267.0,1033.5 267.3,1032.3 267.6,1031.4 267.9,1032.0 268.2,1033.8 268.5,1034.2 268.9,1033.3 269.2,1031.6 269.5,1030.9 269.8,1031.5 270.1,1031.6 270.4,1032.7 270.7,1032.3 271.0,1031.2 271.3,1033.4 271.7,1031.2 272.0,1032.4 272.3,1031.2 272.6,1033.9 272.9,1032.9 273.2,1032.6 273.5,1034.0 273.8,1033.8 274.1,1030.4 274.5,1032.6 274.8,1030.8 275.1,1031.5 275.4,1031.7 275.7,1030.2 276.0,1030.5 276.3,1032.5 276.6,1032.5 276.9,1033.1 277.3,1032.1 277.6,1031.7 277.9,1031.8 278.2,1031.8 278.5,1031.2 278.8,1032.4 279.1,1030.9 279.4,1030.8 279.7,1030.0 280.1,1032.4 280.4,1031.2 280.7,1031.9 281.0,1032.4 281.3,1030.9 281.6,1032.5 281.9,1032.3 282.2,1032.2 282.5,1029.5 282.9,1033.7 283.2,1033.0 283.5,1033.1 283.8,1034.7 284.1,1030.7 284.4,1035.1 284.7,1032.0 285.0,1033.6 285.3,1034.0 285.7,1030.8 286.0,1032.7 286.3,1031.5 286.6,1032.9 286.9,1030.2 287.2,1034.7 287.5,1032.9 287.8,1031.9 288.1,1031.1 288.5,1034.2 288.8,1031.6 289.1,1033.4 289.4,1030.6 289.7,1033.1 290.0,1029.6 290.3,1032.8 290.6,1030.9 290.9,1030.8 291.3,1033.6 291.6,1033.3 291.9,1031.4 292.2,1031.2 292.5,1033.8 292.8,1030.1 293.1,1031.8 293.4,1031.2 293.7,1032.2 294.1,1032.1 294.4,1032.0 294.7,1030.5 295.0,1032.6 295.3,1032.9 295.6,1031.6 295.9,1034.7 296.2,1031.6 296.5,1032.2 296.9,1035.0 297.2,1031.8 297.5,1032.1 297.8,1030.1 298.1,1032.3 298.4,1031.6 298.7,1032.7 299.0,1030.7 299.3,1033.9 299.7,1033.0 300.0,1033.5 300.3,1031.7 300.6,1029.8 300.9,1032.7 301.2,1032.2 301.5,1031.6 301.8,1034.6 302.1,1032.7 302.5,1032.5 302.8,1032.9 303.1,1032.8 303.4,1032.9 303.7,1033.4 304.0,1032.4 304.3,1031.7 304.6,1031.1 304.9,1032.6 305.3,1033.0 305.6,1033.4 305.9,1031.2 306.2,1030.2 306.5,1030.3 306.8,1034.3 307.1,1033.1 307.4,1032.3 307.8,1031.9 308.1,1035.4 308.4,1033.4 308.7,1033.3 309.0,1031.6 309.3,1033.9 309.6,1031.7 309.9,1031.2 310.2,1034.2 310.6,1032.8 310.9,1033.3 311.2,1030.2 311.5,1031.8 311.8,1031.1 312.1,1032.6 312.4,1032.1 312.7,1032.2 313.0,1031.2 313.4,1034.2 313.7,1030.4 314.0,1032.9 314.3,1032.2 314.6,1033.7 314.9,1030.9 315.2,1033.6 315.5,1031.1 315.8,1032.6 316.2,1031.9 316.5,1035.5 316.8,1030.4 317.1,1031.3 317.4,1029.7 317.7,1030.7 318.0,1031.9 318.3,1031.6 318.6,1031.0 319.0,1031.2 319.3,1031.8 319.6,1032.3 319.9,1034.4 320.2,1032.7 320.5,1032.1 320.8,1031.6 321.1,1033.0 321.4,1033.9 321.8,1031.8 322.1,1033.4 322.4,1032.8 322.7,1029.2 323.0,1034.8 323.3,1033.4 323.6,1030.2 323.9,1029.5 324.2,1032.4 324.6,1031.5 324.9,1032.9 325.2,1031.6 325.5,1033.9 325.8,1031.4 326.1,1032.8 326.4,1033.1 326.7,1031.8 327.0,1033.5 327.4,1032.4 327.7,1032.2 328.0,1031.9 328.3,1029.0 328.6,1030.8 328.9,1034.8 329.2,1031.7 329.5,1031.2 329.8,1032.0 330.2,1032.0 330.5,1035.1 330.8,1030.7 331.1,1031.3 331.4,1033.1 331.7,1029.8 332.0,1030.1 332.3,1030.5 332.6,1031.3 333.0,1033.7 333.3,1034.1 333.6,1033.0 333.9,1035.0 334.2,1029.7 334.5,1033.7 334.8,1031.3 335.1,1033.0 335.4,1031.9 335.8,1030.3 336.1,1033.9 336.4,1034.3 336.7,1032.7 337.0,1031.2 337.3,1035.1 337.6,1029.1 337.9,1032.6 338.2,1031.1 338.6,1031.4 338.9,1033.7 339.2,1031.7 339.5,1033.7 339.8,1032.7 340.1,1034.2 340.4,1033.6 340.7,1033.5 341.0,1032.4 341.4,1032.3 341.7,1031.0 342.0,1033.0 342.3,1033.3 342.6,1031.4 342.9,1032.9 343.2,1031.3 343.5,1032.3 343.8,1030.9 344.2,1032.4 344.5,1033.8 344.8,1032.7 345.1,1030.0 345.4,1033.2 345.7,1031.9 346.0,1034.1 346.3,1033.3 346.7,1033.3 347.0,1032.0 347.3,1032.6 347.6,1031.3 347.9,1032.5 348.2,1033.4 348.5,1030.4 348.8,1031.9 349.1,1033.3 349.5,1031.0 349.8,1032.2 350.1,1033.0 350.4,1032.8 350.7,1033.2 351.0,1033.4 351.3,1034.0 351.6,1032.0 351.9,1033.0 352.3,1032.9 352.6,1030.8 352.9,1031.8 353.2,1033.3 353.5,1032.8 353.8,1033.3 354.1,1032.4 354.4,1032.3 354.7,1033.6 355.1,1029.8 355.4,1030.2 355.7,1032.4 356.0,1032.7 356.3,1033.2 356.6,1033.3 356.9,1032.6 357.2,1030.9 357.5,1033.1 357.9,1032.6 358.2,1031.1 358.5,1030.2 358.8,1031.8 359.1,1033.2 359.4,1032.4 359.7,1033.9 360.0,1031.9 360.3,1031.4 360.7,1031.6 361.0,1032.4 361.3,1032.7 361.6,1033.5 361.9,1032.2 362.2,1030.8 362.5,1031.3 362.8,1032.7 363.1,1032.2 363.5,1032.6 363.8,1031.6 364.1,1031.8 364.4,1031.7 364.7,1031.6 365.0,1032.6 365.3,1034.5 365.6,1032.4 365.9,1032.6 366.3,1029.9 366.6,1033.0 366.9,1032.1 367.2,1034.1 367.5,1033.0 367.8,1034.2 368.1,1031.2 368.4,1033.3 368.7,1033.6 369.1,1031.9 369.4,1033.9 369.7,1030.7 370.0,1032.7 370.3,1031.9 370.6,1033.5 370.9,1029.9 371.2,1033.5 371.5,1034.6 371.9,1031.1 372.2,1033.6 372.5,1031.3 372.8,1033.6 373.1,1033.9 373.4,1031.0 373.7,1034.6 374.0,1032.3 374.3,1032.5 374.7,1033.5 375.0,1033.7 375.3,1032.6 375.6,1033.3 375.9,1033.3 376.2,1031.1 376.5,1032.9 376.8,1032.8 377.1,1032.6 377.5,1033.4 377.8,1031.9 378.1,1030.3 378.4,1033.3 378.7,1033.0 379.0,1032.5 379.3,1031.9 379.6,1035.3 379.9,1032.6 380.3,1031.2 380.6,1032.9 380.9,1033.2 381.2,1030.8 381.5,1033.3 381.8,1029.9 382.1,1032.0 382.4,1033.6 382.7,1033.9 383.1,1033.0 383.4,1033.5 383.7,1031.5 384.0,1032.6 384.3,1033.4 384.6,1030.4 384.9,1032.9 385.2,1033.3 385.6,1033.9 385.9,1033.5 386.2,1033.8 386.5,1033.6 386.8,1031.4 387.1,1031.4 387.4,1031.8 387.7,1031.0 388.0,1033.5 388.4,1034.6 388.7,1034.1 389.0,1032.8 389.3,1033.8 389.6,1032.6 389.9,1033.1 390.2,1033.9 390.5,1031.2 390.8,1031.8 391.2,1033.0 391.5,1036.2 391.8,1033.3 392.1,1033.5 392.4,1034.3 392.7,1031.9 393.0,1029.9 393.3,1031.1 393.6,1031.3 394.0,1034.7 394.3,1032.2 394.6,1032.2 394.9,1032.2 395.2,1032.1 395.5,1032.3 395.8,1032.5 396.1,1033.9 396.4,1032.6 396.8,1030.6 397.1,1033.4 397.4,1033.0 397.7,1031.9 398.0,1032.7 398.3,1031.6 398.6,1035.2 398.9,1033.8 399.2,1032.8 399.6,1031.4 399.9,1033.2 400.2,1033.2 400.5,1032.5 400.8,1032.1 401.1,1034.9 401.4,1032.0 401.7,1033.6 402.0,1033.9 402.4,1031.1 402.7,1032.7 403.0,1033.7 403.3,1032.5 403.6,1030.7 403.9,1033.2 404.2,1034.9 404.5,1033.1 404.8,1032.9 405.2,1031.6 405.5,1032.3 405.8,1033.0 406.1,1030.9 406.4,1031.4 406.7,1032.6 407.0,1032.5 407.3,1032.6 407.6,1032.4 408.0,1034.1 408.3,1032.3 408.6,1032.4 408.9,1031.5 409.2,1031.5 409.5,1032.3 409.8,1035.5 410.1,1033.8 410.4,1030.9 410.8,1034.4 411.1,1032.5 411.4,1031.0 411.7,1032.8 412.0,1031.4 412.3,1031.7 412.6,1031.3 412.9,1032.3 413.2,1030.1 413.6,1033.6 413.9,1034.5 414.2,1032.3 414.5,1032.6 414.8,1033.0 415.1,1032.2 415.4,1032.2 415.7,1033.3 416.0,1033.7 416.4,1032.1 416.7,1033.3 417.0,1032.9 417.3,1031.8 417.6,1032.4 417.9,1030.3 418.2,1031.2 418.5,1032.8 418.8,1033.2 419.2,1033.7 419.5,1034.2 419.8,1031.2 420.1,1032.9 420.4,1030.6 420.7,1032.4 421.0,1031.8 421.3,1033.0 421.6,1032.4 422.0,1032.5 422.3,1031.8 422.6,1032.5 422.9,1034.0 423.2,1033.4 423.5,1032.5 423.8,1030.6 424.1,1030.5 424.5,1032.4 424.8,1032.9 425.1,1033.2 425.4,1032.8 425.7,1031.6 426.0,1030.5 426.3,1033.4 426.6,1033.2 426.9,1033.9 427.3,1030.6 427.6,1033.2 427.9,1033.3 428.2,1031.3 428.5,1031.4 428.8,1031.3 429.1,1031.6 429.4,1032.4 429.7,1032.0 430.1,1034.0 430.4,1033.0 430.7,1031.8 431.0,1032.8 431.3,1031.7 431.6,1030.0 431.9,1032.9 432.2,1031.9 432.5,1033.9 432.9,1032.4 433.2,1034.1 433.5,1033.4 433.8,1030.8 434.1,1034.4 434.4,1032.0 434.7,1032.5 435.0,1031.2 435.3,1031.9 435.7,1035.5 436.0,1032.7 436.3,1028.5 436.6,1034.5 436.9,1032.8 437.2,1031.8 437.5,1033.3 437.8,1032.9 438.1,1031.8 438.5,1034.3 438.8,1033.2 439.1,1033.8 439.4,1032.8 439.7,1032.5 440.0,1032.7 440.3,1031.4 440.6,1031.5 440.9,1033.5 441.3,1032.4 441.6,1033.2 441.9,1032.5 442.2,1032.0 442.5,1033.7 442.8,1031.9 443.1,1031.5 443.4,1032.5 443.7,1033.7 444.1,1033.7 444.4,1031.3 444.7,1031.3 445.0,1031.9 445.3,1031.3 445.6,1032.5 445.9,1033.4 446.2,1032.1 446.5,1030.5 446.9,1030.4 447.2,1030.6 447.5,1031.9 447.8,1033.0 448.1,1030.6 448.4,1032.8 448.7,1033.1 449.0,1035.2 449.3,1031.2 449.7,1032.5 450.0,1033.2 450.3,1032.9 450.6,1033.4 450.9,1032.9 451.2,1033.3 451.5,1032.3 451.8,1032.4 452.1,1030.6 452.5,1034.8 452.8,1031.0 453.1,1032.7 453.4,1032.7 453.7,1031.6 454.0,1030.7 454.3,1032.8 454.6,1030.6 454.9,1033.7 455.3,1035.5 455.6,1034.1 455.9,1029.6 456.2,1033.0 456.5,1032.6 456.8,1032.3 457.1,1033.5 457.4,1032.0 457.7,1033.2 458.1,1031.8 458.4,1031.4 458.7,1033.2 459.0,1033.8 459.3,1031.9 459.6,1034.3 459.9,1032.4 460.2,1031.6 460.5,1031.8 460.9,1031.9 461.2,1033.4 461.5,1033.4 461.8,1032.7 462.1,1034.1 462.4,1031.6 462.7,1033.1 463.0,1032.9 463.4,1030.2 463.7,1033.0 464.0,1032.1 464.3,1034.3 464.6,1032.1 464.9,1034.1 465.2,1033.2 465.5,1031.0 465.8,1033.9 466.2,1033.4 466.5,1033.0 466.8,1032.5 467.1,1034.7 467.4,1032.3 467.7,1033.9 468.0,1033.3 468.3,1032.5 468.6,1031.9 469.0,1033.1 469.3,1032.6 469.6,1031.4 469.9,1033.1 470.2,1033.3 470.5,1032.8 470.8,1030.8 471.1,1033.3 471.4,1032.4 471.8,1033.6 472.1,1032.3 472.4,1032.0 472.7,1032.5 473.0,1032.6 473.3,1035.0 473.6,1031.6 473.9,1031.0 474.2,1032.5 474.6,1032.6 474.9,1030.6 475.2,1030.8 475.5,1031.6 475.8,1032.3 476.1,1032.3 476.4,1033.5 476.7,1032.5 477.0,1031.7 477.4,1032.5 477.7,1032.9 478.0,1033.2 478.3,1029.5 478.6,1032.6 478.9,1032.9 479.2,1034.1 479.5,1032.2 479.8,1032.7 480.2,1030.8 480.5,1033.4 480.8,1033.7 481.1,1031.6 481.4,1032.7 481.7,1032.1 482.0,1033.7 482.3,1032.3 482.6,1032.8 483.0,1032.8 483.3,1032.2 483.6,1032.8 483.9,1034.3 484.2,1032.6 484.5,1031.8 484.8,1033.8 485.1,1034.6 485.4,1033.6 485.8,1032.7 486.1,1032.6 486.4,1033.3 486.7,1033.7 487.0,1035.7 487.3,1035.2 487.6,1031.5 487.9,1033.5 488.2,1034.2 488.6,1033.4 488.9,1032.6 489.2,1031.9 489.5,1033.3 489.8,1033.4 490.1,1033.0 490.4,1031.7 490.7,1030.6 491.0,1034.4 491.4,1031.6 491.7,1032.4 492.0,1031.2 492.3,1033.6 492.6,1032.1 492.9,1032.7 493.2,1035.3 493.5,1033.7 493.8,1033.0 494.2,1030.7 494.5,1033.7 494.8,1033.7 495.1,1033.9 495.4,1033.0 495.7,1031.3 496.0,1032.1 496.3,1033.7 496.6,1033.6 497.0,1033.3 497.3,1035.1 497.6,1033.8 497.9,1032.9 498.2,1033.0 498.5,1030.8 498.8,1032.1 499.1,1033.7 499.4,1030.8 499.8,1033.0 500.1,1033.7 500.4,1032.3 500.7,1033.3 501.0,1031.7 501.3,1034.5 501.6,1032.3 501.9,1030.3 502.3,1033.1 502.6,1032.2 502.9,1034.4 503.2,1033.4 503.5,1032.3 503.8,1034.3 504.1,1032.3 504.4,1031.3 504.7,1033.8 505.1,1034.1 505.4,1032.4 505.7,1033.7 506.0,1034.5 506.3,1031.9 506.6,1029.4 506.9,1033.2 507.2,1032.4 507.5,1033.6 507.9,1032.8 508.2,1032.2 508.5,1031.6 508.8,1031.4 509.1,1032.0 509.4,1031.6 509.7,1033.4 510.0,1033.3 510.3,1032.0 510.7,1033.9 511.0,1032.2 511.3,1032.1 511.6,1033.5 511.9,1032.9 512.2,1032.0 512.5,1033.5 512.8,1034.4 513.1,1031.3 513.5,1032.4 513.8,1030.5 514.1,1032.5 514.4,1035.2 514.7,1032.9 515.0,1032.5 515.3,1032.8 515.6,1031.6 515.9,1032.8 516.3,1032.3 516.6,1031.8 516.9,1033.5 517.2,1032.4 517.5,1032.9 517.8,1032.0 518.1,1032.8 518.4,1033.2 518.7,1032.6 519.1,1034.2 519.4,1032.6 519.7,1033.0 520.0,1032.5 520.3,1033.6 520.6,1032.1 520.9,1031.6 521.2,1032.7 521.5,1032.3 521.9,1032.0 522.2,1034.3 522.5,1032.4 522.8,1032.9 523.1,1031.4 523.4,1031.8 523.7,1032.4 524.0,1034.2 524.3,1032.2 524.7,1032.9 525.0,1030.7 525.3,1032.0 525.6,1032.4 525.9,1033.5 526.2,1033.2 526.5,1031.0 526.8,1033.7 527.1,1033.3 527.5,1033.5 527.8,1031.5 528.1,1034.4 528.4,1030.8 528.7,1032.6 529.0,1032.7 529.3,1033.2 529.6,1032.8 529.9,1032.1 530.3,1034.3 530.6,1030.7 530.9,1031.9 531.2,1032.2 531.5,1033.7 531.8,1033.0 532.1,1031.0 532.4,1034.8 532.7,1032.6 533.1,1033.9 533.4,1034.7 533.7,1032.3 534.0,1033.0 534.3,1031.2 534.6,1032.0 534.9,1034.2 535.2,1032.4 535.5,1033.6 535.9,1032.7 536.2,1033.4 536.5,1033.3 536.8,1034.8 537.1,1033.3 537.4,1032.9 537.7,1033.3 538.0,1032.1 538.3,1031.7 538.7,1030.2 539.0,1033.4 539.3,1033.0 539.6,1032.4 539.9,1033.6 540.2,1033.1 540.5,1032.4 540.8,1033.4 541.2,1033.3 541.5,1033.5 541.8,1033.8 542.1,1033.1 542.4,1033.4 542.7,1032.6 543.0,1031.8 543.3,1032.5 543.6,1032.8 544.0,1031.8 544.3,1032.7 544.6,1033.0 544.9,1031.8 545.2,1032.6 545.5,1032.9 545.8,1032.7 546.1,1033.9 546.4,1031.7 546.8,1034.8 547.1,1032.3 547.4,1034.4 547.7,1032.8 548.0,1034.6 548.3,1032.7 548.6,1032.5 548.9,1031.5 549.2,1032.2 549.6,1033.4 549.9,1032.9 550.2,1032.9 550.5,1032.7 550.8,1032.7 551.1,1033.4 551.4,1032.8 551.7,1032.0 552.0,1033.8 552.4,1032.7 552.7,1032.6 553.0,1032.9 553.3,1032.2 553.6,1032.2 553.9,1031.7 554.2,1033.6 554.5,1031.3 554.8,1032.9 555.2,1031.1 555.5,1031.4 555.8,1033.7 556.1,1032.7 556.4,1033.3 556.7,1032.8 557.0,1032.6 557.3,1033.5 557.6,1033.0 558.0,1033.8 558.3,1033.5 558.6,1031.8 558.9,1031.6 559.2,1034.0 559.5,1033.8 559.8,1032.2 560.1,1033.7 560.4,1031.6 560.8,1031.3 561.1,1033.8 561.4,1032.4 561.7,1031.5 562.0,1031.7 562.3,1033.8 562.6,1034.3 562.9,1032.4 563.2,1034.4 563.6,1031.7 563.9,1030.2 564.2,1032.5 564.5,1033.9 564.8,1032.9 565.1,1032.3 565.4,1033.4 565.7,1032.4 566.0,1033.0 566.4,1031.7 566.7,1033.5 567.0,1031.9 567.3,1032.2 567.6,1034.4 567.9,1032.8 568.2,1034.3 568.5,1031.4 568.8,1032.7 569.2,1033.1 569.5,1033.6 569.8,1034.0 570.1,1033.3 570.4,1033.8 570.7,1032.9 571.0,1033.7 571.3,1033.7 571.6,1033.2 572.0,1033.8 572.3,1032.9 572.6,1032.7 572.9,1032.0 573.2,1032.4 573.5,1033.2 573.8,1031.1 574.1,1033.2 574.4,1032.4 574.8,1033.6 575.1,1031.9 575.4,1032.8 575.7,1031.7 576.0,1032.2 576.3,1033.1 576.6,1034.4 576.9,1033.3 577.2,1032.9 577.6,1031.6 577.9,1033.2 578.2,1032.0 578.5,1033.7 578.8,1033.4 579.1,1033.6 579.4,1030.5 579.7,1031.6 580.1,1032.0 580.4,1032.5 580.7,1032.5 581.0,1032.6 581.3,1033.2 581.6,1033.6 581.9,1032.4 582.2,1031.7 582.5,1032.7 582.9,1032.9 583.2,1032.8 583.5,1031.7 583.8,1033.3 584.1,1033.1 584.4,1033.1 584.7,1031.8 585.0,1033.5 585.3,1032.8 585.7,1033.1 586.0,1033.1 586.3,1031.8 586.6,1032.6 586.9,1033.5 587.2,1032.9 587.5,1033.1 587.8,1031.8 588.1,1031.5 588.5,1032.6 588.8,1030.5 589.1,1033.5 589.4,1032.0 589.7,1034.2 590.0,1032.0 590.3,1032.5 590.6,1031.5 590.9,1031.4 591.3,1032.9 591.6,1033.2 591.9,1031.4 592.2,1033.1 592.5,1032.1 592.8,1031.9 593.1,1032.8 593.4,1033.6 593.7,1032.4 594.1,1032.1 594.4,1032.8 594.7,1032.0 595.0,1033.2 595.3,1032.1 595.6,1032.5 595.9,1030.9 596.2,1032.1 596.5,1031.2 596.9,1033.9 597.2,1032.0 597.5,1032.7 597.8,1032.8 598.1,1032.4 598.4,1032.3 598.7,1033.3 599.0,1033.7 599.3,1033.4 599.7,1032.9 600.0,1032.2 600.3,1032.7 600.6,1033.1 600.9,1034.2 601.2,1033.0 601.5,1032.1 601.8,1032.1 602.1,1032.5 602.5,1032.6 602.8,1034.0 603.1,1033.1 603.4,1033.4 603.7,1032.2 604.0,1031.6 604.3,1034.9 604.6,1034.6 604.9,1033.4 605.3,1033.6 605.6,1032.3 605.9,1034.0 606.2,1035.4 606.5,1032.7 606.8,1033.2 607.1,1033.5 607.4,1032.5 607.7,1032.7 608.1,1033.0 608.4,1032.1 608.7,1033.3 609.0,1031.8 609.3,1032.8 609.6,1032.7 609.9,1033.1 610.2,1032.3 610.5,1031.6 610.9,1032.5 611.2,1032.7 611.5,1033.9 611.8,1032.7 612.1,1033.5 612.4,1032.8 612.7,1032.8 613.0,1032.5 613.3,1031.4 613.7,1031.5 614.0,1031.1 614.3,1032.5 614.6,1034.1 614.9,1031.6 615.2,1033.6 615.5,1034.3 615.8,1032.8 616.1,1033.4 616.5,1032.6 616.8,1032.2 617.1,1032.1 617.4,1032.3 617.7,1033.3 618.0,1033.0 618.3,1032.2 618.6,1033.7 619.0,1033.0 619.3,1032.0 619.6,1033.1 619.9,1034.0 620.2,1033.9 620.5,1032.0 620.8,1033.3 621.1,1032.9 621.4,1033.9 621.8,1034.5 622.1,1030.7 622.4,1033.5 622.7,1031.8 623.0,1033.0 623.3,1034.0 623.6,1034.0 623.9,1032.3 624.2,1034.2 624.6,1032.5 624.9,1032.8 625.2,1031.8 625.5,1032.4 625.8,1031.9 626.1,1033.4 626.4,1032.2 626.7,1033.6 627.0,1032.2 627.4,1033.7 627.7,1033.5 628.0,1032.7 628.3,1033.3 628.6,1034.0 628.9,1034.2 629.2,1032.6 629.5,1032.8 629.8,1033.7 630.2,1035.2 630.5,1033.5 630.8,1032.0 631.1,1032.2 631.4,1032.6 631.7,1033.0 632.0,1031.7 632.3,1031.2 632.6,1033.0 633.0,1032.5 633.3,1032.9 633.6,1031.6 633.9,1032.3 634.2,1033.6 634.5,1032.6 634.8,1031.9 635.1,1033.4 635.4,1032.5 635.8,1033.5 636.1,1033.2 636.4,1032.7 636.7,1032.6 637.0,1033.6 637.3,1032.5 637.6,1033.2 637.9,1033.9 638.2,1032.4 638.6,1032.4 638.9,1032.8 639.2,1031.7 639.5,1033.2 639.8,1032.1 640.1,1032.4 640.4,1031.7 640.7,1033.8 641.0,1033.9 641.4,1033.0 641.7,1033.3 642.0,1033.2 642.3,1033.7 642.6,1034.5 642.9,1034.8 643.2,1033.3 643.5,1033.7 643.8,1032.4 644.2,1033.5 644.5,1033.8 644.8,1032.1 645.1,1032.7 645.4,1031.9 645.7,1032.8 646.0,1032.6 646.3,1031.8 646.6,1031.6 647.0,1032.6 647.3,1031.6 647.6,1033.4 647.9,1032.3 648.2,1032.2 648.5,1033.0 648.8,1033.1 649.1,1032.1 649.4,1033.4 649.8,1033.2 650.1,1033.2 650.4,1034.3 650.7,1032.7 651.0,1032.9 651.3,1031.7 651.6,1033.2 651.9,1032.2 652.2,1032.2 652.6,1032.8 652.9,1033.0 653.2,1032.7 653.5,1032.8 653.8,1032.5 654.1,1031.6 654.4,1034.1 654.7,1032.6 655.0,1033.0 655.4,1031.7 655.7,1032.3 656.0,1033.1 656.3,1032.6 656.6,1032.1 656.9,1032.6 657.2,1033.0 657.5,1032.5 657.9,1032.0 658.2,1033.8 658.5,1032.8 658.8,1034.3 659.1,1033.1 659.4,1031.8 659.7,1032.1 660.0,1032.2 660.3,1033.3 660.7,1031.7 661.0,1033.9 661.3,1032.4 661.6,1033.3 661.9,1033.6 662.2,1032.2 662.5,1032.4 662.8,1033.0 663.1,1033.7 663.5,1033.5 663.8,1032.7 664.1,1033.6 664.4,1032.9 664.7,1033.4 665.0,1032.2 665.3,1034.1 665.6,1032.8 665.9,1032.5 666.3,1032.9 666.6,1033.1 666.9,1033.5 667.2,1032.5 667.5,1031.6 667.8,1034.5 668.1,1032.4 668.4,1033.8 668.7,1032.4 669.1,1032.1 669.4,1033.6 669.7,1031.9 670.0,1030.9 670.3,1033.5 670.6,1033.3 670.9,1033.7 671.2,1033.1 671.5,1032.3 671.9,1032.2 672.2,1032.8 672.5,1033.1 672.8,1032.7 673.1,1033.1 673.4,1033.7 673.7,1033.1 674.0,1033.6 674.3,1032.6 674.7,1032.4 675.0,1032.3 675.3,1033.2 675.6,1032.4 675.9,1033.1"/>
</g>
<g stroke="#000" stroke-width="3" fill="none">
<rect x="53.5" y="587.2" width="622.3" height="458.8"/>
<line x1="53.5" y1="1046" x2="53.5" y2="1054"/>
<line x1="131.3" y1="1046" x2="131.3" y2="1054"/>
<line x1="209.1" y1="1046" x2="209.1" y2="1054"/>
<line x1="286.9" y1="1046" x2="286.9" y2="1054"/>
<line x1="364.7" y1="1046" x2="364.7" y2="1054"/>
<line x1="442.5" y1="1046" x2="442.5" y2="1054"/>
<line x1="520.3" y1="1046" x2="520.3" y2="1054"/>
<line x1="598.1" y1="1046" x2="598.1" y2="1054"/>
<line x1="675.9" y1="1046" x2="675.9" y2="1054"/>
<line x1="92.4" y1="1046" x2="92.4" y2="1050"/>
<line x1="170.2" y1="1046" x2="170.2" y2="1050"/>
<line x1="248.0" y1="1046" x2="248.0" y2="1050"/>
<line x1="325.8" y1="1046" x2="325.8" y2="1050"/>
<line x1="403.6" y1="1046" x2="403.6" y2="1050"/>
<line x1="481.4" y1="1046" x2="481.4" y2="1050"/>
<line x1="559.2" y1="1046" x2="559.2" y2="1050"/>
<line x1="637.0" y1="1046" x2="637.0" y2="1050"/>
</g>
<text x="53.5" y="1079.4" font-size="25" text-anchor="middle">10</text>
<text x="131.3" y="1079.4" font-size="25" text-anchor="middle">20</text>
<text x="209.1" y="1079.4" font-size="25" text-anchor="middle">30</text>
<text x="286.9" y="1079.4" font-size="25" text-anchor="middle">40</text>
<text x="364.7" y="1079.4" font-size="25" text-anchor="middle">50</text>
<text x="442.5" y="1079.4" font-size="25" text-anchor="middle">60</text>
<text x="520.3" y="1079.4" font-size="25" text-anchor="middle">70</text>
<text x="598.1" y="1079.4" font-size="25" text-anchor="middle">80</text>
<text x="675.9" y="1079.4" font-size="25" text-anchor="middle">90</text>
<text x="366.6" y="1119.2" font-size="28.5" text-anchor="middle">2<tspan font-size="27.5" dy="0.8">θ</tspan><tspan dy="-0.8">/°</tspan></text>
<text transform="translate(31,883) rotate(-90)" font-size="28">Intensity/a.u.</text>
<text x="59" y="619" font-size="27">(b)</text>
<text x="568.3" y="774.3" font-size="25.6">1600°C</text>
<text x="568.3" y="906.9" font-size="25.6">1500°C</text>
<text x="568.3" y="955.9" font-size="25.6">1400°C</text>
<text x="568.3" y="990.9" font-size="25.6">1300°C</text>
<text x="568.3" y="1026" font-size="25.6">1000°C</text>
<path d="M131.7,603.8 L140.5,603.8 L136.1,595.8 Z" fill="#000"/>
<path d="M149.8,706.4 L158.6,706.4 L154.2,698.4 Z" fill="#000"/>
<path d="M213.6,636.7 L222.4,636.7 L218.0,628.7 Z" fill="#000"/>
<path d="M240.2,617.9 L249.1,617.9 L244.7,609.9 Z" fill="#000"/>
<path d="M246.8,644.3 L255.7,644.3 L251.2,636.3 Z" fill="#000"/>
<path d="M297.5,747.7 L306.3,747.7 L301.9,739.7 Z" fill="#000"/>
<path d="M311.0,731.5 L319.8,731.5 L315.4,723.5 Z" fill="#000"/>
<path d="M366.1,775.8 L374.9,775.8 L370.5,767.8 Z" fill="#000"/>
<path d="M375.1,766.4 L383.8,766.4 L379.4,758.4 Z" fill="#000"/>
<path d="M458.2,753.4 L467.0,753.4 L462.6,745.4 Z" fill="#000"/>
<path d="M477.4,756.4 L486.1,756.4 L481.8,748.4 Z" fill="#000"/>
<path d="M485.5,764.0 L494.2,764.0 L489.9,756.0 Z" fill="#000"/>
<path d="M540.2,763.4 L549.0,763.4 L544.6,755.4 Z" fill="#000"/>
<polygon points="78.75,759.10 79.81,761.94 82.84,762.07 80.47,763.96 81.28,766.88 78.75,765.21 76.22,766.88 77.03,763.96 74.66,762.07 77.69,761.94" fill="#000"/>
<polygon points="181.55,720.60 182.61,723.44 185.64,723.57 183.27,725.46 184.08,728.38 181.55,726.71 179.02,728.38 179.83,725.46 177.46,723.57 180.49,723.44" fill="#000"/>
<polygon points="237.90,753.40 238.96,756.24 241.99,756.37 239.62,758.26 240.43,761.18 237.90,759.51 235.37,761.18 236.18,758.26 233.81,756.37 236.84,756.24" fill="#000"/>
<polygon points="279.00,707.60 280.06,710.44 283.09,710.57 280.72,712.46 281.53,715.38 279.00,713.71 276.47,715.38 277.28,712.46 274.91,710.57 277.94,710.44" fill="#000"/>
<polygon points="425.90,749.10 426.96,751.94 429.99,752.07 427.62,753.96 428.43,756.88 425.90,755.21 423.37,756.88 424.18,753.96 421.81,752.07 424.84,751.94" fill="#000"/>
<polygon points="519.00,745.00 520.06,747.84 523.09,747.97 520.72,749.86 521.53,752.78 519.00,751.11 516.47,752.78 517.28,749.86 514.91,747.97 517.94,747.84" fill="#000"/>
<polygon points="532.40,771.10 533.46,773.94 536.49,774.07 534.12,775.96 534.93,778.88 532.40,777.21 529.87,778.88 530.68,775.96 528.31,774.07 531.34,773.94" fill="#000"/>
<path d="M477.2,640.1 L490.3,640.1 L483.75,627.8 Z" fill="#000"/>
<polygon points="483.80,664.80 485.53,669.42 490.46,669.64 486.60,672.71 487.91,677.46 483.80,674.74 479.69,677.46 481.00,672.71 477.14,669.64 482.07,669.42" fill="#000"/>
<text y="640" font-size="25" stroke-width="0.2"><tspan x="491">:α-</tspan><tspan x="520.8">S</tspan><tspan x="535.3">i</tspan><tspan x="542.3" y="646.3" font-size="17" stroke-width="0.1">3</tspan><tspan x="551" y="640">N</tspan><tspan x="570.5" y="646.3" font-size="17" stroke-width="0.1">4</tspan></text>
<text y="677.6" font-size="25" stroke-width="0.2"><tspan x="491">:β-</tspan><tspan x="519.6">S</tspan><tspan x="533.1">i</tspan><tspan x="540.4" y="684" font-size="17" stroke-width="0.1">3</tspan><tspan x="549.7" y="677.6">N</tspan><tspan x="568.9" y="684" font-size="17" stroke-width="0.1">4</tspan></text>
</svg></body></html>
